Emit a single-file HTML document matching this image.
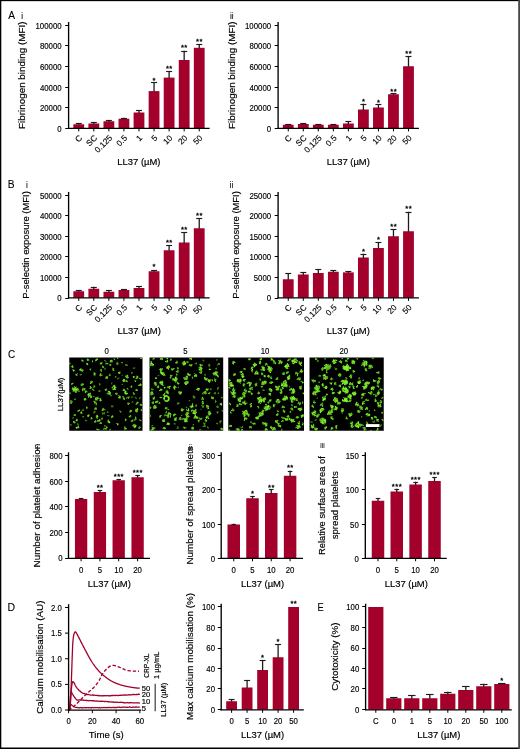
<!DOCTYPE html>
<html lang="en">
<head>
<meta charset="utf-8">
<title>LL37 platelet activation figure</title>
<style>html,body{margin:0;padding:0;background:#fff;}#fig{width:520px;height:749px;will-change:transform;overflow:hidden;}svg{display:block;}text{font-family:"Liberation Sans",sans-serif;}</style>
</head>
<body>
<div id="fig">
<svg width="520" height="749" viewBox="0 0 520 749" font-family='"Liberation Sans", sans-serif'>
<rect x="0" y="0" width="520" height="749" fill="#ffffff"/>
<text x="8.2" y="18.8" font-size="11.4" text-anchor="start" fill="#000" textLength="6.8" lengthAdjust="spacingAndGlyphs" stroke="#000" stroke-width="0.1">A</text>
<rect x="73.35" y="124.25" width="10.8" height="3.95" fill="#A3002B"/>
<line x1="78.75" y1="123.5" x2="78.75" y2="124.75" stroke="#1c1c1c" stroke-width="1.3"/>
<line x1="75.75" y1="123.5" x2="81.75" y2="123.5" stroke="#1c1c1c" stroke-width="1.15"/>
<rect x="88.41" y="123.5" width="10.8" height="4.7" fill="#A3002B"/>
<line x1="93.81" y1="122.5" x2="93.81" y2="124" stroke="#1c1c1c" stroke-width="1.3"/>
<line x1="90.81" y1="122.5" x2="96.81" y2="122.5" stroke="#1c1c1c" stroke-width="1.15"/>
<rect x="103.47" y="121.25" width="10.8" height="6.95" fill="#A3002B"/>
<line x1="108.87" y1="120.5" x2="108.87" y2="121.75" stroke="#1c1c1c" stroke-width="1.3"/>
<line x1="105.87" y1="120.5" x2="111.87" y2="120.5" stroke="#1c1c1c" stroke-width="1.15"/>
<rect x="118.53" y="118.75" width="10.8" height="9.45" fill="#A3002B"/>
<line x1="123.93" y1="117.75" x2="123.93" y2="119.25" stroke="#1c1c1c" stroke-width="1.3"/>
<line x1="120.93" y1="118.5" x2="126.93" y2="118.5" stroke="#1c1c1c" stroke-width="1.15"/>
<rect x="133.59" y="112.5" width="10.8" height="15.7" fill="#A3002B"/>
<line x1="138.99" y1="110.25" x2="138.99" y2="113" stroke="#1c1c1c" stroke-width="1.3"/>
<line x1="135.99" y1="110.5" x2="141.99" y2="110.5" stroke="#1c1c1c" stroke-width="1.15"/>
<rect x="148.65" y="91.1" width="10.8" height="37.1" fill="#A3002B"/>
<line x1="154.05" y1="82.6" x2="154.05" y2="91.6" stroke="#1c1c1c" stroke-width="1.3"/>
<line x1="151.05" y1="82.5" x2="157.05" y2="82.5" stroke="#1c1c1c" stroke-width="1.15"/>
<text x="154.25" y="82.95" font-size="7.6" text-anchor="middle" fill="#000" stroke="#000" stroke-width="0.3" letter-spacing="0.45">*</text>
<rect x="163.71" y="77.6" width="10.8" height="50.6" fill="#A3002B"/>
<line x1="169.11" y1="71.25" x2="169.11" y2="78.1" stroke="#1c1c1c" stroke-width="1.3"/>
<line x1="166.11" y1="71.5" x2="172.11" y2="71.5" stroke="#1c1c1c" stroke-width="1.15"/>
<text x="169.31" y="70.75" font-size="7.6" text-anchor="middle" fill="#000" stroke="#000" stroke-width="0.3" letter-spacing="0.45">**</text>
<rect x="178.77" y="60" width="10.8" height="68.2" fill="#A3002B"/>
<line x1="184.17" y1="50.75" x2="184.17" y2="60.5" stroke="#1c1c1c" stroke-width="1.3"/>
<line x1="181.17" y1="51.5" x2="187.17" y2="51.5" stroke="#1c1c1c" stroke-width="1.15"/>
<text x="184.37" y="50.25" font-size="7.6" text-anchor="middle" fill="#000" stroke="#000" stroke-width="0.3" letter-spacing="0.45">**</text>
<rect x="193.83" y="47.8" width="10.8" height="80.4" fill="#A3002B"/>
<line x1="199.23" y1="44.4" x2="199.23" y2="48.3" stroke="#1c1c1c" stroke-width="1.3"/>
<line x1="196.23" y1="44.5" x2="202.23" y2="44.5" stroke="#1c1c1c" stroke-width="1.15"/>
<text x="199.43" y="44.05" font-size="7.6" text-anchor="middle" fill="#000" stroke="#000" stroke-width="0.3" letter-spacing="0.45">**</text>
<line x1="68.6" y1="22.05" x2="68.6" y2="128.8" stroke="#000" stroke-width="1.35"/>
<line x1="67.95" y1="128.4" x2="209.6" y2="128.4" stroke="#000" stroke-width="1.2"/>
<line x1="65.2" y1="128.5" x2="68.6" y2="128.5" stroke="#000" stroke-width="1.05"/>
<text x="61.6" y="131.75" font-size="8.4" text-anchor="end" fill="#000" textLength="4.34" lengthAdjust="spacingAndGlyphs" stroke="#000" stroke-width="0.15">0</text>
<line x1="65.2" y1="107.5" x2="68.6" y2="107.5" stroke="#000" stroke-width="1.05"/>
<text x="61.6" y="111.13" font-size="8.4" text-anchor="end" fill="#000" textLength="21.72" lengthAdjust="spacingAndGlyphs" stroke="#000" stroke-width="0.15">20000</text>
<line x1="65.2" y1="87.5" x2="68.6" y2="87.5" stroke="#000" stroke-width="1.05"/>
<text x="61.6" y="90.51" font-size="8.4" text-anchor="end" fill="#000" textLength="21.72" lengthAdjust="spacingAndGlyphs" stroke="#000" stroke-width="0.15">40000</text>
<line x1="65.2" y1="66.5" x2="68.6" y2="66.5" stroke="#000" stroke-width="1.05"/>
<text x="61.6" y="69.89" font-size="8.4" text-anchor="end" fill="#000" textLength="21.72" lengthAdjust="spacingAndGlyphs" stroke="#000" stroke-width="0.15">60000</text>
<line x1="65.2" y1="45.5" x2="68.6" y2="45.5" stroke="#000" stroke-width="1.05"/>
<text x="61.6" y="49.27" font-size="8.4" text-anchor="end" fill="#000" textLength="21.72" lengthAdjust="spacingAndGlyphs" stroke="#000" stroke-width="0.15">80000</text>
<line x1="65.2" y1="25.5" x2="68.6" y2="25.5" stroke="#000" stroke-width="1.05"/>
<text x="61.6" y="28.65" font-size="8.4" text-anchor="end" fill="#000" textLength="26.06" lengthAdjust="spacingAndGlyphs" stroke="#000" stroke-width="0.15">100000</text>
<line x1="78.75" y1="128.2" x2="78.75" y2="131.4" stroke="#000" stroke-width="1"/>
<text x="82.65" y="138.5" font-size="8.3" text-anchor="end" fill="#000" transform="rotate(-45 82.65 138.5)" stroke="#000" stroke-width="0.14">C</text>
<line x1="93.81" y1="128.2" x2="93.81" y2="131.4" stroke="#000" stroke-width="1"/>
<text x="97.71" y="138.5" font-size="8.3" text-anchor="end" fill="#000" transform="rotate(-45 97.71 138.5)" stroke="#000" stroke-width="0.14">SC</text>
<line x1="108.87" y1="128.2" x2="108.87" y2="131.4" stroke="#000" stroke-width="1"/>
<text x="112.77" y="138.5" font-size="8.3" text-anchor="end" fill="#000" transform="rotate(-45 112.77 138.5)" stroke="#000" stroke-width="0.14">0.125</text>
<line x1="123.93" y1="128.2" x2="123.93" y2="131.4" stroke="#000" stroke-width="1"/>
<text x="127.83" y="138.5" font-size="8.3" text-anchor="end" fill="#000" transform="rotate(-45 127.83 138.5)" stroke="#000" stroke-width="0.14">0.5</text>
<line x1="138.99" y1="128.2" x2="138.99" y2="131.4" stroke="#000" stroke-width="1"/>
<text x="142.89" y="138.5" font-size="8.3" text-anchor="end" fill="#000" transform="rotate(-45 142.89 138.5)" stroke="#000" stroke-width="0.14">1</text>
<line x1="154.05" y1="128.2" x2="154.05" y2="131.4" stroke="#000" stroke-width="1"/>
<text x="157.95" y="138.5" font-size="8.3" text-anchor="end" fill="#000" transform="rotate(-45 157.95 138.5)" stroke="#000" stroke-width="0.14">5</text>
<line x1="169.11" y1="128.2" x2="169.11" y2="131.4" stroke="#000" stroke-width="1"/>
<text x="173.01" y="138.5" font-size="8.3" text-anchor="end" fill="#000" transform="rotate(-45 173.01 138.5)" stroke="#000" stroke-width="0.14">10</text>
<line x1="184.17" y1="128.2" x2="184.17" y2="131.4" stroke="#000" stroke-width="1"/>
<text x="188.07" y="138.5" font-size="8.3" text-anchor="end" fill="#000" transform="rotate(-45 188.07 138.5)" stroke="#000" stroke-width="0.14">20</text>
<line x1="199.23" y1="128.2" x2="199.23" y2="131.4" stroke="#000" stroke-width="1"/>
<text x="203.13" y="138.5" font-size="8.3" text-anchor="end" fill="#000" transform="rotate(-45 203.13 138.5)" stroke="#000" stroke-width="0.14">50</text>
<text x="138.9" y="164.6" font-size="9.7" text-anchor="middle" fill="#000" textLength="43.2" lengthAdjust="spacingAndGlyphs" stroke="#000" stroke-width="0.18">LL37 (µM)</text>
<text x="25" y="129" font-size="9.9" text-anchor="start" fill="#000" transform="rotate(-90 25 129)" textLength="107.5" lengthAdjust="spacingAndGlyphs" stroke="#000" stroke-width="0.18">Fibrinogen binding (MFI)</text>
<text x="22.2" y="18.7" font-size="8.2" text-anchor="middle" fill="#111" stroke="#111" stroke-width="0.12">i</text>
<rect x="282.85" y="124.75" width="10.8" height="3.45" fill="#A3002B"/>
<line x1="288.25" y1="124" x2="288.25" y2="125.25" stroke="#1c1c1c" stroke-width="1.3"/>
<line x1="285.25" y1="124.5" x2="291.25" y2="124.5" stroke="#1c1c1c" stroke-width="1.15"/>
<rect x="297.88" y="124" width="10.8" height="4.2" fill="#A3002B"/>
<line x1="303.28" y1="123.2" x2="303.28" y2="124.5" stroke="#1c1c1c" stroke-width="1.3"/>
<line x1="300.28" y1="123.5" x2="306.28" y2="123.5" stroke="#1c1c1c" stroke-width="1.15"/>
<rect x="312.91" y="124.75" width="10.8" height="3.45" fill="#A3002B"/>
<line x1="318.31" y1="124" x2="318.31" y2="125.25" stroke="#1c1c1c" stroke-width="1.3"/>
<line x1="315.31" y1="124.5" x2="321.31" y2="124.5" stroke="#1c1c1c" stroke-width="1.15"/>
<rect x="327.94" y="124.75" width="10.8" height="3.45" fill="#A3002B"/>
<line x1="333.34" y1="124" x2="333.34" y2="125.25" stroke="#1c1c1c" stroke-width="1.3"/>
<line x1="330.34" y1="124.5" x2="336.34" y2="124.5" stroke="#1c1c1c" stroke-width="1.15"/>
<rect x="342.97" y="123.5" width="10.8" height="4.7" fill="#A3002B"/>
<line x1="348.37" y1="121.25" x2="348.37" y2="124" stroke="#1c1c1c" stroke-width="1.3"/>
<line x1="345.37" y1="121.5" x2="351.37" y2="121.5" stroke="#1c1c1c" stroke-width="1.15"/>
<rect x="358" y="109.5" width="10.8" height="18.7" fill="#A3002B"/>
<line x1="363.4" y1="103.75" x2="363.4" y2="110" stroke="#1c1c1c" stroke-width="1.3"/>
<line x1="360.4" y1="104.5" x2="366.4" y2="104.5" stroke="#1c1c1c" stroke-width="1.15"/>
<text x="363.6" y="103.75" font-size="7.6" text-anchor="middle" fill="#000" stroke="#000" stroke-width="0.3" letter-spacing="0.45">*</text>
<rect x="373.03" y="107.5" width="10.8" height="20.7" fill="#A3002B"/>
<line x1="378.43" y1="104.25" x2="378.43" y2="108" stroke="#1c1c1c" stroke-width="1.3"/>
<line x1="375.43" y1="104.5" x2="381.43" y2="104.5" stroke="#1c1c1c" stroke-width="1.15"/>
<text x="378.63" y="104.5" font-size="7.6" text-anchor="middle" fill="#000" stroke="#000" stroke-width="0.3" letter-spacing="0.45">*</text>
<rect x="388.06" y="94.25" width="10.8" height="33.95" fill="#A3002B"/>
<line x1="393.46" y1="93.5" x2="393.46" y2="94.75" stroke="#1c1c1c" stroke-width="1.3"/>
<line x1="390.46" y1="93.5" x2="396.46" y2="93.5" stroke="#1c1c1c" stroke-width="1.15"/>
<text x="393.66" y="93.75" font-size="7.6" text-anchor="middle" fill="#000" stroke="#000" stroke-width="0.3" letter-spacing="0.45">**</text>
<rect x="403.09" y="66.25" width="10.8" height="61.95" fill="#A3002B"/>
<line x1="408.49" y1="56" x2="408.49" y2="66.75" stroke="#1c1c1c" stroke-width="1.3"/>
<line x1="405.49" y1="56.5" x2="411.49" y2="56.5" stroke="#1c1c1c" stroke-width="1.15"/>
<text x="408.69" y="56.25" font-size="7.6" text-anchor="middle" fill="#000" stroke="#000" stroke-width="0.3" letter-spacing="0.45">**</text>
<line x1="278.1" y1="22.05" x2="278.1" y2="128.8" stroke="#000" stroke-width="1.35"/>
<line x1="277.45" y1="128.4" x2="418.9" y2="128.4" stroke="#000" stroke-width="1.2"/>
<line x1="274.7" y1="128.5" x2="278.1" y2="128.5" stroke="#000" stroke-width="1.05"/>
<text x="271.1" y="131.75" font-size="8.4" text-anchor="end" fill="#000" textLength="4.34" lengthAdjust="spacingAndGlyphs" stroke="#000" stroke-width="0.15">0</text>
<line x1="274.7" y1="107.5" x2="278.1" y2="107.5" stroke="#000" stroke-width="1.05"/>
<text x="271.1" y="111.13" font-size="8.4" text-anchor="end" fill="#000" textLength="21.72" lengthAdjust="spacingAndGlyphs" stroke="#000" stroke-width="0.15">20000</text>
<line x1="274.7" y1="87.5" x2="278.1" y2="87.5" stroke="#000" stroke-width="1.05"/>
<text x="271.1" y="90.51" font-size="8.4" text-anchor="end" fill="#000" textLength="21.72" lengthAdjust="spacingAndGlyphs" stroke="#000" stroke-width="0.15">40000</text>
<line x1="274.7" y1="66.5" x2="278.1" y2="66.5" stroke="#000" stroke-width="1.05"/>
<text x="271.1" y="69.89" font-size="8.4" text-anchor="end" fill="#000" textLength="21.72" lengthAdjust="spacingAndGlyphs" stroke="#000" stroke-width="0.15">60000</text>
<line x1="274.7" y1="45.5" x2="278.1" y2="45.5" stroke="#000" stroke-width="1.05"/>
<text x="271.1" y="49.27" font-size="8.4" text-anchor="end" fill="#000" textLength="21.72" lengthAdjust="spacingAndGlyphs" stroke="#000" stroke-width="0.15">80000</text>
<line x1="274.7" y1="25.5" x2="278.1" y2="25.5" stroke="#000" stroke-width="1.05"/>
<text x="271.1" y="28.65" font-size="8.4" text-anchor="end" fill="#000" textLength="26.06" lengthAdjust="spacingAndGlyphs" stroke="#000" stroke-width="0.15">100000</text>
<line x1="288.25" y1="128.2" x2="288.25" y2="131.4" stroke="#000" stroke-width="1"/>
<text x="292.15" y="138.5" font-size="8.3" text-anchor="end" fill="#000" transform="rotate(-45 292.15 138.5)" stroke="#000" stroke-width="0.14">C</text>
<line x1="303.28" y1="128.2" x2="303.28" y2="131.4" stroke="#000" stroke-width="1"/>
<text x="307.18" y="138.5" font-size="8.3" text-anchor="end" fill="#000" transform="rotate(-45 307.18 138.5)" stroke="#000" stroke-width="0.14">SC</text>
<line x1="318.31" y1="128.2" x2="318.31" y2="131.4" stroke="#000" stroke-width="1"/>
<text x="322.21" y="138.5" font-size="8.3" text-anchor="end" fill="#000" transform="rotate(-45 322.21 138.5)" stroke="#000" stroke-width="0.14">0.125</text>
<line x1="333.34" y1="128.2" x2="333.34" y2="131.4" stroke="#000" stroke-width="1"/>
<text x="337.24" y="138.5" font-size="8.3" text-anchor="end" fill="#000" transform="rotate(-45 337.24 138.5)" stroke="#000" stroke-width="0.14">0.5</text>
<line x1="348.37" y1="128.2" x2="348.37" y2="131.4" stroke="#000" stroke-width="1"/>
<text x="352.27" y="138.5" font-size="8.3" text-anchor="end" fill="#000" transform="rotate(-45 352.27 138.5)" stroke="#000" stroke-width="0.14">1</text>
<line x1="363.4" y1="128.2" x2="363.4" y2="131.4" stroke="#000" stroke-width="1"/>
<text x="367.3" y="138.5" font-size="8.3" text-anchor="end" fill="#000" transform="rotate(-45 367.3 138.5)" stroke="#000" stroke-width="0.14">5</text>
<line x1="378.43" y1="128.2" x2="378.43" y2="131.4" stroke="#000" stroke-width="1"/>
<text x="382.33" y="138.5" font-size="8.3" text-anchor="end" fill="#000" transform="rotate(-45 382.33 138.5)" stroke="#000" stroke-width="0.14">10</text>
<line x1="393.46" y1="128.2" x2="393.46" y2="131.4" stroke="#000" stroke-width="1"/>
<text x="397.36" y="138.5" font-size="8.3" text-anchor="end" fill="#000" transform="rotate(-45 397.36 138.5)" stroke="#000" stroke-width="0.14">20</text>
<line x1="408.49" y1="128.2" x2="408.49" y2="131.4" stroke="#000" stroke-width="1"/>
<text x="412.39" y="138.5" font-size="8.3" text-anchor="end" fill="#000" transform="rotate(-45 412.39 138.5)" stroke="#000" stroke-width="0.14">50</text>
<text x="348.3" y="164.6" font-size="9.7" text-anchor="middle" fill="#000" textLength="43.2" lengthAdjust="spacingAndGlyphs" stroke="#000" stroke-width="0.18">LL37 (µM)</text>
<text x="234.5" y="129" font-size="9.9" text-anchor="start" fill="#000" transform="rotate(-90 234.5 129)" textLength="107.5" lengthAdjust="spacingAndGlyphs" stroke="#000" stroke-width="0.18">Fibrinogen binding (MFI)</text>
<text x="231.7" y="18.7" font-size="8.2" text-anchor="middle" fill="#111" stroke="#111" stroke-width="0.12">ii</text>
<text x="7.8" y="188.1" font-size="11.4" text-anchor="start" fill="#000" textLength="6.8" lengthAdjust="spacingAndGlyphs" stroke="#000" stroke-width="0.1">B</text>
<rect x="73.35" y="291.25" width="10.8" height="6.45" fill="#A3002B"/>
<line x1="78.75" y1="290" x2="78.75" y2="291.75" stroke="#1c1c1c" stroke-width="1.3"/>
<line x1="75.75" y1="290.5" x2="81.75" y2="290.5" stroke="#1c1c1c" stroke-width="1.15"/>
<rect x="88.41" y="288.75" width="10.8" height="8.95" fill="#A3002B"/>
<line x1="93.81" y1="286.75" x2="93.81" y2="289.25" stroke="#1c1c1c" stroke-width="1.3"/>
<line x1="90.81" y1="287.5" x2="96.81" y2="287.5" stroke="#1c1c1c" stroke-width="1.15"/>
<rect x="103.47" y="291.75" width="10.8" height="5.95" fill="#A3002B"/>
<line x1="108.87" y1="290.25" x2="108.87" y2="292.25" stroke="#1c1c1c" stroke-width="1.3"/>
<line x1="105.87" y1="290.5" x2="111.87" y2="290.5" stroke="#1c1c1c" stroke-width="1.15"/>
<rect x="118.53" y="290" width="10.8" height="7.7" fill="#A3002B"/>
<line x1="123.93" y1="289.25" x2="123.93" y2="290.5" stroke="#1c1c1c" stroke-width="1.3"/>
<line x1="120.93" y1="289.5" x2="126.93" y2="289.5" stroke="#1c1c1c" stroke-width="1.15"/>
<rect x="133.59" y="288" width="10.8" height="9.7" fill="#A3002B"/>
<line x1="138.99" y1="286" x2="138.99" y2="288.5" stroke="#1c1c1c" stroke-width="1.3"/>
<line x1="135.99" y1="286.5" x2="141.99" y2="286.5" stroke="#1c1c1c" stroke-width="1.15"/>
<rect x="148.65" y="271.25" width="10.8" height="26.45" fill="#A3002B"/>
<line x1="154.05" y1="270" x2="154.05" y2="271.75" stroke="#1c1c1c" stroke-width="1.3"/>
<line x1="151.05" y1="270.5" x2="157.05" y2="270.5" stroke="#1c1c1c" stroke-width="1.15"/>
<text x="154.25" y="269.25" font-size="7.6" text-anchor="middle" fill="#000" stroke="#000" stroke-width="0.3" letter-spacing="0.45">*</text>
<rect x="163.71" y="250.25" width="10.8" height="47.45" fill="#A3002B"/>
<line x1="169.11" y1="245.25" x2="169.11" y2="250.75" stroke="#1c1c1c" stroke-width="1.3"/>
<line x1="166.11" y1="245.5" x2="172.11" y2="245.5" stroke="#1c1c1c" stroke-width="1.15"/>
<text x="169.31" y="244.5" font-size="7.6" text-anchor="middle" fill="#000" stroke="#000" stroke-width="0.3" letter-spacing="0.45">**</text>
<rect x="178.77" y="242.5" width="10.8" height="55.2" fill="#A3002B"/>
<line x1="184.17" y1="232.5" x2="184.17" y2="243" stroke="#1c1c1c" stroke-width="1.3"/>
<line x1="181.17" y1="232.5" x2="187.17" y2="232.5" stroke="#1c1c1c" stroke-width="1.15"/>
<text x="184.37" y="232.25" font-size="7.6" text-anchor="middle" fill="#000" stroke="#000" stroke-width="0.3" letter-spacing="0.45">**</text>
<rect x="193.83" y="228.25" width="10.8" height="69.45" fill="#A3002B"/>
<line x1="199.23" y1="218.25" x2="199.23" y2="228.75" stroke="#1c1c1c" stroke-width="1.3"/>
<line x1="196.23" y1="218.5" x2="202.23" y2="218.5" stroke="#1c1c1c" stroke-width="1.15"/>
<text x="199.43" y="218" font-size="7.6" text-anchor="middle" fill="#000" stroke="#000" stroke-width="0.3" letter-spacing="0.45">**</text>
<line x1="68.6" y1="191.9" x2="68.6" y2="298.3" stroke="#000" stroke-width="1.35"/>
<line x1="67.95" y1="297.9" x2="209.6" y2="297.9" stroke="#000" stroke-width="1.2"/>
<line x1="65.2" y1="298.5" x2="68.6" y2="298.5" stroke="#000" stroke-width="1.05"/>
<text x="61.6" y="301.35" font-size="8.4" text-anchor="end" fill="#000" textLength="4.34" lengthAdjust="spacingAndGlyphs" stroke="#000" stroke-width="0.15">0</text>
<line x1="65.2" y1="277.5" x2="68.6" y2="277.5" stroke="#000" stroke-width="1.05"/>
<text x="61.6" y="280.78" font-size="8.4" text-anchor="end" fill="#000" textLength="21.72" lengthAdjust="spacingAndGlyphs" stroke="#000" stroke-width="0.15">10000</text>
<line x1="65.2" y1="256.5" x2="68.6" y2="256.5" stroke="#000" stroke-width="1.05"/>
<text x="61.6" y="260.21" font-size="8.4" text-anchor="end" fill="#000" textLength="21.72" lengthAdjust="spacingAndGlyphs" stroke="#000" stroke-width="0.15">20000</text>
<line x1="65.2" y1="236.5" x2="68.6" y2="236.5" stroke="#000" stroke-width="1.05"/>
<text x="61.6" y="239.64" font-size="8.4" text-anchor="end" fill="#000" textLength="21.72" lengthAdjust="spacingAndGlyphs" stroke="#000" stroke-width="0.15">30000</text>
<line x1="65.2" y1="215.5" x2="68.6" y2="215.5" stroke="#000" stroke-width="1.05"/>
<text x="61.6" y="219.07" font-size="8.4" text-anchor="end" fill="#000" textLength="21.72" lengthAdjust="spacingAndGlyphs" stroke="#000" stroke-width="0.15">40000</text>
<line x1="65.2" y1="195.5" x2="68.6" y2="195.5" stroke="#000" stroke-width="1.05"/>
<text x="61.6" y="198.5" font-size="8.4" text-anchor="end" fill="#000" textLength="21.72" lengthAdjust="spacingAndGlyphs" stroke="#000" stroke-width="0.15">50000</text>
<line x1="78.75" y1="297.7" x2="78.75" y2="300.9" stroke="#000" stroke-width="1"/>
<text x="82.65" y="308" font-size="8.3" text-anchor="end" fill="#000" transform="rotate(-45 82.65 308)" stroke="#000" stroke-width="0.14">C</text>
<line x1="93.81" y1="297.7" x2="93.81" y2="300.9" stroke="#000" stroke-width="1"/>
<text x="97.71" y="308" font-size="8.3" text-anchor="end" fill="#000" transform="rotate(-45 97.71 308)" stroke="#000" stroke-width="0.14">SC</text>
<line x1="108.87" y1="297.7" x2="108.87" y2="300.9" stroke="#000" stroke-width="1"/>
<text x="112.77" y="308" font-size="8.3" text-anchor="end" fill="#000" transform="rotate(-45 112.77 308)" stroke="#000" stroke-width="0.14">0.125</text>
<line x1="123.93" y1="297.7" x2="123.93" y2="300.9" stroke="#000" stroke-width="1"/>
<text x="127.83" y="308" font-size="8.3" text-anchor="end" fill="#000" transform="rotate(-45 127.83 308)" stroke="#000" stroke-width="0.14">0.5</text>
<line x1="138.99" y1="297.7" x2="138.99" y2="300.9" stroke="#000" stroke-width="1"/>
<text x="142.89" y="308" font-size="8.3" text-anchor="end" fill="#000" transform="rotate(-45 142.89 308)" stroke="#000" stroke-width="0.14">1</text>
<line x1="154.05" y1="297.7" x2="154.05" y2="300.9" stroke="#000" stroke-width="1"/>
<text x="157.95" y="308" font-size="8.3" text-anchor="end" fill="#000" transform="rotate(-45 157.95 308)" stroke="#000" stroke-width="0.14">5</text>
<line x1="169.11" y1="297.7" x2="169.11" y2="300.9" stroke="#000" stroke-width="1"/>
<text x="173.01" y="308" font-size="8.3" text-anchor="end" fill="#000" transform="rotate(-45 173.01 308)" stroke="#000" stroke-width="0.14">10</text>
<line x1="184.17" y1="297.7" x2="184.17" y2="300.9" stroke="#000" stroke-width="1"/>
<text x="188.07" y="308" font-size="8.3" text-anchor="end" fill="#000" transform="rotate(-45 188.07 308)" stroke="#000" stroke-width="0.14">20</text>
<line x1="199.23" y1="297.7" x2="199.23" y2="300.9" stroke="#000" stroke-width="1"/>
<text x="203.13" y="308" font-size="8.3" text-anchor="end" fill="#000" transform="rotate(-45 203.13 308)" stroke="#000" stroke-width="0.14">50</text>
<text x="139.2" y="334.3" font-size="9.7" text-anchor="middle" fill="#000" textLength="43.2" lengthAdjust="spacingAndGlyphs" stroke="#000" stroke-width="0.18">LL37 (µM)</text>
<text x="29.4" y="298.7" font-size="9.9" text-anchor="start" fill="#000" transform="rotate(-90 29.4 298.7)" textLength="107.5" lengthAdjust="spacingAndGlyphs" stroke="#000" stroke-width="0.18">P-selectin exposure (MFI)</text>
<text x="26.8" y="188" font-size="8.2" text-anchor="middle" fill="#111" stroke="#111" stroke-width="0.12">i</text>
<rect x="282.85" y="279.25" width="10.8" height="18.45" fill="#A3002B"/>
<line x1="288.25" y1="273.25" x2="288.25" y2="279.75" stroke="#1c1c1c" stroke-width="1.3"/>
<line x1="285.25" y1="273.5" x2="291.25" y2="273.5" stroke="#1c1c1c" stroke-width="1.15"/>
<rect x="297.88" y="274.5" width="10.8" height="23.2" fill="#A3002B"/>
<line x1="303.28" y1="272" x2="303.28" y2="275" stroke="#1c1c1c" stroke-width="1.3"/>
<line x1="300.28" y1="272.5" x2="306.28" y2="272.5" stroke="#1c1c1c" stroke-width="1.15"/>
<rect x="312.91" y="273" width="10.8" height="24.7" fill="#A3002B"/>
<line x1="318.31" y1="269.25" x2="318.31" y2="273.5" stroke="#1c1c1c" stroke-width="1.3"/>
<line x1="315.31" y1="269.5" x2="321.31" y2="269.5" stroke="#1c1c1c" stroke-width="1.15"/>
<rect x="327.94" y="271.75" width="10.8" height="25.95" fill="#A3002B"/>
<line x1="333.34" y1="270.25" x2="333.34" y2="272.25" stroke="#1c1c1c" stroke-width="1.3"/>
<line x1="330.34" y1="270.5" x2="336.34" y2="270.5" stroke="#1c1c1c" stroke-width="1.15"/>
<rect x="342.97" y="272.4" width="10.8" height="25.3" fill="#A3002B"/>
<line x1="348.37" y1="271.25" x2="348.37" y2="272.9" stroke="#1c1c1c" stroke-width="1.3"/>
<line x1="345.37" y1="271.5" x2="351.37" y2="271.5" stroke="#1c1c1c" stroke-width="1.15"/>
<rect x="358" y="257.5" width="10.8" height="40.2" fill="#A3002B"/>
<line x1="363.4" y1="253.75" x2="363.4" y2="258" stroke="#1c1c1c" stroke-width="1.3"/>
<line x1="360.4" y1="254.5" x2="366.4" y2="254.5" stroke="#1c1c1c" stroke-width="1.15"/>
<text x="363.6" y="253.75" font-size="7.6" text-anchor="middle" fill="#000" stroke="#000" stroke-width="0.3" letter-spacing="0.45">*</text>
<rect x="373.03" y="248" width="10.8" height="49.7" fill="#A3002B"/>
<line x1="378.43" y1="242.5" x2="378.43" y2="248.5" stroke="#1c1c1c" stroke-width="1.3"/>
<line x1="375.43" y1="242.5" x2="381.43" y2="242.5" stroke="#1c1c1c" stroke-width="1.15"/>
<text x="378.63" y="242" font-size="7.6" text-anchor="middle" fill="#000" stroke="#000" stroke-width="0.3" letter-spacing="0.45">*</text>
<rect x="388.06" y="236.25" width="10.8" height="61.45" fill="#A3002B"/>
<line x1="393.46" y1="229.25" x2="393.46" y2="236.75" stroke="#1c1c1c" stroke-width="1.3"/>
<line x1="390.46" y1="229.5" x2="396.46" y2="229.5" stroke="#1c1c1c" stroke-width="1.15"/>
<text x="393.66" y="229.25" font-size="7.6" text-anchor="middle" fill="#000" stroke="#000" stroke-width="0.3" letter-spacing="0.45">**</text>
<rect x="403.09" y="231.25" width="10.8" height="66.45" fill="#A3002B"/>
<line x1="408.49" y1="211.75" x2="408.49" y2="231.75" stroke="#1c1c1c" stroke-width="1.3"/>
<line x1="405.49" y1="212.5" x2="411.49" y2="212.5" stroke="#1c1c1c" stroke-width="1.15"/>
<text x="408.69" y="211.25" font-size="7.6" text-anchor="middle" fill="#000" stroke="#000" stroke-width="0.3" letter-spacing="0.45">**</text>
<line x1="278.1" y1="191.9" x2="278.1" y2="298.3" stroke="#000" stroke-width="1.35"/>
<line x1="277.45" y1="297.9" x2="418.9" y2="297.9" stroke="#000" stroke-width="1.2"/>
<line x1="274.7" y1="298.5" x2="278.1" y2="298.5" stroke="#000" stroke-width="1.05"/>
<text x="271.1" y="301.35" font-size="8.4" text-anchor="end" fill="#000" textLength="4.34" lengthAdjust="spacingAndGlyphs" stroke="#000" stroke-width="0.15">0</text>
<line x1="274.7" y1="277.5" x2="278.1" y2="277.5" stroke="#000" stroke-width="1.05"/>
<text x="271.1" y="280.78" font-size="8.4" text-anchor="end" fill="#000" textLength="17.37" lengthAdjust="spacingAndGlyphs" stroke="#000" stroke-width="0.15">5000</text>
<line x1="274.7" y1="256.5" x2="278.1" y2="256.5" stroke="#000" stroke-width="1.05"/>
<text x="271.1" y="260.21" font-size="8.4" text-anchor="end" fill="#000" textLength="21.72" lengthAdjust="spacingAndGlyphs" stroke="#000" stroke-width="0.15">10000</text>
<line x1="274.7" y1="236.5" x2="278.1" y2="236.5" stroke="#000" stroke-width="1.05"/>
<text x="271.1" y="239.64" font-size="8.4" text-anchor="end" fill="#000" textLength="21.72" lengthAdjust="spacingAndGlyphs" stroke="#000" stroke-width="0.15">15000</text>
<line x1="274.7" y1="215.5" x2="278.1" y2="215.5" stroke="#000" stroke-width="1.05"/>
<text x="271.1" y="219.07" font-size="8.4" text-anchor="end" fill="#000" textLength="21.72" lengthAdjust="spacingAndGlyphs" stroke="#000" stroke-width="0.15">20000</text>
<line x1="274.7" y1="195.5" x2="278.1" y2="195.5" stroke="#000" stroke-width="1.05"/>
<text x="271.1" y="198.5" font-size="8.4" text-anchor="end" fill="#000" textLength="21.72" lengthAdjust="spacingAndGlyphs" stroke="#000" stroke-width="0.15">25000</text>
<line x1="288.25" y1="297.7" x2="288.25" y2="300.9" stroke="#000" stroke-width="1"/>
<text x="292.15" y="308" font-size="8.3" text-anchor="end" fill="#000" transform="rotate(-45 292.15 308)" stroke="#000" stroke-width="0.14">C</text>
<line x1="303.28" y1="297.7" x2="303.28" y2="300.9" stroke="#000" stroke-width="1"/>
<text x="307.18" y="308" font-size="8.3" text-anchor="end" fill="#000" transform="rotate(-45 307.18 308)" stroke="#000" stroke-width="0.14">SC</text>
<line x1="318.31" y1="297.7" x2="318.31" y2="300.9" stroke="#000" stroke-width="1"/>
<text x="322.21" y="308" font-size="8.3" text-anchor="end" fill="#000" transform="rotate(-45 322.21 308)" stroke="#000" stroke-width="0.14">0.125</text>
<line x1="333.34" y1="297.7" x2="333.34" y2="300.9" stroke="#000" stroke-width="1"/>
<text x="337.24" y="308" font-size="8.3" text-anchor="end" fill="#000" transform="rotate(-45 337.24 308)" stroke="#000" stroke-width="0.14">0.5</text>
<line x1="348.37" y1="297.7" x2="348.37" y2="300.9" stroke="#000" stroke-width="1"/>
<text x="352.27" y="308" font-size="8.3" text-anchor="end" fill="#000" transform="rotate(-45 352.27 308)" stroke="#000" stroke-width="0.14">1</text>
<line x1="363.4" y1="297.7" x2="363.4" y2="300.9" stroke="#000" stroke-width="1"/>
<text x="367.3" y="308" font-size="8.3" text-anchor="end" fill="#000" transform="rotate(-45 367.3 308)" stroke="#000" stroke-width="0.14">5</text>
<line x1="378.43" y1="297.7" x2="378.43" y2="300.9" stroke="#000" stroke-width="1"/>
<text x="382.33" y="308" font-size="8.3" text-anchor="end" fill="#000" transform="rotate(-45 382.33 308)" stroke="#000" stroke-width="0.14">10</text>
<line x1="393.46" y1="297.7" x2="393.46" y2="300.9" stroke="#000" stroke-width="1"/>
<text x="397.36" y="308" font-size="8.3" text-anchor="end" fill="#000" transform="rotate(-45 397.36 308)" stroke="#000" stroke-width="0.14">20</text>
<line x1="408.49" y1="297.7" x2="408.49" y2="300.9" stroke="#000" stroke-width="1"/>
<text x="412.39" y="308" font-size="8.3" text-anchor="end" fill="#000" transform="rotate(-45 412.39 308)" stroke="#000" stroke-width="0.14">50</text>
<text x="348.3" y="334.3" font-size="9.7" text-anchor="middle" fill="#000" textLength="43.2" lengthAdjust="spacingAndGlyphs" stroke="#000" stroke-width="0.18">LL37 (µM)</text>
<text x="238.8" y="298.7" font-size="9.9" text-anchor="start" fill="#000" transform="rotate(-90 238.8 298.7)" textLength="107.5" lengthAdjust="spacingAndGlyphs" stroke="#000" stroke-width="0.18">P-selectin exposure (MFI)</text>
<text x="231.4" y="188.2" font-size="8.2" text-anchor="middle" fill="#111" stroke="#111" stroke-width="0.12">ii</text>
<text x="7.9" y="357.6" font-size="11.4" text-anchor="start" fill="#000" textLength="7.2" lengthAdjust="spacingAndGlyphs" stroke="#000" stroke-width="0.1">C</text>
<defs><filter id="soft" x="-5%" y="-5%" width="110%" height="110%"><feGaussianBlur stdDeviation="0.27"/></filter>
<clipPath id="clip0"><rect x="69.25" y="357.5" width="73.25" height="73.25"/></clipPath>
<clipPath id="clip1"><rect x="149.5" y="357.5" width="73.7" height="73.25"/></clipPath>
<clipPath id="clip2"><rect x="228.25" y="357.5" width="75.75" height="73.25"/></clipPath>
<clipPath id="clip3"><rect x="309.5" y="357.5" width="74.25" height="73.25"/></clipPath>
</defs>
<rect x="69.25" y="357.5" width="73.25" height="73.25" fill="#000"/>
<g clip-path="url(#clip0)"><g filter="url(#soft)" fill="none" stroke-linecap="round">
<path d="M105.32 360.94h.01M105.94 361.45h.01M105.44 368.75h.01M104.94 368.04h.01M80.08 374.7h.01M100.08 384.2h.01M99.44 383.57h.01M99.35 384.44h.01M99.57 391.37h.01M78.82 390.61h.01M78.37 391.35h.01M78.3 389.82h.01M117.57 363.9h.01M117.35 362.24h.01M116.78 362.83h.01M122.36 363.07h.01M126.25 365.51h.01M126.77 364.8h.01M133.23 368.13h.01M131.71 372.6h.01M131.44 373.27h.01M115.35 377.43h.01M118.21 378.35h.01M118.96 378.19h.01M111.68 383.83h.01M111.84 383.04h.01M93.19 396.78h.01M74.7 399.47h.01M75.57 399.51h.01M82.94 410.05h.01M83.1 409.34h.01M82.22 410.51h.01M94.56 412.23h.01M93.98 413.04h.01M95.39 411.87h.01M94.61 411.35h.01M102.34 413.69h.01M102.93 414.25h.01M82.82 416.35h.01M83.69 416.59h.01M85.79 420.07h.01M85.7 420.83h.01M86.47 420.66h.01M70.78 424.71h.01M71.62 424.95h.01M69.99 425h.01M105.47 425.95h.01M104.78 425.51h.01M106.14 426.49h.01M103.77 428.62h.01M104.11 429.32h.01M103.37 429.37h.01M69.22 416.94h.01M68.5 417.18h.01M111.04 396.02h.01M111.56 395.46h.01M110.64 395.38h.01M127.03 397.42h.01M132.04 397.12h.01M132.94 396.97h.01M131.26 397.59h.01M135.84 397.75h.01M135.22 397.23h.01M140.18 397.31h.01M112.17 406.09h.01M111.27 405.95h.01M112.74 406.82h.01M113.03 405.98h.01M111.77 406.85h.01M108.33 415.84h.01M109.07 415.8h.01M107.56 415.58h.01M142.46 416.24h.01" stroke="#58C41C" stroke-width="0.85"/>
<path d="M87.64 360.54h.01M96.54 358.89h.01M95.42 360.18h.01M104.71 360.4h.01M106.91 363.39h.01M71.84 366.68h.01M90.81 369.12h.01M104.75 369.25h.01M80.75 374.99h.01M81.26 374.45h.01M99.79 375.61h.01M91.73 381.22h.01M99.87 385.02h.01M93 389.99h.01M98.85 391.29h.01M100.17 390.94h.01M99.17 390.63h.01M89.13 393.47h.01M89.86 394.88h.01M79.37 391.23h.01M117.81 364.68h.01M117.46 363.09h.01M116.98 364.32h.01M116.49 363.7h.01M118.25 363.36h.01M122.17 362.32h.01M121.34 362.53h.01M125.48 365.11h.01M127.39 365.29h.01M125.97 364.53h.01M133.98 368.33h.01M134.82 367.91h.01M132.48 372.81h.01M115.29 376.69h.01M116 376.85h.01M122.11 375.22h.01M117.57 378.86h.01M136.82 376.79h.01M135.9 380.67h.01M128.13 389.38h.01M124.63 392.83h.01M116.34 393.9h.01M133.62 394.17h.01M93.85 396.5h.01M84.16 398.89h.01M75.03 398.8h.01M71.58 400.98h.01M96.65 408.29h.01M83.78 410.35h.01M93.76 412.24h.01M103.82 413.22h.01M104.3 412.5h.01M103.16 413.56h.01M102.16 412.79h.01M104.38 413.87h.01M107.31 412.43h.01M91.35 417.39h.01M83.11 417.08h.01M76.47 419.36h.01M96.16 421.29h.01M77.95 423.9h.01M77.22 423.92h.01M78.15 424.64h.01M104.31 426.08h.01M107.17 427.89h.01M73.47 417.77h.01M72.81 418.13h.01M126.6 398.04h.01M136.23 398.43h.01M139.82 397.97h.01M139.72 398.71h.01M132.78 401.87h.01M132.05 402.13h.01M128.51 403.38h.01M105.03 409.81h.01M104.31 409.74h.01M120.13 411.53h.01M119.92 410.84h.01M120.86 411.55h.01M120.79 412.4h.01M141.91 409.45h.01M132.05 421.8h.01M106.14 429.23h.01M110.4 429.33h.01" stroke="#58C41C" stroke-width="1"/>
<path d="M96.04 359.56h.01M106.07 363.03h.01M90.04 369.19h.01M101.52 369.62h.01M81.06 384.62h.01M82.32 390.03h.01M91.43 387.56h.01M94.85 386.27h.01M105.44 390.37h.01M70.18 393.62h.01M109.64 364.87h.01M109.57 374.86h.01M109.15 375.47h.01M122.23 384.33h.01M127.55 388.82h.01M123.89 389.11h.01M124.66 389.48h.01M136.39 389.55h.01M137.38 390.48h.01M124.82 391.97h.01M117.21 393.89h.01M94.72 403.15h.01M86.69 406.71h.01M87.38 407.71h.01M96.29 416.66h.01M95.43 420.53h.01M99.09 429.63h.01M125.98 394.13h.01M127.99 402.75h.01M136.1 404.19h.01M141.61 405.35h.01M141.65 404.59h.01M139.46 427.55h.01M140.32 427.51h.01" stroke="#58C41C" stroke-width="1.15"/>
<path d="M86.63 364.07h.01M72.53 366.44h.01M100.34 369.92h.01M94.28 373.75h.01M94.99 374.04h.01M83.22 388.2h.01M87.06 391.81h.01M85.38 392.49h.01M105.24 389.39h.01M114.66 359.19h.01M125.81 393.2h.01M134.54 393.99h.01M71.7 402.19h.01M100.69 398.75h.01M96.24 403.01h.01M95.95 407.9h.01M94.6 409.19h.01M102.24 409.88h.01M78.03 411.3h.01M81.68 411.83h.01M107.85 411.95h.01M75.12 415.62h.01M102.37 418.87h.01M74.26 422h.01M128.28 398.23h.01M122.8 396.73h.01M130.08 411.98h.01M129.3 416.48h.01M135.5 418.56h.01M135.92 419.18h.01M132.22 420.3h.01M117.54 423.85h.01" stroke="#58C41C" stroke-width="1.3"/>
<path d="M81.79 360.72h.01M81.89 359.91h.01M95.72 360.88h.01M92.65 360.87h.01M69.8 364.14h.01M86.39 363.27h.01M101.51 363.91h.01M72.43 365.66h.01M71.18 366.39h.01M103.41 366.77h.01M102.42 366.21h.01M73.51 371.15h.01M82.98 370.65h.01M81.12 368.8h.01M101.08 370.34h.01M77.27 373.78h.01M75.81 374.32h.01M100.53 375.01h.01M100.51 375.79h.01M101.3 375.41h.01M105.9 377.02h.01M90.82 381.54h.01M92.4 381.68h.01M73.06 383.25h.01M71.65 383.87h.01M71.83 384.63h.01M81.71 384.09h.01M82.54 383.86h.01M82.22 385.25h.01M75.84 391.4h.01M72.33 388.09h.01M74.15 391.14h.01M83.85 389.59h.01M84.35 389.06h.01M90.55 387.51h.01M94.14 386.65h.01M93.9 387.51h.01M86.12 391.77h.01M85.53 390.94h.01M86.26 391.04h.01M106 389.76h.01M106.79 390.07h.01M69.38 393.24h.01M89.65 394.17h.01M113.68 368.48h.01M112.78 368.26h.01M118.91 373.33h.01M110.14 375.44h.01M110.04 374.14h.01M127.46 375.18h.01M127.47 378.13h.01M125.61 376.58h.01M137.13 378.62h.01M140.16 379.1h.01M139.53 378.41h.01M127.3 381.63h.01M130.81 386.8h.01M109.72 392.46h.01M110.59 392.67h.01M116.86 393.13h.01M133.82 393.4h.01M140.57 358.38h.01M88.63 397.27h.01M91.34 396.49h.01M90.47 397.6h.01M70.92 402.08h.01M96.77 397.73h.01M96.47 403.88h.01M95.74 403.98h.01M96.37 404.77h.01M86.78 408.52h.01M95.5 408.97h.01M102.9 409.54h.01M102.47 408.89h.01M102.16 410.63h.01M103.73 408.38h.01M78.83 410.8h.01M81.02 413.26h.01M75.59 414.88h.01M101.71 419.2h.01M77.26 419.26h.01M97.49 420.73h.01M78.93 427.8h.01M98.3 429.83h.01M125.8 392.96h.01M126.81 394.12h.01M124.6 398.01h.01M124.53 399.37h.01M128.75 397.62h.01M127.89 397.28h.01M127.63 403.83h.01M137.35 402.19h.01M140.45 404.28h.01M140.07 404.97h.01M130.72 411.21h.01M129.82 411.31h.01M111.67 417.7h.01M111.55 416.37h.01M130.97 416.15h.01M125.63 420.65h.01M125.49 419.1h.01M131.05 421.14h.01M132.94 420.85h.01M132.95 419.98h.01M140.24 420.48h.01M141 420.78h.01M133.28 426.11h.01M139.27 428.47h.01M138.62 427.96h.01M124.89 428.56h.01M104.65 428.27h.01" stroke="#72EE26" stroke-width="1"/>
<path d="M82.65 360.39h.01M87.87 359.85h.01M87.15 359.84h.01M96.26 360.3h.01M96.87 359.66h.01M92.57 361.64h.01M69.23 363.6h.01M100.28 363.95h.01M72.42 367.17h.01M73.24 366.96h.01M102.67 366.95h.01M72.94 369.68h.01M81.48 370.06h.01M76.68 374.47h.01M76.16 375.03h.01M77.04 375.22h.01M94.07 372.9h.01M102.11 375.02h.01M100.96 373.94h.01M105.72 378.29h.01M107.66 376.91h.01M81.32 385.36h.01M75.11 391.03h.01M75.39 392.06h.01M74.5 388.58h.01M83.17 389.04h.01M90.81 388.22h.01M89.99 388.37h.01M93.79 390.15h.01M70 392.79h.01M88.99 394.5h.01M88.44 394.03h.01M90.22 393.15h.01M107.2 393.29h.01M112.17 360.7h.01M112.18 361.57h.01M110.29 361.53h.01M113.94 359.03h.01M110.76 364.63h.01M113.1 369.23h.01M136.88 377.76h.01M136.19 378.41h.01M136.99 376.07h.01M123.28 380.05h.01M126.85 381.07h.01M126.14 380.44h.01M126.07 381.18h.01M135.47 381.49h.01M139.65 385.46h.01M114.51 389.22h.01M127.1 388.21h.01M136.55 390.29h.01M135.83 390.09h.01M137.22 389.7h.01M126.21 391.78h.01M116.11 394.61h.01M141.92 357.83h.01M85.07 399.25h.01M85.66 398.58h.01M84.83 398.51h.01M84.92 400.1h.01M72.13 401.6h.01M97.55 397.71h.01M99.97 398.66h.01M101.18 400.52h.01M94.49 402.11h.01M94.99 401.35h.01M95.23 402.42h.01M86.61 407.59h.01M96.24 409.14h.01M103.66 409.16h.01M103.02 410.36h.01M81.91 413.33h.01M80.82 412.35h.01M74.11 415.13h.01M88.7 415.79h.01M87.74 415.63h.01M91.15 418.9h.01M92.08 418.22h.01M96.41 415.77h.01M76.83 420.02h.01M99.05 420.15h.01M99.13 421.08h.01M95.25 421.35h.01M95.66 421.97h.01M73.47 421.91h.01M73.84 421.24h.01M75.09 422.35h.01M99.96 423.46h.01M100.67 422.24h.01M77.65 426.95h.01M106.45 427.83h.01M97.64 429.52h.01M96.81 429.15h.01M125.38 393.65h.01M124.91 393.07h.01M119.26 396.2h.01M118.92 395.53h.01M124.11 398.64h.01M123.24 398.93h.01M129.06 396.9h.01M123.47 397.06h.01M128.46 404.18h.01M129.27 403.33h.01M137.59 408.66h.01M135.85 410.09h.01M141.21 409.73h.01M112.93 416.7h.01M130.12 416.32h.01M130.45 415.47h.01M129.83 416.99h.01M135.05 419.28h.01M136.01 417.92h.01M135.52 417.11h.01M126.29 419.75h.01M108 421.68h.01M118.3 424.04h.01M116.81 423.54h.01M134.09 426.93h.01M135.25 427.29h.01M139.82 426.7h.01M125.54 428.19h.01M124.98 429.46h.01M126.38 428.64h.01M124.87 426.88h.01M105.31 428.84h.01M109.89 429.84h.01" stroke="#72EE26" stroke-width="1.15"/>
<path d="M83.03 361.13h.01M87.62 359.1h.01M88.61 360.01h.01M97.52 359.23h.01M69.94 363.09h.01M87.43 363.77h.01M87.71 364.54h.01M101.27 363.18h.01M100.41 363.13h.01M102.03 362.86h.01M107.73 363.67h.01M106.12 363.77h.01M103.15 367.61h.01M73.45 370.28h.01M74.14 370.48h.01M79.65 369.78h.01M90.42 369.84h.01M101.27 371.22h.01M94.98 374.88h.01M94.07 374.67h.01M95.02 373.21h.01M100.13 374.25h.01M106.37 377.63h.01M107.22 377.58h.01M107.11 378.42h.01M106.76 376.92h.01M90.98 382.56h.01M91.52 382.05h.01M90.46 383.25h.01M91.87 382.8h.01M72.39 383.63h.01M82.81 384.73h.01M83.38 384.09h.01M73.76 389.59h.01M74 390.38h.01M72.97 389.49h.01M78.15 388.8h.01M84.91 388.56h.01M82.46 389.15h.01M84.66 389.76h.01M82.84 390.64h.01M90.34 386.62h.01M94.14 385.91h.01M92.66 389.18h.01M85.39 391.68h.01M106.45 389.09h.01M90.49 393.95h.01M110.53 360.73h.01M117.53 358.2h.01M117.41 357.47h.01M110.3 365.2h.01M113.04 369.99h.01M113.81 370.33h.01M119.98 372.08h.01M126.09 375.83h.01M134.14 376.75h.01M133.36 376.71h.01M133.65 377.46h.01M137.8 377.65h.01M137.58 376.76h.01M140.99 378.79h.01M135.05 380.87h.01M114.34 387.69h.01M115.85 387.3h.01M131.62 387.04h.01M131.58 386.23h.01M123.9 389.93h.01M123.26 390.4h.01M125.52 392.52h.01M125.37 391.38h.01M124.92 390.69h.01M115.81 393.28h.01M133.35 392.84h.01M141.34 358.31h.01M88.87 394.02h.01M85.91 399.62h.01M84.36 399.64h.01M70.69 402.79h.01M71.25 403.32h.01M70.78 400.97h.01M95.62 398.7h.01M100.63 399.68h.01M99.95 400.26h.01M100.53 400.82h.01M93.93 401.35h.01M95.27 408.18h.01M78.14 410.53h.01M79.44 410.24h.01M81.57 412.65h.01M74.79 414.86h.01M88.37 415.09h.01M88.12 416.49h.01M89.1 415.04h.01M91.35 418.11h.01M97.12 416.77h.01M96.69 417.61h.01M97.32 415.51h.01M97.34 418.1h.01M97.77 416.4h.01M102.02 418.15h.01M77.09 420.71h.01M76.16 420.53h.01M97.93 421.36h.01M99.86 419.76h.01M94.58 421.93h.01M74.3 422.79h.01M100.64 423.03h.01M101.45 423.15h.01M106.96 427.18h.01M126.49 393.37h.01M127.3 393.44h.01M136.87 402.96h.01M136.84 403.78h.01M138.07 402.67h.01M140.8 404.95h.01M131.43 411.01h.01M130.73 410.38h.01M136.2 410.82h.01M141.26 410.55h.01M112.16 416.97h.01M112.5 416h.01M134.71 420.06h.01M125.49 419.9h.01M131.92 421.01h.01M139.74 419.83h.01M117.64 424.73h.01M135.95 425.65h.01M124.68 427.79h.01M106.01 428.29h.01" stroke="#72EE26" stroke-width="1.3"/>
<path d="M82.23 370.08h.01M82.45 371.17h.01M76.61 390.08h.01M72.87 388.67h.01M74.86 387.56h.01M77.45 389.03h.01M76.11 388.47h.01M72.22 389.01h.01M76.96 390.94h.01M74.35 386.81h.01M76.13 386.92h.01M111.39 361.09h.01M111.35 360.22h.01M119.51 372.65h.01M127.05 376.77h.01M126.91 375.9h.01M127.8 376.89h.01M128.27 377.56h.01M123.65 379.33h.01M123.66 381.42h.01M140.34 383.89h.01M140.38 385.41h.01M140.66 384.69h.01M141.5 384.98h.01M114.32 386.97h.01M114.82 385.36h.01M115.67 388.11h.01M112.05 387.78h.01M107.89 394.06h.01M90.19 395.51h.01M90.54 396.37h.01M96.72 399.3h.01M95.98 399.36h.01M96.19 400.06h.01M97.16 400.07h.01M97.62 399.1h.01M78.24 426.03h.01M78.08 427.64h.01M76.61 428.23h.01M119.42 396.91h.01M120.47 396.98h.01M136.89 409.53h.01M135.42 410.94h.01M136.09 411.67h.01M109.42 421.74h.01M108.25 420.04h.01M133.94 425.81h.01M135.21 425.76h.01M134.6 424.83h.01M133.59 425.02h.01M133.97 424.33h.01M132.73 425.6h.01M134.51 427.72h.01" stroke="#84FA30" stroke-width="1"/>
<path d="M82.94 369.78h.01M74.6 389.36h.01M75.71 389.94h.01M76.25 390.79h.01M77.43 390.08h.01M75.2 388.36h.01M78 389.58h.01M73.73 388.82h.01M75.71 387.68h.01M77 388.24h.01M72.99 387.77h.01M119.8 373.35h.01M126.32 377.04h.01M123.67 380.65h.01M122.74 380.78h.01M138.81 385.41h.01M113.38 386.73h.01M112.55 387.11h.01M115.42 389.49h.01M109.1 393.15h.01M109.97 394.53h.01M109.53 391.63h.01M108.65 391.37h.01M108.19 392.06h.01M108.57 393.79h.01M89.35 395.71h.01M88.48 395.95h.01M89.03 396.54h.01M87.86 395.01h.01M88.09 394.3h.01M98.02 396.95h.01M95.93 397.5h.01M95.3 399.77h.01M98.31 398.51h.01M98.29 420.52h.01M120.22 397.97h.01M118.44 397.6h.01M120.01 396.26h.01M136.82 411.8h.01M135.3 425.02h.01" stroke="#84FA30" stroke-width="1.15"/>
<path d="M80.71 369.97h.01M80.36 369.27h.01M81.18 370.76h.01M75.47 389.17h.01M76.38 389.36h.01M74.87 390.16h.01M73.21 390.9h.01M76.28 392.12h.01M110.97 361.93h.01M118.64 372.6h.01M126.92 377.57h.01M127.68 375.93h.01M124.55 380.99h.01M124.45 379.59h.01M139.94 384.72h.01M114.43 388.41h.01M114.09 386.23h.01M115.11 386.92h.01M113.97 385.42h.01M113.75 389.24h.01M112.9 389.05h.01M109.6 393.89h.01M110.23 393.47h.01M91.09 395.8h.01M88.8 394.96h.01M91.23 397.37h.01M97.07 398.43h.01M99.78 420.63h.01M78.47 426.83h.01M77.16 427.73h.01M76.31 427.38h.01M119.31 397.76h.01M136.96 410.31h.01M137.74 409.54h.01M137.3 411.06h.01M136.1 409.14h.01M108.83 421.29h.01M108.18 420.87h.01M108.9 422.39h.01M109.65 422.68h.01M134.66 426.27h.01M135.59 426.44h.01" stroke="#84FA30" stroke-width="1.3"/>
</g></g>
<rect x="149.5" y="357.5" width="73.7" height="73.25" fill="#000"/>
<g clip-path="url(#clip1)"><g filter="url(#soft)" fill="none" stroke-linecap="round">
<path d="M158.88 375.73h.01M158.13 375.42h.01M153.32 389.3h.01M152.6 389.94h.01M151.77 388.73h.01M178.42 387.63h.01M178.16 386.93h.01M149.15 382.92h.01M195.85 363.76h.01M195.07 363.69h.01M196.41 362.99h.01M202.83 360.23h.01M209.18 365.08h.01M208.71 365.7h.01M208.83 364.35h.01M209.88 365.56h.01M209.65 364.26h.01M219.56 364.44h.01M217.36 365.05h.01M215.79 368.65h.01M216.2 369.25h.01M193.02 377.38h.01M192.24 376.97h.01M205.45 374.69h.01M204.75 374.35h.01M211.37 389.13h.01M218.36 388.18h.01M218.37 387.39h.01M217.55 388.71h.01M215.24 393.34h.01M214.64 392.79h.01M215.57 392.63h.01M214.99 394.08h.01M214.11 393.54h.01M218.73 393.65h.01M218.62 392.85h.01M218 393.37h.01M194.34 373.59h.01M195.02 373.9h.01M149.31 401.04h.01M178.21 403.9h.01M178.23 403.18h.01M186.14 407.65h.01M186.94 407.88h.01M186.76 407.15h.01M150.69 416.4h.01M181.39 415.58h.01M149.59 421.9h.01M174.97 424.29h.01M174.08 423.71h.01M178.08 427.42h.01M178.64 427.99h.01M177.88 428.3h.01M184.11 427.69h.01M183.2 427.76h.01M151.81 425.94h.01M193.44 397.26h.01M194.01 396.56h.01M193.53 395.84h.01M194.76 396.51h.01M222.35 397.62h.01M189.82 400.62h.01M215.35 402.6h.01M216.26 401.36h.01M215.52 400.28h.01M196.28 405.42h.01M196.78 405.94h.01M203.06 406.05h.01M203.65 406.58h.01M203.92 405.8h.01M217.47 406.82h.01M217.23 412.29h.01M217.17 411.48h.01M222.45 411.32h.01M220.5 421.38h.01M220.35 422.28h.01M219.54 421.82h.01M220.82 420.6h.01M203.57 423.02h.01M204.61 424.22h.01M217.38 423.2h.01M217.31 423.94h.01M193.09 424.49h.01M205.02 425.72h.01M205.58 426.29h.01M204.6 426.54h.01M207.75 427.87h.01" stroke="#58C41C" stroke-width="0.85"/>
<path d="M162.67 358.18h.01M167.24 357.67h.01M170.97 360.64h.01M176.84 361.03h.01M186.56 361.89h.01M174.26 368.48h.01M178.48 371.1h.01M164.07 375.07h.01M177.36 374.81h.01M171 375.5h.01M170.04 377.67h.01M183.64 377.67h.01M168.21 386.72h.01M152.4 389.21h.01M151.61 389.57h.01M167.98 390.99h.01M164.83 394.07h.01M190.32 365.49h.01M196.65 363.75h.01M203.6 360.21h.01M203.86 361.11h.01M200.12 371.68h.01M201.44 370.68h.01M209.26 366.26h.01M210.79 369.45h.01M218.02 364.54h.01M218.84 364.19h.01M219.31 363.64h.01M218.61 363.33h.01M216.55 368.29h.01M217.41 376.15h.01M192.29 377.73h.01M192.47 378.43h.01M205.08 375.37h.01M210.71 389.5h.01M210.18 388.92h.01M217.55 387.9h.01M217.83 389.38h.01M217.18 359.77h.01M216.46 360h.01M159.93 403.31h.01M149.86 400.49h.01M178.93 403.56h.01M177.48 403.37h.01M178.83 402.74h.01M177.18 404.09h.01M166.41 411.35h.01M164.32 415.94h.01M159.41 417.1h.01M160.31 417.25h.01M174.33 415.39h.01M149.96 416.09h.01M150.33 415.22h.01M149.74 414.78h.01M181.96 415.13h.01M184.47 421.77h.01M184.63 419.46h.01M174.9 423.56h.01M177.66 426.68h.01M176.99 428.32h.01M183.79 426.91h.01M184.23 428.47h.01M184.86 427.81h.01M154.91 427.36h.01M152.4 425.51h.01M151.15 429.41h.01M194.26 397.35h.01M193.22 396.56h.01M194.98 397.84h.01M194.05 398.18h.01M221.64 397.28h.01M221.29 398.01h.01M189.1 400.77h.01M203.52 401.92h.01M215.44 401.77h.01M215.27 401.02h.01M196.19 404.67h.01M195.62 405.89h.01M196.06 406.56h.01M202.32 406.25h.01M202.42 407.03h.01M203.11 407.62h.01M201.83 405.55h.01M218.41 406.94h.01M217.59 405.94h.01M216.62 406.87h.01M217.82 407.54h.01M210.31 412.55h.01M217.18 413.05h.01M217.95 412.07h.01M217.9 412.81h.01M222.16 410.46h.01M186.11 421.75h.01M187.54 421.55h.01M221.28 421.25h.01M220.1 422.97h.01M204.43 423.36h.01M203.93 423.97h.01M205.22 422.94h.01M216.66 423.4h.01M193.66 424.94h.01M204.18 425.81h.01M203.83 426.45h.01M202.94 426.35h.01M204.82 424.86h.01M185.17 428.01h.01M207.59 426.98h.01M208.59 427.85h.01M200.96 409.3h.01" stroke="#58C41C" stroke-width="1"/>
<path d="M170.17 360.06h.01M159.39 369.45h.01M176.94 371.14h.01M177.86 369.88h.01M186.24 377.7h.01M188.03 373.93h.01M177.39 383.54h.01M156.25 383.29h.01M169.05 387.19h.01M166.92 390.44h.01M166.84 392.15h.01M180.62 392.31h.01M152.22 393.79h.01M151.28 393.71h.01M200.34 372.89h.01M206.77 388.61h.01M206.59 393.3h.01M203.34 392.88h.01M161.71 397.63h.01M153.55 402.27h.01M149.51 412h.01M166.48 412.19h.01M164.6 420.56h.01M186.86 421.28h.01M164.77 428.94h.01M164.65 428.04h.01M154.24 428.78h.01M202.09 402.79h.01M202.17 402.03h.01M208.25 407.86h.01M186.53 417.05h.01M186.94 420.34h.01M199.55 418.81h.01M207.64 416.29h.01M208.24 416.87h.01M208.04 417.72h.01M192.08 428.94h.01M191.47 428.07h.01M193.51 428.59h.01M200.71 429.72h.01M222.12 428.47h.01M220.49 428.81h.01" stroke="#58C41C" stroke-width="1.15"/>
<path d="M170.97 359.8h.01M166.25 361.84h.01M176.56 362.24h.01M187.88 362.5h.01M172.01 370.14h.01M160.45 370.26h.01M162.03 369.91h.01M176.38 371.67h.01M164.92 375.45h.01M176.5 374.89h.01M156.43 378.47h.01M184.84 378.57h.01M186.14 376.25h.01M154.36 383.34h.01M173.61 387.32h.01M160.11 390.13h.01M162.16 389.79h.01M166.5 392.81h.01M151.52 391.8h.01M184.44 363.03h.01M201.36 365.64h.01M201.79 371.48h.01M214.59 378.87h.01M206.56 390.1h.01M204.32 391.71h.01M209.97 392.79h.01M180.68 392.58h.01M154.09 399.05h.01M159.62 402.65h.01M149.45 411.2h.01M173.57 415.74h.01M185.64 420.77h.01M165.39 428.38h.01M152.45 428.34h.01M202.82 398.03h.01M203.42 402.83h.01M207.33 405.66h.01M188.26 410.96h.01M186.53 409.64h.01M191.66 411.15h.01M208.86 413.46h.01M198.7 421.64h.01M192.97 429.12h.01" stroke="#58C41C" stroke-width="1.3"/>
<path d="M153.33 358.32h.01M160.71 358.47h.01M171.55 359.22h.01M170.51 359.26h.01M166.88 361.31h.01M167.28 362.11h.01M177.37 362.67h.01M150.68 364.33h.01M151.17 365.07h.01M150.2 363.6h.01M150.82 361.75h.01M184.59 362.99h.01M187.23 362.16h.01M168.64 368.15h.01M166.5 367.18h.01M171.57 369.3h.01M173.43 368.49h.01M177.73 368.45h.01M161 369.61h.01M161.08 370.61h.01M160.52 372.33h.01M160.61 370.74h.01M161.41 370.82h.01M177.79 370.83h.01M178.23 372.05h.01M164.55 374.51h.01M163.88 374.23h.01M170.67 376.19h.01M170.36 375.16h.01M174.69 380.98h.01M173.41 379.47h.01M184.76 377.53h.01M184.02 378.52h.01M184.68 379.39h.01M187.32 374.13h.01M188 374.8h.01M185.51 381.79h.01M160.32 383.45h.01M162.7 381.25h.01M156.05 384.05h.01M157.91 386.6h.01M157.2 387.13h.01M158.8 386.56h.01M161.8 384.32h.01M169.73 386.75h.01M168.21 387.58h.01M174.05 386.55h.01M175.61 386.75h.01M174.46 385.71h.01M160.9 388.9h.01M159.57 390.6h.01M166.29 391.45h.01M180 391.49h.01M180.26 393.24h.01M151.84 394.46h.01M151.19 395.09h.01M150.76 394.35h.01M163.77 395.46h.01M184.83 363.65h.01M191.02 365.05h.01M191.71 365.57h.01M190.1 364.77h.01M200.62 365.68h.01M200.15 365.09h.01M200.68 369.35h.01M199.64 372.59h.01M215.24 374h.01M215.99 372.17h.01M216.48 372.83h.01M215.39 371.69h.01M188.36 374.12h.01M196.66 376.64h.01M204.37 378.74h.01M205.78 380.08h.01M212.59 379.98h.01M211.86 379.73h.01M215.17 379.52h.01M215.94 379.53h.01M215.57 381.57h.01M196.35 389.57h.01M208.23 388.98h.01M205.81 393.13h.01M204.79 393.35h.01M205.3 393.93h.01M209.18 392.96h.01M209.47 393.67h.01M208.62 393.52h.01M202.71 393.29h.01M203.02 394.05h.01M167.9 392.85h.01M180.77 394.05h.01M179.96 394.09h.01M179.28 393.63h.01M154.35 398.14h.01M152.96 397.9h.01M157.8 401.95h.01M157.93 401.19h.01M152.82 402.76h.01M153 401.54h.01M153.86 407.75h.01M149.91 407.59h.01M150.11 406.83h.01M150.43 408.36h.01M167.04 408.38h.01M166.4 408.99h.01M165.62 407.64h.01M166.92 407.35h.01M168.06 409.6h.01M182.68 411.07h.01M149.39 410.45h.01M169.28 412.82h.01M170.39 415.24h.01M164.69 415.14h.01M159.81 416.31h.01M161.27 415.59h.01M160.57 416.57h.01M175.83 414.35h.01M187.1 413.51h.01M186.83 414.19h.01M175.1 419.63h.01M174.79 418.97h.01M174.86 418.02h.01M174.36 419.6h.01M180.09 418.71h.01M180.25 419.49h.01M186.12 421.44h.01M184.7 421.06h.01M183.07 419.44h.01M183.54 418.65h.01M163.65 427.73h.01M164.04 428.47h.01M153.21 428.11h.01M153.45 428.86h.01M154.77 428.2h.01M152.03 427.7h.01M203.6 398.92h.01M213.06 398.83h.01M211.98 397.68h.01M202.8 403.21h.01M203.4 403.66h.01M192.8 404.67h.01M207.68 406.29h.01M207.75 407.13h.01M206.89 407.35h.01M188.38 408.67h.01M208.09 413.11h.01M187.33 418.25h.01M186.76 421.21h.01M194.32 417.21h.01M197.23 417.18h.01M198.21 417.89h.01M201.82 418.12h.01M199.46 418.08h.01M207.54 417.14h.01M206.44 416.63h.01M206.99 415.86h.01M205.14 420.36h.01M184.62 427.41h.01M221.41 428.87h.01M221.37 428.08h.01" stroke="#72EE26" stroke-width="1"/>
<path d="M152.95 359.1h.01M154.14 358.01h.01M161.38 358.11h.01M162.51 359.19h.01M161.89 359.6h.01M160.41 359.19h.01M166.78 358.25h.01M167.53 358.63h.01M165.57 361.41h.01M167.73 361.32h.01M177.21 361.79h.01M176.68 363.04h.01M152.4 364.54h.01M153.17 365.1h.01M151.62 361.87h.01M183.81 361.94h.01M187.92 361.7h.01M149.11 366.13h.01M168.91 366.72h.01M173.2 369.35h.01M172.35 369.36h.01M171.94 368.54h.01M178.44 368.05h.01M177.37 367.76h.01M160.3 369.37h.01M160.36 368.62h.01M162.89 372.86h.01M163.95 373.91h.01M163.32 375.53h.01M176.42 373.98h.01M171.88 375.41h.01M155.62 378.42h.01M170.59 377.2h.01M175.75 382.05h.01M176.11 380.44h.01M187.48 377.52h.01M185.61 379.36h.01M186.35 379.6h.01M187.36 378.88h.01M177.53 382.47h.01M178.8 383.4h.01M186.84 381.66h.01M161.78 382.85h.01M161.89 383.8h.01M155.3 384.06h.01M155.16 383.15h.01M154.87 384.67h.01M158.22 385.82h.01M157.83 387.79h.01M162.32 384.96h.01M163.12 385.34h.01M169.35 388.51h.01M169.09 386.39h.01M170.31 386.24h.01M167.43 387.12h.01M174.91 386.42h.01M176.14 387.48h.01M165.06 387.53h.01M164.41 387.2h.01M161.46 389.53h.01M160.63 389.62h.01M165.94 392.11h.01M167.74 391.9h.01M167.53 392.59h.01M178.91 392.69h.01M181.48 392.12h.01M178.95 391.92h.01M152.94 393.49h.01M152.18 392.96h.01M151.5 392.55h.01M152.87 394.3h.01M164.03 394.47h.01M163.21 394.72h.01M190.06 358.26h.01M184.97 364.65h.01M200.01 364.36h.01M200.32 368.3h.01M201.31 368.84h.01M201.54 369.63h.01M199.89 369.88h.01M202.01 368.31h.01M201.43 372.22h.01M200.72 372.12h.01M215.86 374.6h.01M204.99 378.36h.01M209.33 381.5h.01M212.27 380.72h.01M214.73 380.36h.01M207.17 389.4h.01M206.09 389.39h.01M207.34 390.26h.01M207.87 389.72h.01M205 392.52h.01M168.64 393.11h.01M180.43 393.3h.01M153.21 399.05h.01M156.34 401.6h.01M152.03 402.5h.01M152.95 403.64h.01M155.97 405.94h.01M149.09 407.81h.01M166.24 408.01h.01M168.72 409.28h.01M182.6 409.08h.01M170.99 414.58h.01M170.46 416.03h.01M165.53 415.12h.01M174.3 414.3h.01M175.01 414.06h.01M186.66 415.5h.01M163.36 421.42h.01M163.17 420.19h.01M164.39 421.37h.01M162.7 421.11h.01M162.46 420.03h.01M168.42 423.72h.01M168.52 423h.01M174.98 420.42h.01M176.09 420.18h.01M180.98 419.13h.01M186.42 420.58h.01M153.4 429.7h.01M151.85 430.67h.01M202.35 398.76h.01M201.57 399.01h.01M203.03 399.38h.01M202.66 403.91h.01M202.58 401.38h.01M220.26 403.52h.01M191.05 406.91h.01M208.58 406.09h.01M206.93 406.43h.01M208.69 408.45h.01M188.06 410.2h.01M188.79 410.32h.01M188.61 409.44h.01M187.23 410.23h.01M192.98 413.35h.01M193.79 410.99h.01M192.44 410.18h.01M209.59 413.73h.01M209.31 412.17h.01M208.46 411.9h.01M208.4 414.09h.01M186.42 419.74h.01M186.4 417.82h.01M187.18 419.16h.01M196.41 417.16h.01M197.42 417.92h.01M197.03 418.53h.01M201.1 419.33h.01M198.17 420.59h.01M198.98 420.17h.01M206.86 417.46h.01M206.02 417.4h.01M205.93 420.5h.01M205.45 419.64h.01M192.79 426.97h.01M185.88 427.78h.01M199.9 429.87h.01" stroke="#72EE26" stroke-width="1.15"/>
<path d="M153.91 358.81h.01M161.86 358.67h.01M167.41 360.64h.01M175.82 362.76h.01M151.91 365.34h.01M183.86 362.86h.01M182.32 362.92h.01M149.56 366.94h.01M149.07 367.51h.01M168.69 365.88h.01M161.68 369.27h.01M162.19 368.68h.01M162.29 373.5h.01M177.4 371.96h.01M171.4 376.12h.01M155.97 377.66h.01M170.73 377.92h.01M176.84 378.22h.01M176 376.9h.01M185.5 378.03h.01M186.63 376.92h.01M187.34 376.68h.01M186.73 378.34h.01M177.99 383.04h.01M178.26 383.92h.01M185.58 384.46h.01M185.9 382.47h.01M188.01 382.64h.01M186.38 384.25h.01M154.71 382.55h.01M155.73 382.69h.01M156.13 384.77h.01M155.75 385.56h.01M158.42 387.18h.01M162.66 384.26h.01M169.73 387.82h.01M174.99 387.36h.01M174.31 387.88h.01M174.12 388.71h.01M174.83 389.02h.01M164.47 387.97h.01M161.02 390.26h.01M167.14 391.34h.01M179.72 392.36h.01M181.07 392.91h.01M150.81 393h.01M152.59 392.24h.01M164.54 395.34h.01M164.6 393.36h.01M184.27 364.15h.01M185.72 363.49h.01M190.91 365.97h.01M191.83 364.7h.01M189.33 365h.01M200.81 364.75h.01M202.12 365.17h.01M200.62 367.35h.01M199.97 369.01h.01M200.77 370.12h.01M199.2 369.65h.01M200.14 366.62h.01M201.2 373.13h.01M209.95 369.2h.01M209.31 369.59h.01M215.45 373.31h.01M216.86 373.66h.01M213.86 373.22h.01M218.11 376.77h.01M218.33 376.08h.01M217.41 375.41h.01M195.35 376.1h.01M195.8 374.62h.01M194.49 375.59h.01M209.41 380.07h.01M215.35 380.84h.01M197.94 389.03h.01M205.78 392.22h.01M204.18 392.56h.01M205.59 391.33h.01M167.86 393.62h.01M181.49 392.66h.01M160.96 397.54h.01M160.14 397.33h.01M154.36 397.22h.01M153.59 398.43h.01M155.54 401.9h.01M155.98 402.48h.01M157.07 402.01h.01M157.13 401.13h.01M153.56 403.08h.01M159.08 403.37h.01M154.04 408.46h.01M154.32 405.72h.01M153.54 406.82h.01M150.81 407.6h.01M165.41 408.56h.01M165.87 412.81h.01M168.24 413.59h.01M167.96 417.31h.01M160.33 415.63h.01M174.85 414.8h.01M173.63 414.87h.01M163.9 420.06h.01M163.9 420.84h.01M164.09 419.32h.01M167.79 422.87h.01M175.84 419.4h.01M175.62 418.52h.01M176.34 418h.01M179.28 419.12h.01M179.97 417.88h.01M180.66 417.58h.01M185.36 421.69h.01M184.73 420.2h.01M182.28 418.95h.01M164.7 427.29h.01M163.17 428.29h.01M152.6 429.25h.01M153.07 427.4h.01M151.22 430.14h.01M202.38 397.35h.01M213.39 398.11h.01M192.43 405.3h.01M191.82 407.17h.01M208.46 406.94h.01M206.48 405.56h.01M208 408.7h.01M194.21 412.53h.01M191.63 410.35h.01M209.56 414.55h.01M209.65 412.85h.01M210.3 414.11h.01M210.7 413.47h.01M209.04 415.11h.01M209.69 411.49h.01M186.11 418.69h.01M185.67 419.49h.01M184.84 419.42h.01M184.84 418.67h.01M186.16 420.66h.01M194.84 417.9h.01M200.48 418.82h.01M201.21 418.59h.01M198.93 420.91h.01M208.53 418.31h.01M206.77 418.26h.01M206.04 421.28h.01M206.68 420.62h.01M192.23 427.66h.01M192.73 428.33h.01M193.49 427.86h.01M222.64 429.12h.01M221.93 429.65h.01" stroke="#72EE26" stroke-width="1.3"/>
<path d="M168.98 398.35h.01M167.3 400.44h.01M166.62 401.47h.01M166.58 400.66h.01M165.92 401.44h.01M165.46 400.42h.01M164.79 400.77h.01M164.11 397.45h.01M164.29 397.07h.01M164.71 397.35h.01M166.4 396.31h.01M167.17 396.69h.01M168.64 397.08h.01M169.02 397.65h.01" stroke="#7EF62C" stroke-width="1"/>
<path d="M168.34 398.88h.01M168.88 399.52h.01M167.09 401.27h.01M164.23 399.5h.01M163.89 398.8h.01M163.98 398.19h.01M164.39 398.31h.01M165.66 396.58h.01M166.89 395.78h.01M167.45 395.97h.01" stroke="#7EF62C" stroke-width="1.15"/>
<path d="M168.85 397.63h.01M168.35 397.81h.01M169 399h.01M168.7 400.26h.01M168.1 399.8h.01M167.92 400.84h.01M167.6 401.1h.01M165.26 400.81h.01M164.41 398.75h.01M164.02 398.27h.01M164.57 396.43h.01M165.42 396h.01M165.65 395.81h.01M166.38 395.67h.01M168.08 396.5h.01M168.03 397.49h.01" stroke="#7EF62C" stroke-width="1.3"/>
<path d="M151.57 364.1h.01M151.45 362.57h.01M152.9 365.8h.01M150.86 363.12h.01M183.12 362.74h.01M160.6 373.05h.01M175.05 379.08h.01M175.78 379.66h.01M176.62 379.81h.01M176.85 381.02h.01M172.87 380.14h.01M173.26 378.51h.01M184.74 382.62h.01M187.74 383.52h.01M161.12 383.28h.01M161.97 381.31h.01M162.72 383.4h.01M159.64 382.98h.01M189.52 358.85h.01M199.9 367.58h.01M201.48 367.59h.01M216.09 373.72h.01M214.13 374.06h.01M215.33 372.52h.01M217.67 372.36h.01M188.63 375.07h.01M189.23 375.65h.01M187.94 373.32h.01M196.6 375.04h.01M194.64 376.35h.01M204.95 379.21h.01M206.53 378.73h.01M206.84 380.03h.01M207.14 379.28h.01M197.75 389.86h.01M199.01 389.42h.01M155.11 406.01h.01M155.1 407.51h.01M183.77 409.53h.01M168.59 414.98h.01M168.85 414.16h.01M169.7 414.04h.01M168.88 415.71h.01M168.11 414.35h.01M167.22 415.64h.01M168.52 412.74h.01M168.16 416.05h.01M166.6 415.15h.01M186.22 413.63h.01M185.83 414.28h.01M186.63 412.8h.01M187.96 413.62h.01M186.67 416.3h.01M187.98 412.03h.01M188.84 413.71h.01M188.11 416.07h.01M211.73 398.46h.01M191.81 405.74h.01M193.33 411.93h.01M195.22 411.1h.01M195.94 411.01h.01M194.52 410.58h.01M195.66 417.72h.01M194.8 416.24h.01M196.89 416.38h.01M196.38 418.03h.01" stroke="#84FA30" stroke-width="1"/>
<path d="M150.44 365.08h.01M152.39 363.63h.01M153.41 364.4h.01M183.84 363.68h.01M184.89 364.03h.01M184.33 361.42h.01M184.98 362.32h.01M167.51 366.79h.01M169.51 367.18h.01M166.72 367.96h.01M168.47 369.03h.01M161.37 373.18h.01M161.54 374.04h.01M163.16 373.73h.01M161.46 372.4h.01M175.09 379.87h.01M175.35 380.6h.01M174.2 378.97h.01M175.9 381.23h.01M172.72 379.07h.01M174.11 380.52h.01M185.75 383.67h.01M187.1 382.5h.01M161.1 384.15h.01M191.64 358.65h.01M214.85 374.72h.01M213.54 374.74h.01M213.11 373.19h.01M189.09 374.31h.01M189.58 375.01h.01M187.78 374.71h.01M205.32 377.7h.01M207.13 378.2h.01M208.56 381.37h.01M209.56 382.24h.01M208.1 380.51h.01M197.61 388.27h.01M197.15 389.32h.01M199.28 388.55h.01M198.65 390.14h.01M154.32 407.1h.01M155.59 408.11h.01M182.13 410.32h.01M181.37 410.72h.01M181.72 408.89h.01M169.99 413.37h.01M170.59 413.88h.01M168.52 416.82h.01M167.25 416.78h.01M187.37 416.64h.01M187.93 415.25h.01M188.93 416.38h.01M212.54 398.24h.01M211.65 396.92h.01M220.16 404.79h.01M221.71 404.02h.01M221.45 404.91h.01M191.23 407.71h.01M191.03 406.11h.01M193.69 413.14h.01M194.89 411.96h.01M193.08 412.62h.01M195.75 413.18h.01M195.72 411.73h.01M193.32 410.21h.01M195.8 416.4h.01M193.99 418.1h.01M197.1 417.66h.01M195.13 414.86h.01" stroke="#84FA30" stroke-width="1.15"/>
<path d="M151.62 363.32h.01M183.19 364.26h.01M183.78 364.97h.01M185.42 363.27h.01M168.24 367.11h.01M167.49 367.69h.01M167.99 368.48h.01M168.12 366.34h.01M162.15 372.74h.01M162.57 374.4h.01M160.81 371.54h.01M163.74 372.78h.01M176.26 378.87h.01M175.62 378.45h.01M175.5 377.69h.01M176.98 379.15h.01M174.31 379.75h.01M186.45 383.15h.01M184.99 383.44h.01M187.93 381.7h.01M160.69 382.56h.01M161.98 382.09h.01M160.18 382h.01M161.16 381.8h.01M162.63 382.48h.01M190.73 358.81h.01M191.01 357.94h.01M191.29 359.29h.01M199.16 367.87h.01M214.65 373.5h.01M214.63 372.78h.01M216.1 375.32h.01M216.85 372h.01M216.75 374.54h.01M190.3 374.87h.01M195.81 375.54h.01M196.61 375.84h.01M205.69 378.88h.01M204.57 377.56h.01M206.26 379.41h.01M208.98 380.72h.01M210.21 380.02h.01M208.49 379.88h.01M210.2 380.89h.01M198.55 388.44h.01M154.99 406.78h.01M155.74 406.94h.01M156.17 407.6h.01M182.94 409.9h.01M181.35 409.86h.01M167.82 415.21h.01M170.27 416.94h.01M186.12 414.98h.01M187.91 412.77h.01M187.54 414.62h.01M188.18 416.94h.01M167.76 424.31h.01M167.35 423.53h.01M168.91 424.51h.01M169.25 423.7h.01M167 424.17h.01M212.9 397.47h.01M220.85 404.19h.01M221.19 403.34h.01M192.14 406.46h.01M192.43 403.88h.01M192.8 406.11h.01M192.99 406.86h.01M190.23 406.53h.01M194.11 411.73h.01M194.99 413.07h.01M194.3 413.71h.01M195.85 410.08h.01M196.23 412.33h.01M195.77 409.35h.01M195.21 413.82h.01M195.11 417.01h.01M195.44 415.73h.01" stroke="#84FA30" stroke-width="1.3"/>
</g></g>
<rect x="228.25" y="357.5" width="75.75" height="73.25" fill="#000"/>
<g clip-path="url(#clip2)"><g filter="url(#soft)" fill="none" stroke-linecap="round">
<path d="M260.25 378.83h.01M260.21 380.49h.01M260.9 379.97h.01M259.58 379.14h.01M263.78 389.72h.01M263.43 390.46h.01M262.72 390.09h.01M264.26 390.41h.01M289.73 386.38h.01M289.31 386.96h.01M251.59 421.93h.01M250.66 421.62h.01M241.18 427.87h.01M240.89 427.13h.01M292.46 404.99h.01M292.51 405.86h.01" stroke="#58C41C" stroke-width="0.85"/>
<path d="M232.36 363.48h.01M260.17 364.07h.01M266.2 364.67h.01M240.42 371.33h.01M261.89 373.8h.01M262.55 374.26h.01M234.13 373.62h.01M260.23 379.56h.01M243.99 384.66h.01M251.61 387.87h.01M249.89 389.58h.01M233.85 389.02h.01M233.74 390.37h.01M244.72 390.86h.01M243.11 393.09h.01M283.79 372.36h.01M287.35 373.22h.01M296.6 373.51h.01M295.78 372.93h.01M299.19 380.04h.01M302.21 382.1h.01M301.39 388.63h.01M281.01 389.37h.01M244.3 393.02h.01M244.24 392.29h.01M258.27 407.18h.01M258.48 406.36h.01M248.83 416.53h.01M250.84 422.38h.01M251.55 422.73h.01M254.56 422.9h.01M241.84 427.43h.01M242.55 427.17h.01M242.52 426.31h.01M229.71 429.93h.01M298.89 403.54h.01M299.01 402.67h.01M302.65 401.72h.01M291.74 405.51h.01M291.37 404.73h.01M291.54 409.08h.01M291.29 409.87h.01M283.88 410.98h.01M290.76 412.15h.01M277.59 415.51h.01M298.05 416.42h.01M282.74 417.73h.01M276.24 422.66h.01M277.27 421.68h.01M265.81 423.81h.01" stroke="#58C41C" stroke-width="1"/>
<path d="M250.45 358.89h.01M234.23 361.75h.01M252.39 367.85h.01M256.69 384.07h.01M252.42 387.94h.01M251.5 389.07h.01M232.98 388.97h.01M235.06 389.74h.01M250.08 391.03h.01M249.23 392.28h.01M258.67 392.95h.01M230.02 388.2h.01M273.94 362.4h.01M283.05 373.64h.01M284.5 373.82h.01M288.61 372.25h.01M297.27 373.15h.01M296.73 372.67h.01M268.44 376.22h.01M276.37 378.44h.01M298.6 378.54h.01M297.71 378.68h.01M265.1 381.82h.01M271.06 381.73h.01M270.6 383.5h.01M301.03 381.6h.01M301.46 387.83h.01M232.59 396.72h.01M245.73 393.32h.01M240.32 404.16h.01M241.09 403.98h.01M241.82 404.53h.01M236.62 406.54h.01M230.14 403.84h.01M265.08 398.74h.01M232.32 410.39h.01M233.11 410.85h.01M262.11 411.61h.01M266.21 423.33h.01M263.16 424.07h.01M250.57 427.47h.01M236.93 430.3h.01M292.46 392.77h.01M296.77 399.66h.01M297.99 403.69h.01M274.12 404.69h.01M282.08 407.66h.01M284.74 410.84h.01M277.15 410.85h.01M290.6 411.41h.01M277.76 414.75h.01M287.71 415.72h.01M288.49 415.66h.01M267.4 423.92h.01" stroke="#58C41C" stroke-width="1.15"/>
<path d="M259.43 361.98h.01M265.38 365.09h.01M234.7 375.18h.01M229.21 381.3h.01M244.77 384.35h.01M256.72 383.17h.01M261.3 386.52h.01M245.53 390.88h.01M246.53 390.36h.01M258.49 393.72h.01M251.67 393.55h.01M290.23 358.98h.01M288.13 359.94h.01M284.44 372.95h.01M295.52 373.76h.01M271.09 377.78h.01M276.95 379.1h.01M277.69 379.19h.01M298.64 377.8h.01M265.85 382.04h.01M264.97 381h.01M266.26 381.37h.01M300.64 387.44h.01M300.85 389.25h.01M281.76 389.38h.01M280.27 389.25h.01M303.91 393.05h.01M233.68 395.97h.01M243.06 396.57h.01M244.73 395.13h.01M243.87 394.97h.01M237.06 404.74h.01M264.96 397.95h.01M250.73 404.84h.01M245.21 419.04h.01M263.19 411.36h.01M262.68 410.24h.01M255.36 423.86h.01M265.27 423.41h.01M265.48 422.69h.01M229.1 426.52h.01M249.46 426.92h.01M291.31 392.91h.01M270.76 399.6h.01M268.73 401.94h.01M274.02 405.47h.01M284.82 411.97h.01M303.11 414.61h.01M296.16 417.79h.01M278.27 424.44h.01M266.78 425.29h.01M271.13 426.49h.01" stroke="#58C41C" stroke-width="1.3"/>
<path d="M261.62 359.44h.01M232.74 362.78h.01M232.71 361.9h.01M233.42 361.35h.01M254.17 364.81h.01M255.04 366.11h.01M260.46 363.17h.01M267.19 364.7h.01M262.99 366.29h.01M263.57 370.52h.01M261.92 369.93h.01M251.54 370.55h.01M252.3 371.93h.01M256.71 370.92h.01M256.93 371.67h.01M256 371.5h.01M241.62 371.44h.01M240.73 372.79h.01M242.35 371.87h.01M240.01 372.12h.01M263.79 375.09h.01M265.15 376.82h.01M233.8 374.29h.01M234.54 374.41h.01M235 373.66h.01M242.58 375.62h.01M243.25 374.32h.01M228.8 379.64h.01M238.87 379.53h.01M240.32 383.2h.01M244.94 380.28h.01M251.24 383.5h.01M229.3 383.26h.01M243.26 383.9h.01M256.12 385.49h.01M255.13 384.42h.01M250.98 388.41h.01M250.18 388.21h.01M252.22 387.2h.01M249.29 388.48h.01M250.97 387.52h.01M252.38 389.42h.01M233.36 389.7h.01M232.51 389.75h.01M245.14 390.21h.01M245.27 388.93h.01M248.76 391.11h.01M232.28 392.3h.01M251.44 394.35h.01M243.04 394.43h.01M229.16 388.13h.01M228.77 387.5h.01M274.33 361.78h.01M273.58 361.41h.01M275.06 362.86h.01M282.24 362.19h.01M289.02 359.74h.01M289.91 359.7h.01M288.72 360.48h.01M288.42 359.07h.01M294.32 360.4h.01M294.68 358.9h.01M300.74 365.05h.01M301.71 362.71h.01M287.01 367.12h.01M287.39 365.1h.01M286.66 364.65h.01M284.65 366.54h.01M288.79 364.7h.01M270.62 367.06h.01M269.69 370.11h.01M271.39 367.45h.01M267.48 369.24h.01M300.6 370.02h.01M299.73 372.02h.01M301.58 369.42h.01M282.44 373.25h.01M282.94 374.47h.01M287.77 372.34h.01M286.32 372.31h.01M295.98 372.23h.01M269.19 376.9h.01M269.21 375.96h.01M269.85 376.41h.01M271.75 378.33h.01M271.21 376.93h.01M271.1 378.64h.01M277.35 378.33h.01M277.78 377.5h.01M289.79 377.72h.01M289.02 379.19h.01M287.67 378.96h.01M300.37 378.96h.01M297.94 379.56h.01M297.1 379.55h.01M299.41 378.12h.01M270.27 382.24h.01M271.97 381.6h.01M303.31 382.55h.01M283.41 383.5h.01M285.07 383.85h.01M285.48 386.24h.01M283.33 385.85h.01M286.93 385.91h.01M284.32 381.17h.01M282.51 383.8h.01M278.71 388.54h.01M275.94 387.78h.01M300.6 388.39h.01M300.47 386.66h.01M270.64 389.73h.01M281.45 390.36h.01M292.18 389.06h.01M234.09 395.23h.01M234.25 396.64h.01M244.97 392.73h.01M243.53 395.96h.01M245.04 396.32h.01M243.12 395.2h.01M241.52 397.11h.01M239.47 404.33h.01M237.52 406.36h.01M229.77 403.16h.01M260.89 398.54h.01M260.66 400.97h.01M259.94 402.89h.01M261.4 402.22h.01M264.51 399.4h.01M250.06 404.44h.01M250.78 407.01h.01M266.28 404.27h.01M265.52 404.44h.01M232.99 409.79h.01M233.77 409.38h.01M232.58 408.94h.01M230.48 412.44h.01M243.59 413.71h.01M244.65 412.6h.01M246.85 411.87h.01M248.47 414.86h.01M247.97 415.57h.01M245.75 418.5h.01M262.25 412.74h.01M259.61 414.72h.01M261.78 415.3h.01M257.26 419.04h.01M253.63 423.31h.01M262.92 423.23h.01M265.51 424.3h.01M266.61 424.91h.01M230.62 426.25h.01M229.91 426.08h.01M229.94 425.3h.01M249.74 427.91h.01M236.75 428.72h.01M237.6 431.04h.01M236.06 429.3h.01M239.26 429.22h.01M229.44 430.8h.01M281.01 392.66h.01M280.58 393.39h.01M292.16 392.09h.01M292.01 393.37h.01M284.7 399.26h.01M292.54 398.24h.01M291.64 396.86h.01M290.91 397.25h.01M291.41 397.89h.01M292.04 400.4h.01M271.04 400.29h.01M277.07 399.47h.01M296.36 400.5h.01M296.15 399.16h.01M300.19 402.64h.01M300.61 403.3h.01M302.8 402.44h.01M274.98 404.95h.01M269.18 408.28h.01M269.21 406.76h.01M270.01 407.15h.01M282.8 405.95h.01M296.04 407.47h.01M294.61 406.58h.01M301.18 407.95h.01M291.43 408.02h.01M292.31 409.29h.01M284.13 412.55h.01M277.97 410.94h.01M277.88 411.73h.01M278.72 411.57h.01M278.21 414.11h.01M276.83 415.36h.01M276.27 414.88h.01M302.34 416.78h.01M303.31 416.2h.01M288.08 416.49h.01M288.25 417.3h.01M297.16 416.56h.01M297.12 417.65h.01M297.77 418.04h.01M298.77 417.4h.01M281.86 417.79h.01M282.94 418.52h.01M289.1 417.95h.01M292.33 419.72h.01M282.17 421.05h.01M283.12 421.22h.01M277.46 423.24h.01M277.32 422.48h.01M279.17 423.26h.01M298.76 424.08h.01M299.31 421.35h.01M265.09 424.27h.01M303.15 423.7h.01M302.77 422.86h.01M297.47 425.47h.01M298.73 428.3h.01M299.09 427.57h.01M271.5 427.47h.01M272.27 427.55h.01M274.1 428.33h.01M273.13 428.97h.01M273.43 429.86h.01" stroke="#72EE26" stroke-width="1"/>
<path d="M249.31 358.93h.01M249.05 359.64h.01M249.93 359.57h.01M260.81 359.02h.01M260.47 359.84h.01M255.16 363.58h.01M254.37 363.12h.01M256.56 364.42h.01M260.04 362.52h.01M260.85 362.26h.01M266.09 363.34h.01M244.68 368.71h.01M244.12 368.2h.01M245.27 369.15h.01M252.04 368.58h.01M252.5 369.24h.01M262.98 367.05h.01M262.69 369.98h.01M252.48 370.19h.01M240.93 371.87h.01M241.54 372.41h.01M262.56 373.3h.01M261.84 374.67h.01M264.5 375.66h.01M229.77 380.72h.01M230.47 380.37h.01M228.88 380.47h.01M238.88 381.17h.01M238.79 382.05h.01M244 380.31h.01M243.19 380.73h.01M263.56 382.94h.01M264.65 382.92h.01M244.14 383.93h.01M255.95 384.61h.01M255.69 383.9h.01M256.78 385.18h.01M261.86 387.11h.01M233.82 391.31h.01M234.38 389.99h.01M246.2 391.19h.01M244.66 389.54h.01M250.17 391.83h.01M233.34 391.58h.01M258.49 392.06h.01M244.55 393.8h.01M229.57 387.31h.01M271.59 359.32h.01M272.1 359.89h.01M271.07 358.78h.01M271.78 358.24h.01M275.17 362.12h.01M274.02 363.16h.01M280.54 361.98h.01M278.81 362.91h.01M301.27 363.42h.01M286.44 367.57h.01M301.83 371.97h.01M301.57 370.34h.01M300.36 371.39h.01M283.65 373.24h.01M287.06 372.54h.01M287.98 371.64h.01M297.95 373.4h.01M297.28 375.69h.01M268.41 377.12h.01M270.25 377.81h.01M300.17 378.06h.01M266.1 382.86h.01M271.96 382.75h.01M269.56 382.8h.01M301.85 381.33h.01M283.97 384.43h.01M277.31 388.64h.01M275.69 386.1h.01M299.85 387.73h.01M299.88 388.5h.01M299.66 386.88h.01M269.33 388.72h.01M292.93 392.68h.01M268.83 393.94h.01M269.62 393.61h.01M270.7 393.64h.01M303.54 393.68h.01M234.87 395.65h.01M234.69 397.31h.01M244.28 393.87h.01M242.73 397.42h.01M239.43 398.53h.01M238.16 398.02h.01M238.76 401.07h.01M245.31 404.42h.01M237.43 405.61h.01M238.2 405.99h.01M229.38 403.79h.01M260.8 399.35h.01M260.54 403.46h.01M260.42 396.8h.01M265.66 399.46h.01M265.69 398.07h.01M251.37 406.32h.01M251.36 403.51h.01M265.09 410.59h.01M233.78 410.21h.01M230.67 411.71h.01M243.62 411.89h.01M249.22 414.67h.01M248.02 413.6h.01M244.45 419.58h.01M244.4 420.38h.01M244.53 418.68h.01M246.49 418.02h.01M245.41 417.7h.01M246.98 418.55h.01M244.61 417.84h.01M261.32 414.05h.01M258.95 415.28h.01M259.86 413.39h.01M262.89 412.12h.01M258.31 417.58h.01M254.51 423.65h.01M253.71 424.22h.01M264.47 423.23h.01M265.92 425.12h.01M262.28 422.87h.01M264.85 424h.01M263.84 423.82h.01M230.74 425.45h.01M231.54 426.28h.01M231.53 425.51h.01M250.16 426.62h.01M251.29 427.86h.01M237.57 429.61h.01M238.02 430.34h.01M237.47 428.86h.01M266.51 428.78h.01M241.67 429.74h.01M242.38 429.55h.01M280.16 392.52h.01M281.18 391.94h.01M282.05 391.92h.01M281.64 393.05h.01M293.85 393h.01M284.37 396.1h.01M293.69 399.84h.01M291.25 400.2h.01M292.02 401.38h.01M269.36 399.97h.01M269.7 400.94h.01M277.58 402.82h.01M297.2 400.3h.01M267.95 402.34h.01M299.7 403.2h.01M298.47 402.09h.01M299.62 404.66h.01M302.42 403.07h.01M274.09 406.64h.01M267.69 408.09h.01M282.96 407.45h.01M282.45 406.79h.01M296.25 406.68h.01M300.95 408.87h.01M290.75 408.75h.01M283.12 410.97h.01M289.99 412.03h.01M276.88 414.41h.01M302.55 416.09h.01M303.13 415.4h.01M302.33 415.18h.01M301.4 416.41h.01M288.86 416.45h.01M281.93 416.98h.01M284.84 418.71h.01M284.38 418.07h.01M286.49 419.92h.01M289.52 418.69h.01M290.19 419h.01M293.26 419.33h.01M281.65 421.59h.01M278.34 423.58h.01M276.61 422.04h.01M276.34 421.2h.01M276.85 420.56h.01M279 424.04h.01M299.19 422.95h.01M298.57 423.38h.01M299.52 423.84h.01M297.86 423.03h.01M266.16 424.7h.01M266.56 423.95h.01M265.42 425.82h.01M279.7 426.16h.01M280.36 426.81h.01M279.2 425.54h.01M278.8 426.2h.01M280.78 425.92h.01M296.85 427.45h.01M271.44 428.26h.01M275.01 428.44h.01M272.08 428.97h.01M281.62 430.2h.01M281.87 429.3h.01" stroke="#72EE26" stroke-width="1.15"/>
<path d="M248.6 359.07h.01M260.09 359.19h.01M261.31 358.36h.01M233.53 363.02h.01M233.86 362.38h.01M233.5 363.97h.01M234.82 362.45h.01M254.47 366.57h.01M260.36 361.68h.01M259.6 363.47h.01M266.68 363.93h.01M265.78 364.08h.01M244.03 369.03h.01M253.01 367.21h.01M251.43 367.88h.01M251.96 367.22h.01M251.33 368.97h.01M252.12 371.04h.01M261.61 373.03h.01M264.29 376.48h.01M265.29 375.96h.01M233.69 375.17h.01M235.3 374.38h.01M243.3 376.11h.01M241.26 374.51h.01M229.55 379.84h.01M238.14 379.55h.01M237.28 380.61h.01M244.35 381.08h.01M243.7 379.63h.01M244.99 379.39h.01M262.76 384.06h.01M261.83 384.14h.01M249.05 382.11h.01M248.17 382.42h.01M249.46 385.89h.01M232.45 385.52h.01M230.87 382.71h.01M243.24 384.89h.01M243.33 385.7h.01M244.07 385.85h.01M255.3 385.79h.01M262.21 386.44h.01M250.45 388.99h.01M232.91 390.36h.01M234.4 390.85h.01M233.47 388.26h.01M244.33 390.21h.01M246.08 392.02h.01M249.46 391.42h.01M248.38 391.77h.01M234.77 393.97h.01M232.38 393.4h.01M235.56 392.94h.01M259.55 393.02h.01M257.98 393.22h.01M252.36 393.86h.01M251.15 392.99h.01M243.69 394.05h.01M242.57 393.79h.01M272.69 359.43h.01M271.03 359.88h.01M274.23 360.86h.01M273.11 360.59h.01M275.62 363.5h.01M287.91 360.68h.01M293.5 363.7h.01M295.8 361.42h.01M298.98 363.08h.01M301.3 362.03h.01M287.94 365.94h.01M287.29 367.89h.01M270.65 369.55h.01M269.44 367.49h.01M268.35 368.62h.01M270.41 370.55h.01M301.55 371.3h.01M283.84 374.44h.01M286.49 373.22h.01M297.38 374.03h.01M297.6 374.93h.01M268.5 375.43h.01M267.68 376.26h.01M276.19 379.29h.01M288.11 377.75h.01M287.39 377.95h.01M299.03 379.21h.01M299.89 379.57h.01M265.22 382.68h.01M271.2 382.51h.01M271.28 383.24h.01M272.64 382.44h.01M302.54 382.75h.01M285.13 383.1h.01M281.93 383.12h.01M276.15 389.31h.01M301.23 386.16h.01M270.05 390.85h.01M280.63 390.07h.01M281.36 391.22h.01M294.07 391.38h.01M294.75 391.14h.01M269.42 394.46h.01M270.16 394.42h.01M270.33 395.13h.01M303.03 393.08h.01M233.5 396.82h.01M235.07 396.48h.01M245 393.85h.01M243.34 392.36h.01M244.35 395.78h.01M244.45 396.89h.01M238.95 400.35h.01M244.81 401.89h.01M245.28 403.52h.01M244.93 401.06h.01M240.96 404.81h.01M239.75 403.44h.01M238.01 404.78h.01M230.44 404.61h.01M261.53 399.36h.01M258.78 402.65h.01M264.27 398.33h.01M250.81 404.02h.01M251.3 405.59h.01M250.66 406.14h.01M257.69 406.56h.01M258.74 407.82h.01M266.18 405.02h.01M265.18 406.46h.01M231.49 410.36h.01M231.03 412.92h.01M246.59 414.06h.01M243.92 412.57h.01M242.96 411.49h.01M244.21 415.49h.01M242.85 413.74h.01M247.71 414.34h.01M248.71 415.7h.01M246.37 419.02h.01M262.61 415.06h.01M263.45 410.66h.01M256.77 417.19h.01M256.56 418.08h.01M257.38 418.32h.01M258.2 418.48h.01M256.15 418.83h.01M257.7 417.11h.01M258.25 416.63h.01M255.77 417.72h.01M252.9 423.43h.01M263.7 422.72h.01M251.17 426.98h.01M238.46 429.74h.01M239.01 430.32h.01M238.41 431.06h.01M238.33 428.99h.01M266.07 429.53h.01M265.69 428.91h.01M228.85 430.22h.01M241.79 430.47h.01M293.24 392.4h.01M285.52 399.14h.01M283.88 399.48h.01M285.3 399.93h.01M284.47 398.4h.01M287.16 399h.01M292.76 396.87h.01M291.99 399.59h.01M270.04 400.29h.01M270.45 400.95h.01M276.16 401.35h.01M280 401.24h.01M297.08 398.95h.01M268.72 402.83h.01M300.11 403.95h.01M273.4 405.02h.01M273.5 406.18h.01M267.15 407.48h.01M267.38 408.84h.01M268.28 408.92h.01M283.71 407.05h.01M283.14 406.59h.01M284.62 407.12h.01M295.37 406.8h.01M294.52 407.32h.01M298.51 408.29h.01M292.07 408.51h.01M292.8 409.83h.01M284.09 411.72h.01M283.51 410.17h.01M277.49 413.9h.01M301.64 417.17h.01M301.24 415.52h.01M287.17 416.45h.01M296.52 417.16h.01M297.85 417.26h.01M283.52 417.79h.01M289.35 419.4h.01M294.62 421.42h.01M291.87 421.98h.01M282.85 420.49h.01M275.74 421.84h.01M277.71 420.71h.01M275.5 420.94h.01M278.28 425.3h.01M299.12 422.11h.01M266.17 425.92h.01M302.44 424.28h.01M302.89 424.84h.01M280.04 425.52h.01M298.08 426.09h.01M295.98 427.58h.01M300 426.75h.01M297.46 428.26h.01M270.77 427.84h.01M270.65 427.07h.01M273.94 429.2h.01M274.46 427.67h.01M272.53 429.77h.01M273.3 428.01h.01M275.22 429.24h.01" stroke="#72EE26" stroke-width="1.3"/>
<path d="M254.91 364.47h.01M255.51 365.54h.01M254.42 363.93h.01M263.52 369.62h.01M264.22 369.83h.01M264.15 368.41h.01M262.42 367.53h.01M264.56 367.71h.01M264.52 370.52h.01M258.06 372.77h.01M255.33 373.13h.01M243.95 376.46h.01M239.46 380.73h.01M240.32 379.88h.01M240 382.39h.01M263.53 383.7h.01M263.02 382.29h.01M263.25 381.41h.01M265.53 381.87h.01M249.47 382.74h.01M250.35 382.57h.01M251.13 382.65h.01M250.17 383.27h.01M250.78 384.94h.01M247.04 383.46h.01M230.83 384.07h.01M231.25 383.39h.01M232.29 383.95h.01M233.74 393.86h.01M234.75 392.56h.01M231.71 393h.01M281.1 361.52h.01M281.92 361.3h.01M280.16 361.2h.01M279.61 362.81h.01M294.88 361.76h.01M292.62 362.33h.01M295.41 359.08h.01M299.88 362.89h.01M299.32 362.37h.01M300.88 362.77h.01M286.42 366.5h.01M287.11 368.68h.01M269.97 368.26h.01M270.73 367.95h.01M269.18 369.42h.01M271.21 370.06h.01M270.22 371.29h.01M269.82 372.13h.01M268.96 371.27h.01M268.66 366.54h.01M268.23 369.42h.01M300.9 370.81h.01M301.11 372.58h.01M302.59 371.65h.01M302.92 370.84h.01M289.04 377.18h.01M288.87 377.89h.01M284.32 383.61h.01M285.8 383.81h.01M286.68 383.68h.01M286.59 382.03h.01M283.55 381.7h.01M283.45 386.62h.01M281.69 384.94h.01M282.62 388.38h.01M283.45 388.32h.01M277.37 387.7h.01M276.92 389.27h.01M277.71 389.75h.01M275.33 386.97h.01M269.97 390.01h.01M270.95 390.54h.01M292.75 390.4h.01M293.44 390.76h.01M291.6 388.43h.01M290.67 389.76h.01M290.39 388.89h.01M289.61 389.69h.01M240.02 399.11h.01M239.63 399.87h.01M238.01 400.29h.01M239.95 400.69h.01M239.43 401.36h.01M243.78 403.36h.01M243.08 401.73h.01M244.54 403.92h.01M260.07 398.33h.01M262.59 400.94h.01M258.8 399.65h.01M259.94 401.47h.01M259.56 402.12h.01M258.69 401.89h.01M263.21 398.68h.01M260.71 401.81h.01M257.97 398.98h.01M258.02 399.96h.01M258 397.71h.01M265.71 408.33h.01M265.67 410.12h.01M265.35 407.35h.01M266.98 407h.01M245.08 413.55h.01M244.4 414.01h.01M244.24 413.28h.01M245.57 412.84h.01M247.36 412.69h.01M247.24 411.2h.01M243.15 412.62h.01M260.93 414.72h.01M263.3 413.22h.01M262.05 414.29h.01M262.76 412.16h.01M260.29 412.61h.01M261.94 411.8h.01M267.1 430.21h.01M285.58 396.59h.01M287.42 397.24h.01M286.23 396.11h.01M294.26 399.39h.01M294.98 399.03h.01M291.33 399.29h.01M293.71 397.32h.01M291.37 400.98h.01M292.93 401.34h.01M277.67 400.85h.01M278.32 401.23h.01M277.99 400.13h.01M278.8 401.85h.01M279.17 402.55h.01M278.37 402.67h.01M277.03 401.32h.01M279.66 401.99h.01M279.09 400.68h.01M276.45 402.11h.01M269.55 409.1h.01M269.76 406.01h.01M266.67 406.55h.01M270.9 407.14h.01M299.64 409.76h.01M287.22 420.26h.01M285.52 418.29h.01M287.88 419.75h.01M293.32 420.18h.01M293.95 419.66h.01M290.32 420.19h.01M298.51 425.48h.01M297.43 426.72h.01M299.33 425.34h.01M300.01 427.73h.01" stroke="#84FA30" stroke-width="1"/>
<path d="M253.31 364.44h.01M256.18 365.09h.01M264.76 369.26h.01M262.87 369.25h.01M256.35 373.83h.01M255.58 373.94h.01M256.05 373.05h.01M257.92 374.13h.01M255.56 372.32h.01M238.63 380.29h.01M240.36 380.73h.01M237.42 379.87h.01M241.11 379.91h.01M237.26 381.56h.01M240.63 381.41h.01M240.48 379.18h.01M239.61 379.2h.01M238.1 381h.01M241.17 380.72h.01M262.44 381.83h.01M265.56 382.78h.01M264.47 381.69h.01M249.3 383.59h.01M250.13 385.59h.01M249.39 385.12h.01M231.54 384.48h.01M231.57 385.38h.01M230.87 384.92h.01M233.28 385.44h.01M232.85 384.76h.01M230.22 386.18h.01M229.88 385.48h.01M231.78 386.3h.01M232.86 393.96h.01M233.45 394.67h.01M232.09 394.31h.01M231.12 392.55h.01M230.85 391.77h.01M281.52 362.29h.01M280.81 362.7h.01M279.33 361.1h.01M278.82 360.47h.01M279.19 363.64h.01M294.06 361.31h.01M293.15 361.54h.01M294.18 362.27h.01M292.83 360.02h.01M291.71 360.86h.01M295.07 360.87h.01M292.32 361.58h.01M294.79 359.62h.01M294.05 363.12h.01M296.13 359.01h.01M296.06 359.77h.01M294.9 362.57h.01M295.76 362.18h.01M292.89 363.3h.01M296.64 362.4h.01M299.62 363.8h.01M299.14 361.45h.01M301.25 365.6h.01M286.67 365.47h.01M285.99 365.03h.01M288.56 365.58h.01M285.37 365.55h.01M287.83 364.4h.01M285.48 367.19h.01M286.16 368.27h.01M287.84 368.54h.01M269.96 369.32h.01M270.62 368.68h.01M271.29 369.01h.01M269.61 370.86h.01M269.36 366.73h.01M268.83 370.11h.01M267.88 366.16h.01M270.55 372.31h.01M289.85 376.05h.01M284.61 384.92h.01M283.1 384.77h.01M283.74 382.67h.01M285.47 382.27h.01M286.08 385.6h.01M285.91 381.51h.01M281.69 384.17h.01M285.04 380.33h.01M282.81 387h.01M282.15 387.6h.01M284.64 386.27h.01M278.1 387.12h.01M279.56 386.63h.01M277.94 389.01h.01M276.67 388.08h.01M278.56 389.74h.01M269.24 389.55h.01M271.8 390.87h.01M293.52 391.92h.01M294.24 392.17h.01M291.31 389.13h.01M290.11 390.27h.01M293.52 388.8h.01M239.17 399.2h.01M238.38 399.65h.01M240.43 398.36h.01M238.09 398.91h.01M240.01 397.22h.01M244.64 402.95h.01M244.1 402.25h.01M243.25 402.48h.01M242.62 402.94h.01M246.06 403.29h.01M246.86 402.98h.01M259.97 400.65h.01M261.66 400.68h.01M262.2 400.15h.01M259.31 400.2h.01M263.3 400.45h.01M259.11 398.96h.01M263.66 401.07h.01M260.05 399.17h.01M257.57 398.33h.01M262.23 398.99h.01M259.19 401.3h.01M264.02 402.04h.01M261.26 397.73h.01M265.67 409.2h.01M266.46 409.21h.01M266.18 407.3h.01M266.78 410.07h.01M264.57 408.79h.01M245.82 413.9h.01M243.95 414.67h.01M246.04 412.12h.01M246.26 411.24h.01M244.96 411.07h.01M245.62 410.55h.01M246.45 410.26h.01M245.2 415.54h.01M260.4 414.07h.01M262.59 413.68h.01M260.31 415.31h.01M259.3 413.95h.01M259.12 412.86h.01M267.09 429.39h.01M285.49 398.36h.01M284.97 397.64h.01M284.72 396.82h.01M284.03 400.26h.01M292.76 399.71h.01M293.42 396.42h.01M293.56 398.9h.01M277.89 399.33h.01M278.76 399.53h.01M267.74 405.76h.01M267.57 406.53h.01M269.91 408.25h.01M300.49 410.09h.01M298.9 409.54h.01M300.29 408.36h.01M299.41 408.47h.01M298.09 409.12h.01M286.36 418.99h.01M285.55 419.13h.01M287.11 418.72h.01M285.8 420.14h.01M287.23 417.96h.01M287.17 419.48h.01M291.85 420.43h.01M293.78 421.77h.01M299.08 426.69h.01M296.77 425.81h.01" stroke="#84FA30" stroke-width="1.15"/>
<path d="M255.81 364.4h.01M254.73 365.32h.01M253.81 365.46h.01M262.69 368.36h.01M263.52 368.8h.01M261.89 366.82h.01M263.55 367.57h.01M261.07 369.7h.01M256.89 373h.01M257.64 373.39h.01M254.68 373.78h.01M257.26 372.29h.01M242.51 376.5h.01M243.28 376.89h.01M243.07 375.03h.01M242.64 377.4h.01M241.76 376.07h.01M242.73 373.57h.01M242.09 374.17h.01M239.61 381.58h.01M264.09 382.36h.01M262.19 383.41h.01M263.8 384.56h.01M262.14 382.54h.01M265.1 383.72h.01M250.54 384.08h.01M247.92 383.3h.01M249.84 384.33h.01M229.96 383.84h.01M230.87 385.8h.01M230.05 382.89h.01M229.97 384.68h.01M232.93 386.18h.01M231.6 382.61h.01M233.27 393.06h.01M234.17 393.24h.01M233.18 392.34h.01M233.87 392.07h.01M279.68 361.91h.01M281.34 363.19h.01M280.22 360.31h.01M293.49 360.75h.01M292.54 360.75h.01M296.82 360.32h.01M294 359.55h.01M297.3 360.95h.01M300.43 363.57h.01M300.4 364.41h.01M287.1 366.14h.01M287.68 366.78h.01M285.47 366.4h.01M287.47 363.72h.01M288.78 366.38h.01M272.06 368.74h.01M269.21 368.43h.01M268.59 367.77h.01M271.63 370.86h.01M288.41 378.57h.01M288.26 376.91h.01M289.47 378.38h.01M289.07 376.34h.01M289.33 375.52h.01M287.58 377.22h.01M288.21 379.47h.01M284.19 385.7h.01M285.33 385.51h.01M282.55 385.32h.01M284.24 381.92h.01M285.53 384.62h.01M286.22 382.85h.01M282.33 384.57h.01M285.68 380.72h.01M286.25 384.77h.01M286.73 386.65h.01M281.45 385.69h.01M287.1 385.17h.01M278.07 388.07h.01M278.81 386.83h.01M276.88 390.02h.01M277.04 386.83h.01M276.18 386.74h.01M278.95 386.03h.01M271.42 389.4h.01M271.8 390.05h.01M270.23 388.64h.01M271.1 391.3h.01M294.16 390.32h.01M292.49 391.14h.01M294.1 389.59h.01M292 389.94h.01M293.7 392.81h.01M293.26 389.5h.01M240.88 399.12h.01M240.55 400.04h.01M240.23 401.48h.01M241.52 398.6h.01M242.26 398.51h.01M240.8 397.68h.01M261.19 400.06h.01M260.45 400.1h.01M261.49 401.39h.01M263.5 399.54h.01M264.06 400.34h.01M258.49 398.25h.01M264.38 401.17h.01M259.33 397.78h.01M264.15 398.61h.01M260.02 397.48h.01M265.01 408.04h.01M266.78 408.38h.01M264.16 408h.01M267.25 409.52h.01M247.21 413.54h.01M244.53 411.81h.01M244.81 414.75h.01M246.6 413.12h.01M244.17 416.42h.01M261.88 413.5h.01M261.23 413.15h.01M259.93 416.02h.01M263.12 414.33h.01M259.04 416.33h.01M261.03 415.78h.01M265.29 429.7h.01M265.73 430.35h.01M285.95 397.63h.01M286.3 398.79h.01M286.46 397.01h.01M286.79 397.66h.01M283.42 398.88h.01M283.04 399.81h.01M282.74 399.13h.01M287.4 398.08h.01M283.7 398.05h.01M292.52 398.98h.01M292.14 397.6h.01M295.03 399.9h.01M295.17 398.33h.01M293 397.58h.01M293.59 398.11h.01M291.68 398.58h.01M294.34 398.63h.01M291.42 401.81h.01M292.05 402.22h.01M290.48 398.94h.01M294.6 397.74h.01M290.19 397.65h.01M277 400.39h.01M268.05 407.24h.01M268.48 407.84h.01M268.43 406.49h.01M268.47 405.69h.01M300.23 409.12h.01M301.19 409.83h.01M301.8 409.11h.01M300.04 410.66h.01M287.91 418.83h.01M292.61 420.61h.01M291.22 420.03h.01M293.34 420.98h.01M292.07 421.26h.01M291.32 419.13h.01M291.02 420.87h.01M298.18 426.82h.01M298.11 427.66h.01M299.59 426.14h.01" stroke="#84FA30" stroke-width="1.3"/>
</g></g>
<rect x="309.5" y="357.5" width="74.25" height="73.25" fill="#000"/>
<g clip-path="url(#clip3)"><g filter="url(#soft)" fill="none" stroke-linecap="round">
<path d="M325.61 358.72h.01M325.22 359.41h.01M324.38 358.07h.01M336.17 369.17h.01M335.59 368.57h.01M335.06 367.99h.01M335.52 369.51h.01M346.98 378.47h.01M345.81 377.57h.01M346.03 378.56h.01M318.72 382.07h.01M309.58 367.49h.01M359.5 378.39h.01M358.64 378.28h.01M363.23 379.77h.01M317.69 397.9h.01M317.08 398.34h.01M342.07 412.46h.01M312.36 422.1h.01M314.91 420.37h.01M362.58 398.1h.01M374.53 409.71h.01M368.88 410.97h.01M361.97 416.57h.01M361.52 417.14h.01M373.96 421.58h.01M374.47 420.8h.01M380.12 425.21h.01" stroke="#58C41C" stroke-width="0.85"/>
<path d="M315.43 359.6h.01M324.79 358.82h.01M339.89 361.38h.01M336.73 368.44h.01M336.84 369.74h.01M327.23 372.76h.01M339.98 375.05h.01M338.22 374.57h.01M319.24 375.39h.01M346.6 377.81h.01M332.14 379.27h.01M313.26 381.65h.01M319.61 382.1h.01M319.14 382.7h.01M330.85 382.85h.01M334.67 384.66h.01M334.78 393.05h.01M332.49 392.4h.01M309.59 388.86h.01M310.01 388.22h.01M309.18 389.7h.01M351.36 375.95h.01M359.08 379.04h.01M359.32 377.68h.01M362.73 380.64h.01M363.5 380.51h.01M379.34 379.42h.01M373.46 379.53h.01M378.58 382.92h.01M377.83 385.67h.01M380.33 388.16h.01M370.35 392.57h.01M372.22 393.14h.01M377.89 392.8h.01M378.62 392.49h.01M378.94 391.75h.01M364.38 393.72h.01M321.91 404.77h.01M312.97 405.06h.01M342.4 409.41h.01M341.55 409.6h.01M342.28 413.24h.01M318.41 413.91h.01M311.6 422.08h.01M310.77 421.79h.01M315.77 420.18h.01M316.21 419.57h.01M332.85 427.63h.01M335.62 430.83h.01M349.61 399.94h.01M362.07 397.59h.01M361.29 398.1h.01M362.71 397.16h.01M361.3 397.31h.01M376.23 395.03h.01M383.01 397.64h.01M366.81 399.79h.01M381.71 401.88h.01M363.56 401.73h.01M357.76 412.04h.01M374.33 410.47h.01M375.04 410.58h.01M369.62 410.85h.01M373.42 422.08h.01M374.54 422.11h.01M372.67 421.72h.01M366.45 423h.01M380.96 425.6h.01M380.65 426.36h.01M381.24 424.85h.01M363.77 427.86h.01M363.66 428.74h.01" stroke="#58C41C" stroke-width="1"/>
<path d="M316.99 359.05h.01M342.52 358.3h.01M347.07 359.98h.01M326.72 371.67h.01M313.69 382.23h.01M315.56 381.14h.01M335.18 383.33h.01M335.35 382.49h.01M323.08 384.44h.01M347.77 358.44h.01M373.34 358.58h.01M371.19 367.14h.01M369.43 368.48h.01M372.16 366.66h.01M365.59 369.88h.01M350.06 376.1h.01M379.01 380.17h.01M357.43 386.59h.01M377.05 385.89h.01M370.8 391.82h.01M379.5 392.52h.01M353.36 392.24h.01M350.95 394.82h.01M314.61 403.09h.01M320.28 405.37h.01M313.35 406.53h.01M341.46 411.65h.01M341.85 408.68h.01M342.84 408.82h.01M327.55 413.6h.01M318.61 415.04h.01M332.2 417.75h.01M330.75 417.64h.01M330.94 416.73h.01M332.77 418.25h.01M349.42 400.69h.01M377.79 394.29h.01M375.39 396.58h.01M366.72 399.04h.01M374.68 401.06h.01M377.33 402.61h.01M378.91 402.92h.01M352.59 426.06h.01M362.49 424.99h.01M364.23 429.33h.01M365.15 429.07h.01M378.16 428.95h.01M377.42 430.65h.01" stroke="#58C41C" stroke-width="1.15"/>
<path d="M317.53 361.2h.01M341.59 361.35h.01M322.82 369.47h.01M332.13 388.69h.01M332.65 388.1h.01M356.96 358.45h.01M370.16 367.05h.01M370.67 366.45h.01M371.51 366.17h.01M371.73 365.47h.01M350.77 376.36h.01M380.78 378.85h.01M373.33 380.91h.01M377.97 384.13h.01M379.32 382.27h.01M378.58 386.98h.01M379.93 389.35h.01M371.11 392.55h.01M379.13 393.19h.01M353.01 394.21h.01M373.46 394.54h.01M312.75 406.1h.01M328.34 414.06h.01M317.8 414.56h.01M331.58 417.31h.01M325.23 429.06h.01M349.64 401.62h.01M350.29 401.27h.01M375.14 399.76h.01M360.8 409.21h.01M360.36 406.3h.01M358.35 411.39h.01M359.49 412h.01M371.79 418.22h.01M371.32 418.81h.01M382.09 419.47h.01M352.53 427.34h.01M352.49 425.24h.01" stroke="#58C41C" stroke-width="1.3"/>
<path d="M316.58 359.73h.01M334.61 362.37h.01M341.29 363.02h.01M341.89 358.65h.01M346.57 360.99h.01M309.55 361.51h.01M327.96 366.97h.01M328.22 366.29h.01M326.19 368.88h.01M331.12 366.28h.01M326.79 369.49h.01M321.47 368.65h.01M346.36 367.29h.01M347.4 369.2h.01M345.31 368.74h.01M348.05 368.79h.01M343.77 369.34h.01M339.57 375.85h.01M339.92 373.6h.01M338.36 375.71h.01M319.7 376.06h.01M318.82 376.02h.01M330.62 379.01h.01M332.85 378.84h.01M331.37 378h.01M313.52 380.05h.01M315.18 380.49h.01M329.93 382.98h.01M335.34 384.04h.01M335.99 384.69h.01M335.97 383.01h.01M343.67 382.89h.01M342.55 381.21h.01M345.63 381.13h.01M345.78 383.49h.01M321.86 385.02h.01M323.64 385.18h.01M323 383.63h.01M315.82 387.67h.01M314.37 387.65h.01M318.8 385.78h.01M332.39 390.73h.01M333.16 389.62h.01M343.86 389.12h.01M345.47 387.34h.01M315.06 393.38h.01M316.86 392.75h.01M313.44 392.02h.01M372.88 357.91h.01M354.56 363.67h.01M364.46 363.84h.01M363.52 363.69h.01M362.18 364.77h.01M362.91 362.66h.01M348.98 367.36h.01M347.22 369.4h.01M348.76 370.22h.01M343.79 367.68h.01M370.21 365.03h.01M366.24 369.48h.01M353.65 370.49h.01M354.03 372.11h.01M353.16 372.04h.01M376.71 372.53h.01M379.08 372.68h.01M351.57 376.71h.01M350.76 378h.01M349.44 376.47h.01M351.81 375.2h.01M379.87 378.78h.01M380.36 378.24h.01M379.2 377.65h.01M374.62 381.36h.01M373.86 381.42h.01M345.89 382.24h.01M346.5 382.78h.01M345.43 382.99h.01M358.66 381.41h.01M360.1 383.05h.01M377.86 381.46h.01M350.02 387.4h.01M348.75 386.58h.01M354.03 386.35h.01M353.26 385.91h.01M365.44 388.12h.01M363.24 386.41h.01M362.39 386.53h.01M364.96 388.82h.01M377.83 386.44h.01M381.38 389.23h.01M380.56 388.98h.01M345.75 389.63h.01M371.02 394.06h.01M369.61 393.4h.01M369.25 392.66h.01M371.92 392.3h.01M370.9 394.78h.01M377.9 392.07h.01M354.49 392.64h.01M354.17 391.95h.01M354.65 394.32h.01M363.63 393.68h.01M365.08 393.47h.01M374.2 394.43h.01M345.77 392.53h.01M345.73 393.34h.01M346.33 392.04h.01M325.12 396.89h.01M335.83 400.71h.01M345.67 398.9h.01M347.29 398.88h.01M346.89 399.82h.01M344.04 401.48h.01M344.37 398.32h.01M314.61 402.31h.01M315.47 402.58h.01M313.95 401.86h.01M313.44 402.56h.01M339.11 403.51h.01M338.89 404.38h.01M337.52 404.11h.01M322.11 405.56h.01M322.91 405.76h.01M322.39 406.35h.01M322.17 403.88h.01M312.73 406.92h.01M313.38 407.57h.01M332.68 407.88h.01M321.42 410.73h.01M322.79 409.23h.01M313.09 414.03h.01M313.28 411.84h.01M312.26 412.4h.01M315.93 413.78h.01M329.07 411.5h.01M328.53 413.4h.01M331.22 410.12h.01M317 415.28h.01M316.52 415.91h.01M331.98 416.67h.01M346.94 418.24h.01M321.81 419.77h.01M321.45 422.7h.01M324.24 422.62h.01M323.53 423.55h.01M312.97 426.59h.01M336.64 426.51h.01M324.84 428.34h.01M315.84 428.93h.01M336.1 430.28h.01M349.7 396.97h.01M349.86 394.78h.01M347.13 401.08h.01M346.79 398.94h.01M362.83 394.48h.01M363.27 395.21h.01M378.67 394.44h.01M377.71 392.87h.01M375.84 394.25h.01M382.25 397.45h.01M367.48 400.41h.01M375.32 398.98h.01M380.92 401.92h.01M380.05 402.23h.01M380.46 402.92h.01M380.61 400.55h.01M363.4 403.44h.01M362.7 401.97h.01M363.02 404.13h.01M362.39 404.59h.01M377.64 403.38h.01M379.05 406.27h.01M380.78 404.96h.01M380.61 405.66h.01M360.74 407.71h.01M360.08 411.28h.01M367.01 415.92h.01M382.65 412.92h.01M381.95 413.21h.01M374.5 417.35h.01M375.9 417.85h.01M376.64 417.81h.01M377.58 420.64h.01M378.64 419.49h.01M376.76 420.86h.01M352.79 423.05h.01M352.68 422.3h.01M367.22 422.84h.01M358.86 424.98h.01M355.98 425.24h.01M360.21 424.05h.01M357.45 422.9h.01M353.43 426.29h.01M361.14 424.69h.01M364.41 428.42h.01M364.68 427.4h.01M365.86 429.63h.01M377.04 429.89h.01M377.93 430.13h.01M371.56 430.44h.01M370.79 430.56h.01" stroke="#72EE26" stroke-width="1"/>
<path d="M315.86 357.98h.01M318.21 360.76h.01M333.39 361.57h.01M336.02 362.42h.01M332.64 361.68h.01M340.62 361.7h.01M340.33 362.51h.01M346.31 360.21h.01M345.52 360.26h.01M347.12 361.56h.01M326.76 367.2h.01M327.3 366.25h.01M324.51 368.51h.01M326.68 365.77h.01M325.15 366.2h.01M325.95 365.68h.01M322.57 368.72h.01M322.09 369.28h.01M323.37 368.73h.01M343.2 367.53h.01M346.12 368.22h.01M345.27 366.36h.01M348.49 368.03h.01M344.38 366.23h.01M326.49 372.54h.01M339.21 373.79h.01M340.03 376.52h.01M327.43 376.76h.01M331.47 378.87h.01M314.42 380.28h.01M312.79 380.16h.01M331.5 383.33h.01M330.63 383.61h.01M331.53 384.09h.01M331.93 382.71h.01M334.64 383.83h.01M345.1 383.76h.01M344.31 383.54h.01M340.39 385.16h.01M339.45 385.21h.01M317.38 388.64h.01M316.43 388.68h.01M318.69 390.3h.01M316.25 391.46h.01M318.9 388.14h.01M314.8 388.88h.01M331.78 389.45h.01M332.4 389.86h.01M330.96 389.34h.01M346.13 387.72h.01M345.77 391.52h.01M315.41 392.1h.01M332.85 393.7h.01M332.28 393.17h.01M327.36 394.42h.01M326.67 394.97h.01M326.63 393.99h.01M347.9 359.15h.01M348.64 358.36h.01M357.41 359.12h.01M353.24 363.77h.01M352.69 361.31h.01M365.87 363.76h.01M362.14 363.72h.01M346.56 367.21h.01M348.16 368.29h.01M346.59 366.47h.01M348.07 369.59h.01M344.09 366.96h.01M345.77 366.22h.01M369.97 366.16h.01M370.89 365.64h.01M369.48 366.78h.01M372.43 367.36h.01M368.73 367.96h.01M370.88 368.03h.01M365.87 370.56h.01M366.73 370.59h.01M353.85 371.31h.01M378.04 372.38h.01M378.45 373.07h.01M350.83 377.15h.01M351.45 377.76h.01M350.87 374.79h.01M378.28 378.06h.01M375.33 381.08h.01M375.87 380.47h.01M346.12 380.64h.01M350.55 383.24h.01M377.9 382.4h.01M378.52 381.77h.01M349.55 386.82h.01M349.24 387.63h.01M350.03 386.08h.01M353.65 387.17h.01M356.88 387.15h.01M366.13 387.86h.01M366.41 387.02h.01M347.09 392.02h.01M370.33 393.51h.01M371.53 391.54h.01M378.39 393.45h.01M378.68 394.13h.01M354.06 393.45h.01M353.83 394.15h.01M352.52 392.76h.01M363.68 394.42h.01M362.92 394.34h.01M346.46 392.76h.01M336.89 400.27h.01M337.27 401.24h.01M345.68 400.42h.01M342.59 399.68h.01M314.06 401.02h.01M338.42 402.8h.01M340.41 402.85h.01M322.67 405.05h.01M322.67 403.12h.01M312.01 406.32h.01M331.44 405.8h.01M332.07 407.32h.01M333.22 407h.01M331.24 407.61h.01M335.39 407.29h.01M333.97 409.16h.01M342.55 410.34h.01M342.97 411.14h.01M341.35 410.36h.01M343.54 409.05h.01M322.09 410.17h.01M320.46 411.79h.01M322.71 410.56h.01M313.25 414.9h.01M314.87 412.37h.01M312.49 414.71h.01M315.52 412.95h.01M317.84 415.38h.01M318.45 416.02h.01M319.47 414.74h.01M346.16 417.92h.01M323.18 420.84h.01M324.41 421h.01M320.86 419.71h.01M325.74 421.97h.01M320.88 418.95h.01M321.47 421.97h.01M313.87 425.14h.01M312.24 427.17h.01M336.69 428.21h.01M336.93 425.64h.01M326.1 426.66h.01M324.94 427.49h.01M332.83 428.63h.01M331.61 427.58h.01M316.61 429.93h.01M354.35 393.66h.01M349.54 395.52h.01M345.45 399.34h.01M344.86 399.81h.01M347.63 401.66h.01M345.39 398.52h.01M348.75 401.38h.01M351.05 400.12h.01M362.12 394.14h.01M362.46 395.21h.01M363.91 395.78h.01M362.85 393.69h.01M378.2 393.51h.01M377.26 393.54h.01M378.84 393.17h.01M375.71 395.61h.01M376.2 396.26h.01M377.14 395.3h.01M366.12 400.42h.01M375.61 400.44h.01M376.37 400.9h.01M381.33 402.66h.01M356.7 403.96h.01M356.28 404.66h.01M358.86 405.44h.01M378.36 403.49h.01M378.04 402.77h.01M379.34 405.4h.01M381.06 406.53h.01M361.55 407.91h.01M359.93 407.8h.01M361.06 406.96h.01M358.41 410.62h.01M367.59 407.96h.01M349.77 414.62h.01M369.55 415.56h.01M365.97 414.23h.01M375.53 416.93h.01M372.68 418.22h.01M372.4 417.52h.01M377.97 419.94h.01M377.47 419.35h.01M383.17 420.65h.01M366.81 422.07h.01M358.26 424.35h.01M355.2 424.87h.01M351.68 427.14h.01M361.69 425.16h.01M361.82 424.32h.01M363.26 425.33h.01M377.41 429.13h.01M377.6 428.4h.01" stroke="#72EE26" stroke-width="1.15"/>
<path d="M316.06 359.1h.01M315.4 358.78h.01M334.62 361.17h.01M341.37 362.25h.01M339.14 361.59h.01M340.46 360.89h.01M345.82 361.21h.01M329.23 366.04h.01M326.77 370.31h.01M322.57 367.78h.01M322.26 370.16h.01M343.19 368.46h.01M347.77 370h.01M345.95 369.55h.01M347.53 366.2h.01M339.34 374.54h.01M338.81 375.14h.01M340.67 374.45h.01M340.69 375.56h.01M320.52 375.8h.01M323.19 375.77h.01M331.18 379.54h.01M313.8 380.88h.01M314.54 381.02h.01M312.62 380.92h.01M311.91 380.06h.01M334.43 383.06h.01M343.39 381.09h.01M342.69 380.44h.01M347.46 382.86h.01M340.19 385.9h.01M340.36 386.66h.01M339.25 385.93h.01M322.65 385.18h.01M322.95 386.05h.01M322.37 384.15h.01M317.13 389.41h.01M316.62 385.49h.01M319.1 387.28h.01M331.36 388.62h.01M345.25 390.07h.01M345.99 390.36h.01M313.59 392.81h.01M333.7 393.34h.01M333.99 392.52h.01M333.18 392.74h.01M347.23 357.75h.01M372.18 358.11h.01M365.13 363.23h.01M364.94 365.42h.01M365.82 361.16h.01M348.09 367.54h.01M345.8 367.51h.01M350.55 367.33h.01M370.04 367.82h.01M368.96 366.17h.01M369.36 365.5h.01M365.18 369.15h.01M365.99 368.72h.01M354.6 371.38h.01M353.06 370.97h.01M378.78 371.9h.01M377.44 372.96h.01M350.63 375.58h.01M379.05 378.5h.01M374.41 380.65h.01M373.76 380.29h.01M345.18 380.26h.01M345.62 383.91h.01M360.54 382.29h.01M377.27 382h.01M377.93 383.39h.01M378.66 380.93h.01M379.3 381.36h.01M368.26 382.91h.01M365.18 383.59h.01M353.35 387.88h.01M353.08 386.72h.01M353.98 388.43h.01M357.46 385.7h.01M356.49 386.54h.01M366 385.92h.01M378.62 386.15h.01M373.6 388.84h.01M372.04 389.54h.01M382.12 389.3h.01M381.7 389.92h.01M347.98 392.12h.01M347.87 390.55h.01M346.07 388.64h.01M371.02 393.29h.01M368.51 392.59h.01M378.73 390.94h.01M354.87 393.28h.01M353.24 393.2h.01M352.35 393.49h.01M350.21 394.88h.01M349.39 394.6h.01M335.34 400.13h.01M336.09 398.13h.01M334.48 400.22h.01M335.6 402.27h.01M340.03 403.55h.01M339.39 402.72h.01M338.73 402.1h.01M337.94 403.47h.01M321.37 404.1h.01M320.8 404.68h.01M312.21 405.57h.01M330.76 406.13h.01M336.52 408.02h.01M337.44 407.87h.01M336.32 407.24h.01M343.28 410.45h.01M342.26 411.46h.01M320.76 409.22h.01M314.89 411.61h.01M315.73 411.74h.01M330.56 412.26h.01M331.9 410.42h.01M331.88 409.61h.01M328.48 411.92h.01M331.38 414.11h.01M329.07 413.81h.01M327.62 414.33h.01M317.25 416.1h.01M317.47 416.88h.01M316.67 416.86h.01M331.46 418.29h.01M332.28 419h.01M333.12 419.05h.01M322.72 421.41h.01M324.05 418.89h.01M324.87 422.05h.01M320.69 420.97h.01M311.8 426.44h.01M325.81 427.54h.01M326.54 427.43h.01M325.63 428.43h.01M332.18 428.21h.01M331.38 428.36h.01M331.28 429.15h.01M315.48 429.73h.01M354.59 394.36h.01M348.35 396.68h.01M350.31 400.2h.01M361.64 394.9h.01M378.47 392.4h.01M381.98 398.13h.01M366.01 399.63h.01M368.27 400.26h.01M375.57 401.26h.01M381.22 401.04h.01M362.99 402.65h.01M364.27 403.31h.01M364.28 401.28h.01M362.36 403.72h.01M358.11 403.84h.01M355.88 403.91h.01M355.62 404.97h.01M378.14 404.28h.01M378.52 404.95h.01M361.87 408.61h.01M361.14 408.55h.01M362.26 407.66h.01M361.11 406.19h.01M362.33 409.32h.01M359.74 406.91h.01M359.24 411.09h.01M357.74 410.97h.01M358.7 412.14h.01M352.05 414.13h.01M350.15 415.42h.01M350.83 415h.01M369.12 414.21h.01M382.04 412.44h.01M374.81 416.48h.01M376.27 417.03h.01M371.45 417.48h.01M372.63 419.1h.01M378.15 421.22h.01M376.8 419.68h.01M382.77 419.97h.01M352.02 422.63h.01M350.37 423.08h.01M367.7 423.43h.01M356.79 425.18h.01M359.34 425.79h.01M360.25 424.97h.01M356.47 426.58h.01M355.15 425.64h.01M351.84 426.33h.01M351 426.21h.01M351.6 425.64h.01M365.2 427.94h.01M363.06 427.58h.01M364.29 430.18h.01M376.62 430.92h.01" stroke="#72EE26" stroke-width="1.3"/>
<path d="M327.45 367.67h.01M326.46 366.46h.01M326.57 368.05h.01M325.33 367.01h.01M328.43 367.66h.01M327.98 368.46h.01M327.59 365.43h.01M329.98 366.35h.01M328.93 365.14h.01M330.66 366.99h.01M324.6 365.53h.01M325.45 364.68h.01M343.91 368.09h.01M346.88 368.44h.01M347.05 369.91h.01M344.27 367.4h.01M343.73 366.79h.01M345.13 367.12h.01M348.06 365.6h.01M345.17 369.51h.01M348.52 366.21h.01M346.31 370.2h.01M325.66 377.37h.01M324.85 376.95h.01M325.48 378.25h.01M324.48 378.69h.01M326.33 378.05h.01M324.13 374.44h.01M327.34 378.39h.01M325.2 374.73h.01M323.81 377.26h.01M343.26 383.65h.01M341.92 381.63h.01M345.36 381.84h.01M342.74 381.95h.01M346.34 381.39h.01M345.08 385.03h.01M326.15 387.41h.01M325.21 388.68h.01M324.03 387.33h.01M317.97 388.21h.01M317.92 389.79h.01M316.85 387.11h.01M316.89 391.88h.01M318.18 391.74h.01M317.28 386.1h.01M315.65 386.11h.01M319.54 386.7h.01M344.64 389.45h.01M344.01 389.84h.01M345.2 388.89h.01M342.6 389.86h.01M343.7 386.63h.01M345.07 390.93h.01M346.82 389.25h.01M315.58 392.81h.01M316.05 394.9h.01M314.83 394.11h.01M315.34 394.75h.01M313.5 394.75h.01M352.89 363.04h.01M354.23 362.13h.01M353.04 360.52h.01M354.97 361.77h.01M351.89 361.01h.01M352.24 360.2h.01M363.71 362.79h.01M367.01 364.11h.01M364.95 362.31h.01M363.08 365.03h.01M366.04 364.57h.01M361.8 365.43h.01M367.28 362.31h.01M365.08 361.54h.01M346.51 368.94h.01M345.66 369.33h.01M344.86 368.74h.01M348.03 370.37h.01M347.19 370.33h.01M344.55 367.7h.01M348.77 369.18h.01M344.17 368.39h.01M344.96 381.04h.01M346.91 380.65h.01M351.15 383.94h.01M352.9 382.87h.01M367.51 383.44h.01M368.29 383.72h.01M366.79 383.43h.01M366.7 385.17h.01M367.32 385.76h.01M367.71 382.26h.01M366.96 381.69h.01M367.97 384.44h.01M365.59 386.42h.01M369.5 382.72h.01M364.7 386.86h.01M363.96 386.57h.01M372.8 387.56h.01M374.3 387.09h.01M374.42 387.93h.01M372.09 388.69h.01M372.24 387h.01M373.11 386.68h.01M371.27 389.5h.01M346.37 390.06h.01M348.38 391.23h.01M346 391.09h.01M345.22 390.97h.01M347.87 389.01h.01M323.26 398.59h.01M322.84 399.2h.01M323.12 400.75h.01M323.28 397.79h.01M324.25 397.11h.01M322.89 396.98h.01M325.48 399.74h.01M322.5 397.7h.01M336.88 399.35h.01M336.18 398.95h.01M337.66 399.65h.01M337.16 398.47h.01M335.96 401.58h.01M335.61 399.45h.01M335.19 401.17h.01M334.56 401.59h.01M344.92 398.88h.01M346.62 398.34h.01M344.97 401.17h.01M345.82 401.37h.01M347.26 397.83h.01M335.11 408.29h.01M337.09 408.69h.01M335.61 409.54h.01M334.75 409.03h.01M321.26 409.86h.01M321.91 409.25h.01M319.81 410.39h.01M323.42 409.78h.01M314.46 415.75h.01M330.95 412.92h.01M332.19 411.82h.01M329.07 412.69h.01M329.31 410.61h.01M330.25 413.36h.01M332.75 412.47h.01M332.65 409.11h.01M330.48 414.12h.01M346.47 417.07h.01M347.65 418.85h.01M322 421.47h.01M324.41 419.63h.01M322.81 418.37h.01M324.23 423.93h.01M320.04 418.93h.01M323.99 421.88h.01M313.49 425.94h.01M311.18 425.07h.01M313.42 424.37h.01M336.59 427.3h.01M315.68 428.14h.01M314.84 428.15h.01M316.55 428.21h.01M355.06 395.09h.01M355.49 394.41h.01M355.36 392.05h.01M353.99 395.27h.01M350.16 397.56h.01M349.37 396.26h.01M348.76 395.73h.01M351.09 398.62h.01M347.88 396.12h.01M346.33 400.33h.01M345.59 400.14h.01M346.22 399.55h.01M345.72 401.01h.01M358.34 404.72h.01M379.76 406.08h.01M380.05 405.18h.01M380.33 404.34h.01M378.92 407.1h.01M377.77 405.98h.01M366.98 407.35h.01M350.65 414.11h.01M351.37 413.81h.01M351.24 413.1h.01M349.16 415.21h.01M350.46 416.19h.01M349.12 413.49h.01M351.44 415.41h.01M367.47 414.29h.01M367.89 415.67h.01M366.57 414.64h.01M368.77 415.81h.01M357.63 425.37h.01M360.14 426.62h.01M357.92 422.03h.01" stroke="#84FA30" stroke-width="1"/>
<path d="M334.51 363.18h.01M333.66 363.52h.01M333.34 362.32h.01M335.81 360.06h.01M336.62 360.4h.01M328.83 366.78h.01M329.9 367.48h.01M325.37 368.52h.01M330.41 364.85h.01M344.85 368.15h.01M347.02 367.7h.01M342.95 366.66h.01M325.66 376.47h.01M326.55 376.73h.01M324.74 377.96h.01M327.05 377.5h.01M323.64 378.98h.01M326.37 378.84h.01M323.66 375.07h.01M344.54 382.77h.01M342.93 382.67h.01M344.59 381.88h.01M341.15 381.59h.01M343.53 380.27h.01M341.99 384.21h.01M346.23 384.2h.01M325.42 387.02h.01M324.77 387.47h.01M325.7 386.36h.01M326.36 388.44h.01M326.52 386.38h.01M315.66 388.93h.01M317.33 387.74h.01M316.3 389.75h.01M317.04 391.05h.01M317.85 391.06h.01M316.41 386.41h.01M315.85 390.67h.01M344.51 388.68h.01M343.85 387.47h.01M346.46 391.01h.01M345.98 389.12h.01M343.44 391.24h.01M344.2 391.28h.01M316.13 392.18h.01M314.33 393.03h.01M314.19 391.48h.01M339.86 393.37h.01M339.09 393.65h.01M339.81 391.04h.01M338.02 392.43h.01M353.53 362.3h.01M364.47 362.92h.01M363.77 364.44h.01M362.91 364.07h.01M365.14 364.21h.01M364.45 364.75h.01M366.43 362.57h.01M365.79 362.07h.01M364.16 362.12h.01M366.55 361.69h.01M364.21 366.64h.01M364.23 361.13h.01M363.67 360.5h.01M346.16 368.21h.01M349.85 367.68h.01M346.33 369.67h.01M347.68 366.83h.01M345.26 368.05h.01M348.54 366.71h.01M349.68 366.96h.01M345.12 381.91h.01M346.62 381.97h.01M346.18 379.77h.01M347.3 381.39h.01M359.25 382.54h.01M357.9 382.86h.01M357.87 381.83h.01M359.86 381.92h.01M358.45 383.48h.01M359.43 383.39h.01M352.07 383.22h.01M349.71 383.57h.01M349.33 384.29h.01M350.21 384.51h.01M352.14 384.9h.01M366.5 384.25h.01M366.33 382.63h.01M365.99 383.48h.01M365.35 384.41h.01M364.57 384.07h.01M365.37 382.67h.01M364.16 387.37h.01M365.16 387.41h.01M365.47 386.69h.01M363.44 387.18h.01M363.95 389.18h.01M371.33 387.4h.01M373.35 389.69h.01M346.79 390.84h.01M347.14 390.08h.01M347.47 391.28h.01M346.52 389.34h.01M346.19 391.99h.01M345.46 391.66h.01M347.82 389.82h.01M344.64 391.88h.01M324.18 397.98h.01M324.92 398.43h.01M325.58 398.06h.01M325.29 396.1h.01M336.18 400h.01M337.7 400.57h.01M333.42 400.16h.01M345.13 399.77h.01M343.54 400.25h.01M343.85 397.6h.01M332.28 405.64h.01M336.47 409.63h.01M335.42 406.4h.01M334.84 409.85h.01M320.28 409.84h.01M323.9 409.22h.01M321.55 408.34h.01M314.06 411.98h.01M314.02 414.43h.01M311.79 412.98h.01M314.73 414.86h.01M331.41 412.07h.01M330.72 410.97h.01M332.51 411.03h.01M328.33 412.69h.01M346.24 418.7h.01M322.18 422.29h.01M323.1 422.17h.01M322.29 420.57h.01M322.18 423.01h.01M322.37 419.28h.01M322.7 423.68h.01M312.57 425.95h.01M313.83 426.84h.01M311.32 427.12h.01M312.33 427.89h.01M316.57 429.09h.01M314.36 428.84h.01M353.62 393.87h.01M355.13 393.59h.01M356.01 393.59h.01M355.74 392.79h.01M350.91 397.47h.01M351.2 396.4h.01M357.53 404.31h.01M356.4 403.19h.01M357.07 405.04h.01M380.34 406.63h.01M366.15 408.6h.01M366.37 407.87h.01M367.25 409.22h.01M349.77 413.85h.01M349.63 416.07h.01M348.92 414.28h.01M368.18 414.01h.01M368.16 414.85h.01M351.83 423.52h.01M351.2 424.11h.01M352.18 424.19h.01M352 421.77h.01M358.44 425.73h.01M356.3 424.41h.01M356.97 425.92h.01M359.62 424.49h.01M357.82 426.25h.01M360.2 425.8h.01M357.34 426.89h.01M356.32 423.36h.01" stroke="#84FA30" stroke-width="1.15"/>
<path d="M335.14 361.87h.01M333.91 360.98h.01M334.2 360.31h.01M335.39 362.81h.01M335.07 360.18h.01M333.18 360.7h.01M333.44 359.8h.01M325.91 367.7h.01M324.83 367.64h.01M326.32 365.05h.01M326.68 364.3h.01M328.7 369.07h.01M327.6 369.07h.01M328.11 364.83h.01M324 367.91h.01M329.81 368.24h.01M330.05 365.59h.01M345.6 367.71h.01M346.66 369.16h.01M346.16 366.55h.01M346.98 366.78h.01M344.55 368.86h.01M347.71 366.91h.01M347.5 364.96h.01M347.8 367.79h.01M347.03 364.24h.01M343.64 365.96h.01M346.8 370.78h.01M325.51 379.17h.01M325.19 375.8h.01M324.52 375.26h.01M323.94 375.75h.01M323.95 378.08h.01M343.62 381.94h.01M342.55 383.45h.01M345.46 382.68h.01M346.18 382.87h.01M344.26 380.96h.01M346.8 383.37h.01M341.97 380.62h.01M344.57 384.34h.01M325.6 388.02h.01M326.88 387.23h.01M317.7 386.97h.01M318.18 388.97h.01M317.4 390.36h.01M316.59 387.9h.01M318.85 391.18h.01M319.68 391.2h.01M318.93 388.97h.01M315.17 388.02h.01M318.03 386.3h.01M343.7 388.32h.01M343.19 387.77h.01M343.33 390.35h.01M342.96 388.73h.01M342.74 390.9h.01M345.57 388.2h.01M342.2 389.16h.01M346.44 388.54h.01M315.67 394.04h.01M317.01 391.93h.01M314.15 392.27h.01M314.04 393.93h.01M312.77 393.22h.01M313.1 394.04h.01M339.46 391.82h.01M339.46 392.55h.01M340.11 392.16h.01M340.56 391.38h.01M338.59 393.07h.01M340.65 392.87h.01M352.73 362.11h.01M354.32 362.89h.01M353.43 361.23h.01M351.98 362.35h.01M354.29 361.21h.01M352.22 363.32h.01M366.52 363.38h.01M366.68 365.02h.01M364.13 365.72h.01M347.23 367.59h.01M347.27 368.5h.01M345.29 366.79h.01M344.92 369.54h.01M349.77 368.47h.01M350.63 368.72h.01M346.56 365.61h.01M345.85 381.32h.01M347.35 382.81h.01M358.47 382.26h.01M359.41 381.2h.01M360.25 380.88h.01M351.89 384.01h.01M350.23 382.58h.01M352.62 384.29h.01M368.98 383.42h.01M366.36 385.98h.01M368.92 382.27h.01M367.14 382.75h.01M366.72 386.75h.01M366.05 384.82h.01M364.65 388.04h.01M364.98 385.98h.01M363.94 388.25h.01M372.88 388.38h.01M373.66 387.43h.01M372.08 387.77h.01M371.24 388.59h.01M347.3 392.74h.01M324.06 398.75h.01M323.53 399.47h.01M324.6 399.39h.01M323.79 400.21h.01M322.79 400.08h.01M335.29 397.87h.01M334.84 398.7h.01M334.37 397.99h.01M336.5 400.99h.01M333.89 399.58h.01M337.37 401.98h.01M345.91 399.71h.01M345.43 398.21h.01M346.5 399.19h.01M344.32 399.87h.01M344.17 400.69h.01M342.62 400.44h.01M343.07 401.04h.01M346.4 400.85h.01M331.55 406.65h.01M330.88 405.12h.01M332.52 406.49h.01M331.88 408.05h.01M333.24 406.15h.01M335.75 407.93h.01M336.09 408.78h.01M320.71 410.42h.01M322.25 408.54h.01M320.17 411.03h.01M323.11 408.33h.01M321.27 411.61h.01M320.36 412.51h.01M313.66 412.66h.01M313.07 413.22h.01M312.47 413.64h.01M315.37 415.28h.01M314.91 410.81h.01M314.44 412.96h.01M331.5 411.2h.01M329.69 412.14h.01M329.61 413.95h.01M323.77 420.39h.01M323.18 419.87h.01M323.19 419.02h.01M323.05 423.01h.01M325.26 421.42h.01M324.96 420.46h.01M321.49 420.85h.01M320.02 420.14h.01M325.45 422.81h.01M325.79 420.63h.01M321.98 418.26h.01M325.32 419.61h.01M320.73 422.09h.01M311.74 425.63h.01M313.22 427.44h.01M335.96 426.77h.01M335.95 427.81h.01M336 425.97h.01M317.27 428.75h.01M353.5 393.08h.01M354.55 392.95h.01M353.45 394.77h.01M350.5 396.71h.01M348.86 397.25h.01M350.36 398.44h.01M349.5 397.87h.01M350.12 395.97h.01M351.03 395.51h.01M347.28 400.34h.01M346.46 401.69h.01M344.61 399.11h.01M344.9 400.94h.01M357.37 405.86h.01M356.78 402.42h.01M378.45 405.68h.01M367.01 408.51h.01M365.63 409.26h.01M366.64 413.89h.01M369.06 415.01h.01M369.78 414.81h.01M367.27 413.29h.01M351.07 423.33h.01M358.59 426.65h.01M358.42 427.55h.01M356.93 423.8h.01M358.17 423.47h.01M358.25 422.7h.01M358.91 423.96h.01M358.75 421.83h.01M355.78 426.21h.01" stroke="#84FA30" stroke-width="1.3"/>
</g></g>
<rect x="365.9" y="424.1" width="13.6" height="2.9" fill="#fff"/>
<text x="106.75" y="354.4" font-size="8.4" text-anchor="middle" fill="#000" textLength="4.34" lengthAdjust="spacingAndGlyphs" stroke="#000" stroke-width="0.15">0</text>
<text x="185.5" y="354.4" font-size="8.4" text-anchor="middle" fill="#000" textLength="4.34" lengthAdjust="spacingAndGlyphs" stroke="#000" stroke-width="0.15">5</text>
<text x="265" y="354.4" font-size="8.4" text-anchor="middle" fill="#000" textLength="8.69" lengthAdjust="spacingAndGlyphs" stroke="#000" stroke-width="0.15">10</text>
<text x="343.75" y="354.4" font-size="8.4" text-anchor="middle" fill="#000" textLength="8.69" lengthAdjust="spacingAndGlyphs" stroke="#000" stroke-width="0.15">20</text>
<text x="63.3" y="411.3" font-size="7.6" text-anchor="start" fill="#000" transform="rotate(-90 63.3 411.3)" textLength="33.8" lengthAdjust="spacingAndGlyphs" stroke="#000" stroke-width="0.18">LL37(µM)</text>
<rect x="74.95" y="499" width="12.3" height="59.1" fill="#A3002B"/>
<line x1="81.1" y1="498" x2="81.1" y2="499.5" stroke="#1c1c1c" stroke-width="1.3"/>
<line x1="78.8" y1="498.5" x2="83.4" y2="498.5" stroke="#1c1c1c" stroke-width="1.15"/>
<rect x="93.75" y="492" width="12.3" height="66.1" fill="#A3002B"/>
<line x1="99.9" y1="490.25" x2="99.9" y2="492.5" stroke="#1c1c1c" stroke-width="1.3"/>
<line x1="97.6" y1="490.5" x2="102.2" y2="490.5" stroke="#1c1c1c" stroke-width="1.15"/>
<text x="100.1" y="490" font-size="7.6" text-anchor="middle" fill="#000" stroke="#000" stroke-width="0.3" letter-spacing="0.45">**</text>
<rect x="112.55" y="480.25" width="12.3" height="77.85" fill="#A3002B"/>
<line x1="118.7" y1="479.25" x2="118.7" y2="480.75" stroke="#1c1c1c" stroke-width="1.3"/>
<line x1="116.4" y1="479.5" x2="121" y2="479.5" stroke="#1c1c1c" stroke-width="1.15"/>
<text x="118.9" y="478.75" font-size="7.6" text-anchor="middle" fill="#000" stroke="#000" stroke-width="0.3" letter-spacing="0.45">***</text>
<rect x="131.45" y="477.25" width="12.3" height="80.85" fill="#A3002B"/>
<line x1="137.6" y1="475" x2="137.6" y2="477.75" stroke="#1c1c1c" stroke-width="1.3"/>
<line x1="135.3" y1="475.5" x2="139.9" y2="475.5" stroke="#1c1c1c" stroke-width="1.15"/>
<text x="137.8" y="474.75" font-size="7.6" text-anchor="middle" fill="#000" stroke="#000" stroke-width="0.3" letter-spacing="0.45">***</text>
<line x1="68.5" y1="452.3" x2="68.5" y2="558.7" stroke="#000" stroke-width="1.35"/>
<line x1="67.85" y1="558.3" x2="150" y2="558.3" stroke="#000" stroke-width="1.2"/>
<line x1="65.1" y1="558.5" x2="68.5" y2="558.5" stroke="#000" stroke-width="1.05"/>
<text x="62.5" y="561.3" font-size="8.4" text-anchor="end" fill="#000" textLength="4.34" lengthAdjust="spacingAndGlyphs" stroke="#000" stroke-width="0.15">0</text>
<line x1="65.1" y1="532.5" x2="68.5" y2="532.5" stroke="#000" stroke-width="1.05"/>
<text x="62.5" y="535.8" font-size="8.4" text-anchor="end" fill="#000" textLength="13.03" lengthAdjust="spacingAndGlyphs" stroke="#000" stroke-width="0.15">200</text>
<line x1="65.1" y1="506.5" x2="68.5" y2="506.5" stroke="#000" stroke-width="1.05"/>
<text x="62.5" y="510.3" font-size="8.4" text-anchor="end" fill="#000" textLength="13.03" lengthAdjust="spacingAndGlyphs" stroke="#000" stroke-width="0.15">400</text>
<line x1="65.1" y1="481.5" x2="68.5" y2="481.5" stroke="#000" stroke-width="1.05"/>
<text x="62.5" y="484.6" font-size="8.4" text-anchor="end" fill="#000" textLength="13.03" lengthAdjust="spacingAndGlyphs" stroke="#000" stroke-width="0.15">600</text>
<line x1="65.1" y1="455.5" x2="68.5" y2="455.5" stroke="#000" stroke-width="1.05"/>
<text x="62.5" y="458.9" font-size="8.4" text-anchor="end" fill="#000" textLength="13.03" lengthAdjust="spacingAndGlyphs" stroke="#000" stroke-width="0.15">800</text>
<line x1="81.1" y1="558.1" x2="81.1" y2="561.3" stroke="#000" stroke-width="1"/>
<text x="81.1" y="573.1" font-size="8.4" text-anchor="middle" fill="#000" textLength="4.34" lengthAdjust="spacingAndGlyphs" stroke="#000" stroke-width="0.15">0</text>
<line x1="99.9" y1="558.1" x2="99.9" y2="561.3" stroke="#000" stroke-width="1"/>
<text x="99.9" y="573.1" font-size="8.4" text-anchor="middle" fill="#000" textLength="4.34" lengthAdjust="spacingAndGlyphs" stroke="#000" stroke-width="0.15">5</text>
<line x1="118.7" y1="558.1" x2="118.7" y2="561.3" stroke="#000" stroke-width="1"/>
<text x="118.7" y="573.1" font-size="8.4" text-anchor="middle" fill="#000" textLength="8.69" lengthAdjust="spacingAndGlyphs" stroke="#000" stroke-width="0.15">10</text>
<line x1="137.6" y1="558.1" x2="137.6" y2="561.3" stroke="#000" stroke-width="1"/>
<text x="137.6" y="573.1" font-size="8.4" text-anchor="middle" fill="#000" textLength="8.69" lengthAdjust="spacingAndGlyphs" stroke="#000" stroke-width="0.15">20</text>
<text x="109.3" y="587.2" font-size="9.7" text-anchor="middle" fill="#000" textLength="43.2" lengthAdjust="spacingAndGlyphs" stroke="#000" stroke-width="0.18">LL37 (µM)</text>
<text x="40.2" y="567.5" font-size="9.9" text-anchor="start" fill="#000" transform="rotate(-90 40.2 567.5)" textLength="123.7" lengthAdjust="spacingAndGlyphs" stroke="#000" stroke-width="0.18">Number of platelet adhesion</text>
<text x="37.5" y="450.5" font-size="8.2" text-anchor="middle" fill="#111" stroke="#111" stroke-width="0.12">i</text>
<rect x="227.5" y="524.5" width="12.5" height="33.6" fill="#A3002B"/>
<line x1="233.75" y1="523.75" x2="233.75" y2="525" stroke="#1c1c1c" stroke-width="1.3"/>
<line x1="231.45" y1="524.5" x2="236.05" y2="524.5" stroke="#1c1c1c" stroke-width="1.15"/>
<rect x="246.25" y="498.25" width="12.5" height="59.85" fill="#A3002B"/>
<line x1="252.5" y1="496.25" x2="252.5" y2="498.75" stroke="#1c1c1c" stroke-width="1.3"/>
<line x1="250.2" y1="496.5" x2="254.8" y2="496.5" stroke="#1c1c1c" stroke-width="1.15"/>
<text x="252.7" y="495.75" font-size="7.6" text-anchor="middle" fill="#000" stroke="#000" stroke-width="0.3" letter-spacing="0.45">*</text>
<rect x="265" y="493" width="12.5" height="65.1" fill="#A3002B"/>
<line x1="271.25" y1="489.5" x2="271.25" y2="493.5" stroke="#1c1c1c" stroke-width="1.3"/>
<line x1="268.95" y1="489.5" x2="273.55" y2="489.5" stroke="#1c1c1c" stroke-width="1.15"/>
<text x="271.45" y="489.5" font-size="7.6" text-anchor="middle" fill="#000" stroke="#000" stroke-width="0.3" letter-spacing="0.45">**</text>
<rect x="283.85" y="475.75" width="12.5" height="82.35" fill="#A3002B"/>
<line x1="290.1" y1="470.75" x2="290.1" y2="476.25" stroke="#1c1c1c" stroke-width="1.3"/>
<line x1="287.8" y1="471.5" x2="292.4" y2="471.5" stroke="#1c1c1c" stroke-width="1.15"/>
<text x="290.3" y="470" font-size="7.6" text-anchor="middle" fill="#000" stroke="#000" stroke-width="0.3" letter-spacing="0.45">**</text>
<line x1="221.2" y1="452.3" x2="221.2" y2="558.7" stroke="#000" stroke-width="1.35"/>
<line x1="220.55" y1="558.3" x2="303" y2="558.3" stroke="#000" stroke-width="1.2"/>
<line x1="217.8" y1="558.5" x2="221.2" y2="558.5" stroke="#000" stroke-width="1.05"/>
<text x="215" y="561.5" font-size="8.4" text-anchor="end" fill="#000" textLength="4.34" lengthAdjust="spacingAndGlyphs" stroke="#000" stroke-width="0.15">0</text>
<line x1="217.8" y1="524.5" x2="221.2" y2="524.5" stroke="#000" stroke-width="1.05"/>
<text x="215" y="527.5" font-size="8.4" text-anchor="end" fill="#000" textLength="13.03" lengthAdjust="spacingAndGlyphs" stroke="#000" stroke-width="0.15">100</text>
<line x1="217.8" y1="489.5" x2="221.2" y2="489.5" stroke="#000" stroke-width="1.05"/>
<text x="215" y="493.1" font-size="8.4" text-anchor="end" fill="#000" textLength="13.03" lengthAdjust="spacingAndGlyphs" stroke="#000" stroke-width="0.15">200</text>
<line x1="217.8" y1="455.5" x2="221.2" y2="455.5" stroke="#000" stroke-width="1.05"/>
<text x="215" y="458.9" font-size="8.4" text-anchor="end" fill="#000" textLength="13.03" lengthAdjust="spacingAndGlyphs" stroke="#000" stroke-width="0.15">300</text>
<line x1="233.75" y1="558.1" x2="233.75" y2="561.3" stroke="#000" stroke-width="1"/>
<text x="233.75" y="573.1" font-size="8.4" text-anchor="middle" fill="#000" textLength="4.34" lengthAdjust="spacingAndGlyphs" stroke="#000" stroke-width="0.15">0</text>
<line x1="252.5" y1="558.1" x2="252.5" y2="561.3" stroke="#000" stroke-width="1"/>
<text x="252.5" y="573.1" font-size="8.4" text-anchor="middle" fill="#000" textLength="4.34" lengthAdjust="spacingAndGlyphs" stroke="#000" stroke-width="0.15">5</text>
<line x1="271.25" y1="558.1" x2="271.25" y2="561.3" stroke="#000" stroke-width="1"/>
<text x="271.25" y="573.1" font-size="8.4" text-anchor="middle" fill="#000" textLength="8.69" lengthAdjust="spacingAndGlyphs" stroke="#000" stroke-width="0.15">10</text>
<line x1="290.1" y1="558.1" x2="290.1" y2="561.3" stroke="#000" stroke-width="1"/>
<text x="290.1" y="573.1" font-size="8.4" text-anchor="middle" fill="#000" textLength="8.69" lengthAdjust="spacingAndGlyphs" stroke="#000" stroke-width="0.15">20</text>
<text x="262.5" y="587.2" font-size="9.7" text-anchor="middle" fill="#000" textLength="43.2" lengthAdjust="spacingAndGlyphs" stroke="#000" stroke-width="0.18">LL37 (µM)</text>
<text x="192.8" y="564.5" font-size="9.9" text-anchor="start" fill="#000" transform="rotate(-90 192.8 564.5)" textLength="118.2" lengthAdjust="spacingAndGlyphs" stroke="#000" stroke-width="0.18">Number of spread platelets</text>
<text x="190.3" y="450.5" font-size="8.2" text-anchor="middle" fill="#111" stroke="#111" stroke-width="0.12">ii</text>
<rect x="371.75" y="500.75" width="12.5" height="57.35" fill="#A3002B"/>
<line x1="378" y1="498.5" x2="378" y2="501.25" stroke="#1c1c1c" stroke-width="1.3"/>
<line x1="375.7" y1="498.5" x2="380.3" y2="498.5" stroke="#1c1c1c" stroke-width="1.15"/>
<rect x="390.5" y="491.5" width="12.5" height="66.6" fill="#A3002B"/>
<line x1="396.75" y1="488.75" x2="396.75" y2="492" stroke="#1c1c1c" stroke-width="1.3"/>
<line x1="394.45" y1="489.5" x2="399.05" y2="489.5" stroke="#1c1c1c" stroke-width="1.15"/>
<text x="396.95" y="488.75" font-size="7.6" text-anchor="middle" fill="#000" stroke="#000" stroke-width="0.3" letter-spacing="0.45">***</text>
<rect x="409.35" y="484.5" width="12.5" height="73.6" fill="#A3002B"/>
<line x1="415.6" y1="481.75" x2="415.6" y2="485" stroke="#1c1c1c" stroke-width="1.3"/>
<line x1="413.3" y1="482.5" x2="417.9" y2="482.5" stroke="#1c1c1c" stroke-width="1.15"/>
<text x="415.8" y="481.75" font-size="7.6" text-anchor="middle" fill="#000" stroke="#000" stroke-width="0.3" letter-spacing="0.45">***</text>
<rect x="428.25" y="481" width="12.5" height="77.1" fill="#A3002B"/>
<line x1="434.5" y1="477.5" x2="434.5" y2="481.5" stroke="#1c1c1c" stroke-width="1.3"/>
<line x1="432.2" y1="477.5" x2="436.8" y2="477.5" stroke="#1c1c1c" stroke-width="1.15"/>
<text x="434.7" y="477" font-size="7.6" text-anchor="middle" fill="#000" stroke="#000" stroke-width="0.3" letter-spacing="0.45">***</text>
<line x1="365.3" y1="452.3" x2="365.3" y2="558.7" stroke="#000" stroke-width="1.35"/>
<line x1="364.65" y1="558.3" x2="446.8" y2="558.3" stroke="#000" stroke-width="1.2"/>
<line x1="361.9" y1="558.5" x2="365.3" y2="558.5" stroke="#000" stroke-width="1.05"/>
<text x="358.8" y="561.5" font-size="8.4" text-anchor="end" fill="#000" textLength="4.34" lengthAdjust="spacingAndGlyphs" stroke="#000" stroke-width="0.15">0</text>
<line x1="361.9" y1="524.5" x2="365.3" y2="524.5" stroke="#000" stroke-width="1.05"/>
<text x="358.8" y="527.5" font-size="8.4" text-anchor="end" fill="#000" textLength="8.69" lengthAdjust="spacingAndGlyphs" stroke="#000" stroke-width="0.15">50</text>
<line x1="361.9" y1="489.5" x2="365.3" y2="489.5" stroke="#000" stroke-width="1.05"/>
<text x="358.8" y="493.1" font-size="8.4" text-anchor="end" fill="#000" textLength="13.03" lengthAdjust="spacingAndGlyphs" stroke="#000" stroke-width="0.15">100</text>
<line x1="361.9" y1="455.5" x2="365.3" y2="455.5" stroke="#000" stroke-width="1.05"/>
<text x="358.8" y="458.9" font-size="8.4" text-anchor="end" fill="#000" textLength="13.03" lengthAdjust="spacingAndGlyphs" stroke="#000" stroke-width="0.15">150</text>
<line x1="378" y1="558.1" x2="378" y2="561.3" stroke="#000" stroke-width="1"/>
<text x="378" y="573.1" font-size="8.4" text-anchor="middle" fill="#000" textLength="4.34" lengthAdjust="spacingAndGlyphs" stroke="#000" stroke-width="0.15">0</text>
<line x1="396.75" y1="558.1" x2="396.75" y2="561.3" stroke="#000" stroke-width="1"/>
<text x="396.75" y="573.1" font-size="8.4" text-anchor="middle" fill="#000" textLength="4.34" lengthAdjust="spacingAndGlyphs" stroke="#000" stroke-width="0.15">5</text>
<line x1="415.6" y1="558.1" x2="415.6" y2="561.3" stroke="#000" stroke-width="1"/>
<text x="415.6" y="573.1" font-size="8.4" text-anchor="middle" fill="#000" textLength="8.69" lengthAdjust="spacingAndGlyphs" stroke="#000" stroke-width="0.15">10</text>
<line x1="434.5" y1="558.1" x2="434.5" y2="561.3" stroke="#000" stroke-width="1"/>
<text x="434.5" y="573.1" font-size="8.4" text-anchor="middle" fill="#000" textLength="8.69" lengthAdjust="spacingAndGlyphs" stroke="#000" stroke-width="0.15">20</text>
<text x="406.3" y="587.2" font-size="9.7" text-anchor="middle" fill="#000" textLength="43.2" lengthAdjust="spacingAndGlyphs" stroke="#000" stroke-width="0.18">LL37 (µM)</text>
<text x="325.2" y="555" font-size="9.9" text-anchor="start" fill="#000" transform="rotate(-90 325.2 555)" textLength="98.8" lengthAdjust="spacingAndGlyphs" stroke="#000" stroke-width="0.18">Relative surface area of</text>
<text x="337.6" y="539.3" font-size="9.9" text-anchor="start" fill="#000" transform="rotate(-90 337.6 539.3)" textLength="68" lengthAdjust="spacingAndGlyphs" stroke="#000" stroke-width="0.18">spread platelets</text>
<text x="322.5" y="448.4" font-size="6.4" text-anchor="middle" fill="#111" stroke="#111" stroke-width="0.1">iii</text>
<text x="7.6" y="610.8" font-size="11.4" text-anchor="start" fill="#000" textLength="7.6" lengthAdjust="spacingAndGlyphs" stroke="#000" stroke-width="0.1">D</text>
<path d="M68.6 710 L68.62 710 L68.67 709.99 L68.74 709.98 L68.82 709.94 L68.91 709.88 L69.01 709.78 L69.13 709.64 L69.25 709.46 L69.39 709.22 L69.54 708.92 L69.69 708.55 L69.85 708.11 L70.02 707.31 L70.2 705.33 L70.39 702.33 L70.58 698.57 L70.79 694.47 L71 690.14 L71.21 684.86 L71.44 678.87 L71.67 672.57 L71.9 665.52 L72.15 658.24 L72.4 651.75 L72.65 645.58 L72.92 641.39 L73.18 638.7 L73.46 636.52 L73.74 634.92 L74.03 633.92 L74.32 633.14 L74.62 632.49 L74.92 632.03 L75.23 631.84 L75.54 631.97 L75.86 632.31 L76.19 632.77 L76.52 633.24 L76.86 633.78 L77.2 634.41 L77.54 635.1 L77.89 635.8 L78.25 636.49 L78.61 637.17 L78.98 637.88 L79.35 638.6 L79.73 639.33 L80.11 640.08 L80.49 640.83 L80.89 641.6 L81.28 642.38 L81.68 643.16 L82.09 643.96 L82.5 644.75 L82.91 645.55 L83.33 646.36 L83.75 647.16 L84.18 647.96 L84.61 648.78 L85.05 649.61 L85.49 650.45 L85.93 651.3 L86.38 652.15 L86.84 653.02 L87.29 653.88 L87.76 654.75 L88.22 655.62 L88.69 656.48 L89.17 657.34 L89.65 658.19 L90.13 659.04 L90.62 659.87 L91.11 660.68 L91.6 661.48 L92.1 662.25 L92.61 663.01 L93.11 663.76 L93.63 664.49 L94.14 665.22 L94.66 665.92 L95.18 666.62 L95.71 667.3 L96.24 667.97 L96.78 668.62 L97.32 669.25 L97.86 669.88 L98.4 670.49 L98.95 671.1 L99.51 671.7 L100.06 672.28 L100.63 672.85 L101.19 673.4 L101.76 673.93 L102.33 674.44 L102.91 674.93 L103.49 675.41 L104.07 675.89 L104.66 676.37 L105.25 676.84 L105.84 677.3 L106.44 677.76 L107.04 678.21 L107.65 678.65 L108.25 679.08 L108.87 679.5 L109.48 679.91 L110.1 680.3 L110.72 680.68 L111.35 681.04 L111.98 681.38 L112.61 681.71 L113.25 682.01 L113.89 682.3 L114.53 682.58 L115.18 682.86 L115.82 683.13 L116.48 683.39 L117.13 683.65 L117.79 683.9 L118.46 684.14 L119.12 684.38 L119.79 684.61 L120.47 684.82 L121.14 685.03 L121.82 685.24 L122.51 685.43 L123.19 685.61 L123.88 685.78 L124.57 685.95 L125.27 686.1 L125.97 686.24 L126.67 686.38 L127.38 686.53 L128.08 686.66 L128.8 686.8 L129.51 686.93 L130.23 687.06 L130.95 687.19 L131.68 687.31 L132.4 687.43 L133.13 687.55 L133.87 687.65 L134.6 687.75 L135.35 687.85 L136.09 687.93 L136.83 688.01 L137.58 688.08 L138.34 688.13 L139.09 688.18 L139.85 688.22" fill="none" stroke="#A3002B" stroke-width="1.3" stroke-linejoin="round"/>
<path d="M68.6 710 L68.62 710 L68.67 710 L68.74 709.98 L68.82 709.96 L68.91 709.91 L69.01 709.84 L69.13 709.74 L69.25 709.6 L69.39 709.42 L69.54 709.19 L69.69 708.92 L69.85 708.58 L70.02 707.9 L70.2 706.1 L70.39 703.41 L70.58 700.23 L70.79 697.1 L71 694.29 L71.21 691.2 L71.44 688.24 L71.67 686.05 L71.9 684.62 L72.15 683.31 L72.4 682.29 L72.65 681.72 L72.92 681.68 L73.18 681.82 L73.46 682.06 L73.74 682.36 L74.03 682.68 L74.32 683.14 L74.62 683.75 L74.92 684.46 L75.23 685.18 L75.54 685.84 L75.86 686.39 L76.19 686.9 L76.52 687.4 L76.86 687.87 L77.2 688.33 L77.54 688.76 L77.89 689.16 L78.25 689.35 L78.61 689.7 L78.98 690.42 L79.35 690.76 L79.73 690.8 L80.11 691.17 L80.49 691.53 L80.89 691.99 L81.28 692.17 L81.68 692.45 L82.09 692.72 L82.5 693.12 L82.91 693.22 L83.33 693.41 L83.75 693.42 L84.18 693.44 L84.61 693.58 L85.05 693.87 L85.49 694.02 L85.93 694.2 L86.38 694.4 L86.84 694.5 L87.29 694.42 L87.76 694.56 L88.22 694.62 L88.69 694.49 L89.17 694.71 L89.65 694.77 L90.13 694.97 L90.62 695.11 L91.11 695.05 L91.6 695.18 L92.1 695.08 L92.61 694.93 L93.11 695.12 L93.63 695.37 L94.14 695.13 L94.66 695.22 L95.18 695.3 L95.71 695.28 L96.24 695.38 L96.78 695.42 L97.32 695.64 L97.86 695.42 L98.4 695.46 L98.95 695.83 L99.51 695.61 L100.06 695.66 L100.63 695.78 L101.19 695.77 L101.76 695.8 L102.33 695.63 L102.91 695.8 L103.49 695.67 L104.07 695.86 L104.66 695.64 L105.25 695.62 L105.84 695.79 L106.44 695.74 L107.04 695.59 L107.65 695.65 L108.25 695.74 L108.87 695.83 L109.48 695.77 L110.1 695.6 L110.72 695.8 L111.35 695.48 L111.98 695.72 L112.61 695.44 L113.25 695.67 L113.89 695.38 L114.53 695.46 L115.18 695.52 L115.82 695.5 L116.48 695.42 L117.13 695.42 L117.79 695.51 L118.46 695.52 L119.12 695.37 L119.79 695.16 L120.47 695.26 L121.14 695.44 L121.82 695.1 L122.51 695.1 L123.19 694.99 L123.88 695.24 L124.57 694.97 L125.27 695.22 L125.97 694.93 L126.67 695.05 L127.38 695.03 L128.08 694.72 L128.8 695 L129.51 694.79 L130.23 694.61 L130.95 694.82 L131.68 694.8 L132.4 694.48 L133.13 694.63 L133.87 694.47 L134.6 694.71 L135.35 694.53 L136.09 694.57 L136.83 694.32 L137.58 694.52 L138.34 694.12 L139.09 694.45 L139.85 694.12" fill="none" stroke="#A3002B" stroke-width="1.3" stroke-linejoin="round"/>
<path d="M68.6 710 L68.62 710 L68.67 709.99 L68.74 709.96 L68.82 709.91 L68.91 709.81 L69.01 709.67 L69.13 709.47 L69.25 709.2 L69.39 708.84 L69.54 708.41 L69.69 707.86 L69.85 706.02 L70.02 702.76 L70.2 699.16 L70.39 696.6 L70.58 695.02 L70.79 693.57 L71 692.49 L71.21 692.06 L71.44 692.18 L71.67 692.48 L71.9 692.92 L72.15 693.41 L72.4 693.85 L72.65 694.25 L72.92 694.68 L73.18 695.13 L73.46 695.59 L73.74 696.04 L74.03 696.49 L74.32 696.9 L74.62 697.28 L74.92 697.67 L75.23 698.09 L75.54 698.5 L75.86 698.91 L76.19 699.29 L76.52 699.62 L76.86 699.89 L77.2 700.06 L77.54 700.11 L77.89 700.08 L78.25 700.14 L78.61 699.95 L78.98 699.97 L79.35 699.86 L79.73 699.86 L80.11 700.1 L80.49 700.15 L80.89 699.84 L81.28 700.11 L81.68 700.16 L82.09 699.89 L82.5 700.15 L82.91 700.05 L83.33 700.25 L83.75 700.23 L84.18 700.47 L84.61 700.31 L85.05 700.25 L85.49 700.42 L85.93 700.36 L86.38 700.41 L86.84 700.69 L87.29 700.43 L87.76 700.52 L88.22 700.66 L88.69 700.79 L89.17 700.47 L89.65 700.65 L90.13 700.57 L90.62 700.53 L91.11 700.62 L91.6 700.56 L92.1 700.8 L92.61 700.67 L93.11 700.84 L93.63 700.67 L94.14 700.73 L94.66 701.08 L95.18 701.1 L95.71 701.1 L96.24 700.82 L96.78 701.08 L97.32 701.04 L97.86 701.21 L98.4 701.16 L98.95 701.25 L99.51 701.3 L100.06 701.24 L100.63 701.28 L101.19 701.18 L101.76 701.31 L102.33 701.25 L102.91 701.32 L103.49 701.3 L104.07 701.46 L104.66 701.71 L105.25 701.46 L105.84 701.45 L106.44 701.51 L107.04 701.68 L107.65 701.66 L108.25 701.9 L108.87 701.68 L109.48 701.82 L110.1 701.98 L110.72 702.1 L111.35 701.82 L111.98 701.79 L112.61 702.2 L113.25 701.94 L113.89 702.13 L114.53 702.27 L115.18 702.25 L115.82 702.09 L116.48 702.08 L117.13 702.45 L117.79 702.25 L118.46 702.51 L119.12 702.27 L119.79 702.46 L120.47 702.27 L121.14 702.26 L121.82 702.48 L122.51 702.31 L123.19 702.63 L123.88 702.75 L124.57 702.56 L125.27 702.82 L125.97 702.78 L126.67 702.72 L127.38 702.66 L128.08 702.87 L128.8 702.93 L129.51 702.62 L130.23 702.86 L130.95 702.62 L131.68 702.66 L132.4 702.89 L133.13 702.88 L133.87 702.87 L134.6 702.83 L135.35 702.87 L136.09 702.9 L136.83 702.89 L137.58 702.77 L138.34 702.96 L139.09 703 L139.85 702.89" fill="none" stroke="#A3002B" stroke-width="1.3" stroke-linejoin="round"/>
<path d="M68.6 710 L68.62 709.91 L68.67 709.73 L68.74 709.49 L68.82 709.2 L68.91 708.87 L69.01 708.51 L69.13 708.13 L69.25 707.74 L69.39 707.35 L69.54 706.96 L69.69 706.57 L69.85 706.13 L70.02 705.68 L70.2 705.24 L70.39 704.84 L70.58 704.54 L70.79 704.37 L71 704.38 L71.21 704.49 L71.44 704.68 L71.67 704.92 L71.9 705.18 L72.15 705.43 L72.4 705.64 L72.65 705.81 L72.92 705.99 L73.18 706.17 L73.46 706.36 L73.74 706.54 L74.03 706.71 L74.32 706.88 L74.62 707.03 L74.92 707.15 L75.23 707.26 L75.54 707.33 L75.86 707.37 L76.19 707.41 L76.52 707.45 L76.86 707.49 L77.2 707.52 L77.54 707.56 L77.89 707.59 L78.25 707.72 L78.61 707.8 L78.98 707.7 L79.35 707.81 L79.73 707.86 L80.11 707.73 L80.49 707.52 L80.89 707.57 L81.28 707.59 L81.68 707.81 L82.09 707.68 L82.5 707.79 L82.91 707.83 L83.33 707.86 L83.75 707.81 L84.18 707.52 L84.61 707.56 L85.05 707.57 L85.49 707.57 L85.93 707.82 L86.38 707.77 L86.84 707.64 L87.29 707.6 L87.76 707.55 L88.22 707.54 L88.69 707.86 L89.17 707.65 L89.65 707.62 L90.13 707.69 L90.62 707.83 L91.11 707.7 L91.6 707.86 L92.1 707.52 L92.61 707.54 L93.11 707.67 L93.63 707.77 L94.14 707.52 L94.66 707.66 L95.18 707.53 L95.71 707.54 L96.24 707.68 L96.78 707.71 L97.32 707.63 L97.86 707.7 L98.4 707.8 L98.95 707.74 L99.51 707.52 L100.06 707.83 L100.63 707.82 L101.19 707.58 L101.76 707.71 L102.33 707.6 L102.91 707.62 L103.49 707.66 L104.07 707.39 L104.66 707.71 L105.25 707.61 L105.84 707.68 L106.44 707.5 L107.04 707.63 L107.65 707.59 L108.25 707.42 L108.87 707.59 L109.48 707.48 L110.1 707.33 L110.72 707.65 L111.35 707.65 L111.98 707.58 L112.61 707.35 L113.25 707.4 L113.89 707.54 L114.53 707.49 L115.18 707.55 L115.82 707.42 L116.48 707.58 L117.13 707.3 L117.79 707.21 L118.46 707.17 L119.12 707.25 L119.79 707.14 L120.47 707.52 L121.14 707.39 L121.82 707.1 L122.51 707.16 L123.19 707.3 L123.88 707.07 L124.57 707.19 L125.27 707.1 L125.97 707.3 L126.67 707.33 L127.38 707.21 L128.08 707.33 L128.8 707.22 L129.51 706.97 L130.23 707.22 L130.95 707.34 L131.68 707.31 L132.4 707.25 L133.13 706.99 L133.87 707.15 L134.6 707.18 L135.35 707.24 L136.09 706.87 L136.83 707.09 L137.58 707.17 L138.34 707.22 L139.09 707.22 L139.85 707.16" fill="none" stroke="#A3002B" stroke-width="1.3" stroke-linejoin="round"/>
<path d="M68.6 710 L68.62 709.99 L68.67 709.96 L68.73 709.93 L68.81 709.88 L68.9 709.83 L69.01 709.77 L69.12 709.71 L69.25 709.64 L69.38 709.56 L69.52 709.47 L69.68 709.38 L69.84 709.28 L70.01 709.18 L70.18 709.07 L70.37 708.95 L70.56 708.82 L70.76 708.69 L70.97 708.55 L71.18 708.4 L71.4 708.25 L71.63 708.08 L71.86 707.91 L72.11 707.74 L72.35 707.55 L72.61 707.35 L72.86 707.14 L73.13 706.93 L73.4 706.7 L73.68 706.45 L73.96 706.2 L74.25 705.94 L74.55 705.67 L74.85 705.39 L75.15 705.11 L75.46 704.81 L75.78 704.51 L76.1 704.21 L76.43 703.9 L76.76 703.58 L77.1 703.27 L77.44 702.94 L77.79 702.61 L78.14 702.27 L78.5 701.92 L78.86 701.56 L79.23 701.2 L79.6 700.83 L79.97 700.45 L80.36 700.07 L80.74 699.68 L81.13 699.28 L81.53 698.88 L81.93 698.47 L82.33 698.06 L82.74 697.64 L83.16 697.23 L83.57 696.8 L84 696.38 L84.42 695.95 L84.85 695.52 L85.29 695.09 L85.73 694.66 L86.17 694.23 L86.62 693.8 L87.08 693.38 L87.53 692.97 L87.99 692.56 L88.46 692.16 L88.93 691.76 L89.4 691.36 L89.88 690.95 L90.36 690.55 L90.85 690.13 L91.34 689.71 L91.83 689.28 L92.33 688.83 L92.83 688.37 L93.33 687.89 L93.84 687.39 L94.36 686.86 L94.87 686.31 L95.39 685.73 L95.92 685.11 L96.45 684.43 L96.98 683.7 L97.52 682.92 L98.06 682.09 L98.6 681.22 L99.15 680.32 L99.7 679.37 L100.25 678.26 L100.81 677.06 L101.37 675.86 L101.94 674.76 L102.51 673.85 L103.08 673.04 L103.66 672.26 L104.24 671.52 L104.82 670.82 L105.41 670.16 L106 669.54 L106.59 668.95 L107.19 668.39 L107.79 667.87 L108.4 667.36 L109 666.87 L109.62 666.42 L110.23 666.06 L110.85 665.79 L111.47 665.57 L112.1 665.39 L112.73 665.31 L113.36 665.35 L113.99 665.45 L114.63 665.6 L115.27 665.76 L115.92 665.93 L116.57 666.14 L117.22 666.37 L117.88 666.63 L118.53 666.91 L119.2 667.18 L119.86 667.46 L120.53 667.72 L121.2 668.01 L121.88 668.31 L122.55 668.61 L123.24 668.93 L123.92 669.23 L124.61 669.52 L125.3 669.79 L125.99 670.03 L126.69 670.23 L127.39 670.39 L128.09 670.55 L128.8 670.7 L129.51 670.83 L130.22 670.93 L130.94 671.01 L131.66 671.05 L132.38 671.08 L133.11 671.11 L133.83 671.13 L134.57 671.15 L135.3 671.16 L136.04 671.18 L136.78 671.19 L137.52 671.2 L138.27 671.2 L139.02 671.2" fill="none" stroke="#A3002B" stroke-width="1.35" stroke-linejoin="round" stroke-dasharray="3.4 1.9"/>
<line x1="68.6" y1="604.2" x2="68.6" y2="710.6" stroke="#000" stroke-width="1.35"/>
<line x1="67.95" y1="710.2" x2="141.2" y2="710.2" stroke="#000" stroke-width="1.2"/>
<line x1="65" y1="710" x2="68.6" y2="710" stroke="#000" stroke-width="1"/>
<text x="61.8" y="713" font-size="8.4" text-anchor="end" fill="#000" textLength="10.86" lengthAdjust="spacingAndGlyphs" stroke="#000" stroke-width="0.15">0.0</text>
<line x1="65" y1="684.38" x2="68.6" y2="684.38" stroke="#000" stroke-width="1"/>
<text x="61.8" y="687.38" font-size="8.4" text-anchor="end" fill="#000" textLength="10.86" lengthAdjust="spacingAndGlyphs" stroke="#000" stroke-width="0.15">0.5</text>
<line x1="65" y1="658.75" x2="68.6" y2="658.75" stroke="#000" stroke-width="1"/>
<text x="61.8" y="661.75" font-size="8.4" text-anchor="end" fill="#000" textLength="10.86" lengthAdjust="spacingAndGlyphs" stroke="#000" stroke-width="0.15">1.0</text>
<line x1="65" y1="633.12" x2="68.6" y2="633.12" stroke="#000" stroke-width="1"/>
<text x="61.8" y="636.12" font-size="8.4" text-anchor="end" fill="#000" textLength="10.86" lengthAdjust="spacingAndGlyphs" stroke="#000" stroke-width="0.15">1.5</text>
<line x1="65" y1="607.5" x2="68.6" y2="607.5" stroke="#000" stroke-width="1"/>
<text x="61.8" y="610.5" font-size="8.4" text-anchor="end" fill="#000" textLength="10.86" lengthAdjust="spacingAndGlyphs" stroke="#000" stroke-width="0.15">2.0</text>
<line x1="68.6" y1="710" x2="68.6" y2="713.2" stroke="#000" stroke-width="1"/>
<text x="68.6" y="724.3" font-size="8.4" text-anchor="middle" fill="#000" textLength="4.34" lengthAdjust="spacingAndGlyphs" stroke="#000" stroke-width="0.15">0</text>
<line x1="92.35" y1="710" x2="92.35" y2="713.2" stroke="#000" stroke-width="1"/>
<text x="92.35" y="724.3" font-size="8.4" text-anchor="middle" fill="#000" textLength="8.69" lengthAdjust="spacingAndGlyphs" stroke="#000" stroke-width="0.15">20</text>
<line x1="116.1" y1="710" x2="116.1" y2="713.2" stroke="#000" stroke-width="1"/>
<text x="116.1" y="724.3" font-size="8.4" text-anchor="middle" fill="#000" textLength="8.69" lengthAdjust="spacingAndGlyphs" stroke="#000" stroke-width="0.15">40</text>
<line x1="139.85" y1="710" x2="139.85" y2="713.2" stroke="#000" stroke-width="1"/>
<text x="139.85" y="724.3" font-size="8.4" text-anchor="middle" fill="#000" textLength="8.69" lengthAdjust="spacingAndGlyphs" stroke="#000" stroke-width="0.15">60</text>
<text x="106.3" y="738.2" font-size="9.9" text-anchor="middle" fill="#000" textLength="35" lengthAdjust="spacingAndGlyphs" stroke="#000" stroke-width="0.18">Time (s)</text>
<text x="43.4" y="713.8" font-size="9.9" text-anchor="start" fill="#000" transform="rotate(-90 43.4 713.8)" textLength="113.3" lengthAdjust="spacingAndGlyphs" stroke="#000" stroke-width="0.18">Calcium mobilisation (AU)</text>
<text x="141.8" y="690.6" font-size="7.6" text-anchor="start" fill="#000" stroke="#000" stroke-width="0.18">50</text>
<text x="141.8" y="697.3" font-size="7.6" text-anchor="start" fill="#000" stroke="#000" stroke-width="0.18">20</text>
<text x="141.8" y="704.4" font-size="7.6" text-anchor="start" fill="#000" stroke="#000" stroke-width="0.18">10</text>
<text x="141.8" y="710.7" font-size="7.6" text-anchor="start" fill="#000" stroke="#000" stroke-width="0.18">5</text>
<text x="148.9" y="677.7" font-size="7.5" text-anchor="start" fill="#000" transform="rotate(-90 148.9 677.7)" textLength="24.2" lengthAdjust="spacingAndGlyphs" stroke="#000" stroke-width="0.18">CRP-XL</text>
<text x="158.6" y="679" font-size="7.5" text-anchor="start" fill="#000" transform="rotate(-90 158.6 679)" textLength="27.6" lengthAdjust="spacingAndGlyphs" stroke="#000" stroke-width="0.18">1 µg/mL</text>
<line x1="155.2" y1="683.7" x2="155.2" y2="711.3" stroke="#3a3a3a" stroke-width="1.2"/>
<text x="166" y="716.7" font-size="7.5" text-anchor="start" fill="#000" transform="rotate(-90 166 716.7)" textLength="33.9" lengthAdjust="spacingAndGlyphs" stroke="#000" stroke-width="0.18">LL37 (µM)</text>
<rect x="226.2" y="701.25" width="10.8" height="8.35" fill="#A3002B"/>
<line x1="231.6" y1="699.5" x2="231.6" y2="701.75" stroke="#1c1c1c" stroke-width="1.3"/>
<line x1="228.6" y1="699.5" x2="234.6" y2="699.5" stroke="#1c1c1c" stroke-width="1.15"/>
<rect x="241.7" y="687.5" width="10.8" height="22.1" fill="#A3002B"/>
<line x1="247.1" y1="680.5" x2="247.1" y2="688" stroke="#1c1c1c" stroke-width="1.3"/>
<line x1="244.1" y1="680.5" x2="250.1" y2="680.5" stroke="#1c1c1c" stroke-width="1.15"/>
<rect x="257.2" y="670" width="10.8" height="39.6" fill="#A3002B"/>
<line x1="262.6" y1="660.5" x2="262.6" y2="670.5" stroke="#1c1c1c" stroke-width="1.3"/>
<line x1="259.6" y1="660.5" x2="265.6" y2="660.5" stroke="#1c1c1c" stroke-width="1.15"/>
<text x="262.8" y="660" font-size="7.6" text-anchor="middle" fill="#000" stroke="#000" stroke-width="0.3" letter-spacing="0.45">*</text>
<rect x="272.7" y="657.25" width="10.8" height="52.35" fill="#A3002B"/>
<line x1="278.1" y1="644.5" x2="278.1" y2="657.75" stroke="#1c1c1c" stroke-width="1.3"/>
<line x1="275.1" y1="644.5" x2="281.1" y2="644.5" stroke="#1c1c1c" stroke-width="1.15"/>
<text x="278.3" y="643.75" font-size="7.6" text-anchor="middle" fill="#000" stroke="#000" stroke-width="0.3" letter-spacing="0.45">*</text>
<rect x="288.2" y="607" width="10.8" height="102.6" fill="#A3002B"/>
<text x="293.8" y="606.25" font-size="7.6" text-anchor="middle" fill="#000" stroke="#000" stroke-width="0.3" letter-spacing="0.45">**</text>
<line x1="221.2" y1="603.7" x2="221.2" y2="710.2" stroke="#000" stroke-width="1.35"/>
<line x1="220.55" y1="709.8" x2="303.8" y2="709.8" stroke="#000" stroke-width="1.2"/>
<line x1="217.8" y1="709.5" x2="221.2" y2="709.5" stroke="#000" stroke-width="1.05"/>
<text x="215" y="712.8" font-size="8.4" text-anchor="end" fill="#000" textLength="4.34" lengthAdjust="spacingAndGlyphs" stroke="#000" stroke-width="0.15">0</text>
<line x1="217.8" y1="688.5" x2="221.2" y2="688.5" stroke="#000" stroke-width="1.05"/>
<text x="215" y="692.3" font-size="8.4" text-anchor="end" fill="#000" textLength="8.69" lengthAdjust="spacingAndGlyphs" stroke="#000" stroke-width="0.15">20</text>
<line x1="217.8" y1="668.5" x2="221.2" y2="668.5" stroke="#000" stroke-width="1.05"/>
<text x="215" y="671.8" font-size="8.4" text-anchor="end" fill="#000" textLength="8.69" lengthAdjust="spacingAndGlyphs" stroke="#000" stroke-width="0.15">40</text>
<line x1="217.8" y1="648.5" x2="221.2" y2="648.5" stroke="#000" stroke-width="1.05"/>
<text x="215" y="651.3" font-size="8.4" text-anchor="end" fill="#000" textLength="8.69" lengthAdjust="spacingAndGlyphs" stroke="#000" stroke-width="0.15">60</text>
<line x1="217.8" y1="627.5" x2="221.2" y2="627.5" stroke="#000" stroke-width="1.05"/>
<text x="215" y="630.8" font-size="8.4" text-anchor="end" fill="#000" textLength="8.69" lengthAdjust="spacingAndGlyphs" stroke="#000" stroke-width="0.15">80</text>
<line x1="217.8" y1="606.5" x2="221.2" y2="606.5" stroke="#000" stroke-width="1.05"/>
<text x="215" y="610.3" font-size="8.4" text-anchor="end" fill="#000" textLength="13.03" lengthAdjust="spacingAndGlyphs" stroke="#000" stroke-width="0.15">100</text>
<line x1="231.6" y1="709.6" x2="231.6" y2="712.8" stroke="#000" stroke-width="1"/>
<text x="231.6" y="723.8" font-size="8.4" text-anchor="middle" fill="#000" textLength="4.34" lengthAdjust="spacingAndGlyphs" stroke="#000" stroke-width="0.15">0</text>
<line x1="247.1" y1="709.6" x2="247.1" y2="712.8" stroke="#000" stroke-width="1"/>
<text x="247.1" y="723.8" font-size="8.4" text-anchor="middle" fill="#000" textLength="4.34" lengthAdjust="spacingAndGlyphs" stroke="#000" stroke-width="0.15">5</text>
<line x1="262.6" y1="709.6" x2="262.6" y2="712.8" stroke="#000" stroke-width="1"/>
<text x="262.6" y="723.8" font-size="8.4" text-anchor="middle" fill="#000" textLength="8.69" lengthAdjust="spacingAndGlyphs" stroke="#000" stroke-width="0.15">10</text>
<line x1="278.1" y1="709.6" x2="278.1" y2="712.8" stroke="#000" stroke-width="1"/>
<text x="278.1" y="723.8" font-size="8.4" text-anchor="middle" fill="#000" textLength="8.69" lengthAdjust="spacingAndGlyphs" stroke="#000" stroke-width="0.15">20</text>
<line x1="293.6" y1="709.6" x2="293.6" y2="712.8" stroke="#000" stroke-width="1"/>
<text x="293.6" y="723.8" font-size="8.4" text-anchor="middle" fill="#000" textLength="8.69" lengthAdjust="spacingAndGlyphs" stroke="#000" stroke-width="0.15">50</text>
<text x="262.5" y="737.9" font-size="9.7" text-anchor="middle" fill="#000" textLength="43.2" lengthAdjust="spacingAndGlyphs" stroke="#000" stroke-width="0.18">LL37 (µM)</text>
<text x="193.3" y="720" font-size="9.9" text-anchor="start" fill="#000" transform="rotate(-90 193.3 720)" textLength="127" lengthAdjust="spacingAndGlyphs" stroke="#000" stroke-width="0.18">Max calcium mobilisation (%)</text>
<text x="317.4" y="610.8" font-size="11.4" text-anchor="start" fill="#000" textLength="6.2" lengthAdjust="spacingAndGlyphs" stroke="#000" stroke-width="0.1">E</text>
<rect x="368.2" y="607" width="15.2" height="102.6" fill="#A3002B"/>
<rect x="386.2" y="698.25" width="15.2" height="11.35" fill="#A3002B"/>
<line x1="393.8" y1="697" x2="393.8" y2="698.75" stroke="#1c1c1c" stroke-width="1.3"/>
<line x1="390.05" y1="697.5" x2="397.55" y2="697.5" stroke="#1c1c1c" stroke-width="1.15"/>
<rect x="404.2" y="698.25" width="15.2" height="11.35" fill="#A3002B"/>
<line x1="411.8" y1="695" x2="411.8" y2="698.75" stroke="#1c1c1c" stroke-width="1.3"/>
<line x1="408.05" y1="695.5" x2="415.55" y2="695.5" stroke="#1c1c1c" stroke-width="1.15"/>
<rect x="422.2" y="698.25" width="15.2" height="11.35" fill="#A3002B"/>
<line x1="429.8" y1="694.5" x2="429.8" y2="698.75" stroke="#1c1c1c" stroke-width="1.3"/>
<line x1="426.05" y1="694.5" x2="433.55" y2="694.5" stroke="#1c1c1c" stroke-width="1.15"/>
<rect x="440.2" y="693.75" width="15.2" height="15.85" fill="#A3002B"/>
<line x1="447.8" y1="691.75" x2="447.8" y2="694.25" stroke="#1c1c1c" stroke-width="1.3"/>
<line x1="444.05" y1="692.5" x2="451.55" y2="692.5" stroke="#1c1c1c" stroke-width="1.15"/>
<rect x="458.2" y="690" width="15.2" height="19.6" fill="#A3002B"/>
<line x1="465.8" y1="686.5" x2="465.8" y2="690.5" stroke="#1c1c1c" stroke-width="1.3"/>
<line x1="462.05" y1="686.5" x2="469.55" y2="686.5" stroke="#1c1c1c" stroke-width="1.15"/>
<rect x="476.2" y="686.25" width="15.2" height="23.35" fill="#A3002B"/>
<line x1="483.8" y1="683.75" x2="483.8" y2="686.75" stroke="#1c1c1c" stroke-width="1.3"/>
<line x1="480.05" y1="684.5" x2="487.55" y2="684.5" stroke="#1c1c1c" stroke-width="1.15"/>
<rect x="494.2" y="684" width="15.2" height="25.6" fill="#A3002B"/>
<line x1="501.8" y1="683.5" x2="501.8" y2="684.5" stroke="#1c1c1c" stroke-width="1.3"/>
<line x1="498.05" y1="683.5" x2="505.55" y2="683.5" stroke="#1c1c1c" stroke-width="1.15"/>
<text x="502" y="683" font-size="7.6" text-anchor="middle" fill="#000" stroke="#000" stroke-width="0.3" letter-spacing="0.45">*</text>
<line x1="365.6" y1="603.7" x2="365.6" y2="710.2" stroke="#000" stroke-width="1.35"/>
<line x1="364.95" y1="709.8" x2="511.8" y2="709.8" stroke="#000" stroke-width="1.2"/>
<line x1="362.2" y1="709.5" x2="365.6" y2="709.5" stroke="#000" stroke-width="1.05"/>
<text x="359.3" y="712.8" font-size="8.4" text-anchor="end" fill="#000" textLength="4.34" lengthAdjust="spacingAndGlyphs" stroke="#000" stroke-width="0.15">0</text>
<line x1="362.2" y1="688.5" x2="365.6" y2="688.5" stroke="#000" stroke-width="1.05"/>
<text x="359.3" y="692.3" font-size="8.4" text-anchor="end" fill="#000" textLength="8.69" lengthAdjust="spacingAndGlyphs" stroke="#000" stroke-width="0.15">20</text>
<line x1="362.2" y1="668.5" x2="365.6" y2="668.5" stroke="#000" stroke-width="1.05"/>
<text x="359.3" y="671.8" font-size="8.4" text-anchor="end" fill="#000" textLength="8.69" lengthAdjust="spacingAndGlyphs" stroke="#000" stroke-width="0.15">40</text>
<line x1="362.2" y1="648.5" x2="365.6" y2="648.5" stroke="#000" stroke-width="1.05"/>
<text x="359.3" y="651.3" font-size="8.4" text-anchor="end" fill="#000" textLength="8.69" lengthAdjust="spacingAndGlyphs" stroke="#000" stroke-width="0.15">60</text>
<line x1="362.2" y1="627.5" x2="365.6" y2="627.5" stroke="#000" stroke-width="1.05"/>
<text x="359.3" y="630.8" font-size="8.4" text-anchor="end" fill="#000" textLength="8.69" lengthAdjust="spacingAndGlyphs" stroke="#000" stroke-width="0.15">80</text>
<line x1="362.2" y1="606.5" x2="365.6" y2="606.5" stroke="#000" stroke-width="1.05"/>
<text x="359.3" y="610.3" font-size="8.4" text-anchor="end" fill="#000" textLength="13.03" lengthAdjust="spacingAndGlyphs" stroke="#000" stroke-width="0.15">100</text>
<line x1="375.8" y1="709.6" x2="375.8" y2="712.8" stroke="#000" stroke-width="1"/>
<text x="375.8" y="723.8" font-size="8.4" text-anchor="middle" fill="#000" textLength="5.64" lengthAdjust="spacingAndGlyphs" stroke="#000" stroke-width="0.15">C</text>
<line x1="393.8" y1="709.6" x2="393.8" y2="712.8" stroke="#000" stroke-width="1"/>
<text x="393.8" y="723.8" font-size="8.4" text-anchor="middle" fill="#000" textLength="4.34" lengthAdjust="spacingAndGlyphs" stroke="#000" stroke-width="0.15">0</text>
<line x1="411.8" y1="709.6" x2="411.8" y2="712.8" stroke="#000" stroke-width="1"/>
<text x="411.8" y="723.8" font-size="8.4" text-anchor="middle" fill="#000" textLength="4.34" lengthAdjust="spacingAndGlyphs" stroke="#000" stroke-width="0.15">1</text>
<line x1="429.8" y1="709.6" x2="429.8" y2="712.8" stroke="#000" stroke-width="1"/>
<text x="429.8" y="723.8" font-size="8.4" text-anchor="middle" fill="#000" textLength="4.34" lengthAdjust="spacingAndGlyphs" stroke="#000" stroke-width="0.15">5</text>
<line x1="447.8" y1="709.6" x2="447.8" y2="712.8" stroke="#000" stroke-width="1"/>
<text x="447.8" y="723.8" font-size="8.4" text-anchor="middle" fill="#000" textLength="8.69" lengthAdjust="spacingAndGlyphs" stroke="#000" stroke-width="0.15">10</text>
<line x1="465.8" y1="709.6" x2="465.8" y2="712.8" stroke="#000" stroke-width="1"/>
<text x="465.8" y="723.8" font-size="8.4" text-anchor="middle" fill="#000" textLength="8.69" lengthAdjust="spacingAndGlyphs" stroke="#000" stroke-width="0.15">20</text>
<line x1="483.8" y1="709.6" x2="483.8" y2="712.8" stroke="#000" stroke-width="1"/>
<text x="483.8" y="723.8" font-size="8.4" text-anchor="middle" fill="#000" textLength="8.69" lengthAdjust="spacingAndGlyphs" stroke="#000" stroke-width="0.15">50</text>
<line x1="501.8" y1="709.6" x2="501.8" y2="712.8" stroke="#000" stroke-width="1"/>
<text x="501.8" y="723.8" font-size="8.4" text-anchor="middle" fill="#000" textLength="13.03" lengthAdjust="spacingAndGlyphs" stroke="#000" stroke-width="0.15">100</text>
<text x="438.8" y="737.9" font-size="9.7" text-anchor="middle" fill="#000" textLength="43.2" lengthAdjust="spacingAndGlyphs" stroke="#000" stroke-width="0.18">LL37 (µM)</text>
<text x="337.8" y="690.8" font-size="9.9" text-anchor="start" fill="#000" transform="rotate(-90 337.8 690.8)" textLength="68.3" lengthAdjust="spacingAndGlyphs" stroke="#000" stroke-width="0.18">Cytotoxicity (%)</text>
<rect x="0" y="0" width="520" height="1.15" fill="#000"/>
<rect x="0" y="0" width="1.3" height="749" fill="#000"/>
<rect x="0" y="747.5" width="520" height="1.5" fill="#000"/>
<rect x="518.2" y="0" width="1.8" height="749" fill="#484848"/>
</svg>
</div>
</body>
</html>
